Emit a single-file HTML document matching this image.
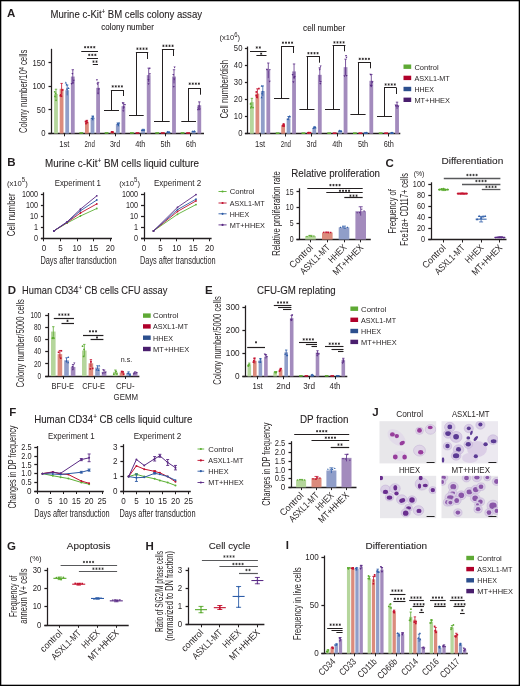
<!DOCTYPE html>
<html><head><meta charset="utf-8"><style>
html,body{margin:0;padding:0;background:#fff;}
svg{display:block;will-change:transform;}
text{font-family:"Liberation Sans", sans-serif;fill:#231f20;}
.t{stroke:#231f20;stroke-width:0.1px;}
</style></head><body>
<svg width="520" height="686" viewBox="0 0 520 686">
<rect x="0" y="0" width="520" height="686" fill="#fff"/>
<text x="7" y="16.5" font-size="11.5" font-weight="bold">A</text>
<text x="50.5" y="18.0" font-size="10.1" class="t" textLength="151.5" lengthAdjust="spacingAndGlyphs">Murine c-Kit<tspan font-size="6.5" dy="-3.8">+</tspan><tspan dy="3.8"> BM cells colony assay</tspan></text>
<text x="101.3" y="30" font-size="8.2" class="t" textLength="52.5" lengthAdjust="spacingAndGlyphs">colony number</text>
<text font-size="10.32" text-anchor="middle" textLength="83.5" lengthAdjust="spacingAndGlyphs" transform="translate(27.2,91.3) rotate(-90)">Colony number/10<tspan font-size="7" dy="-3.6">4</tspan><tspan dy="3.6"> cells</tspan></text>
<line x1="51.5" y1="48.8" x2="51.5" y2="133.5" stroke="#231f20" stroke-width="1.25"/>
<line x1="48.5" y1="62.5" x2="51.5" y2="62.5" stroke="#231f20" stroke-width="1.25"/>
<text x="45.4" y="65.56" font-size="8.6" text-anchor="end" textLength="12.81" lengthAdjust="spacingAndGlyphs">150</text>
<line x1="48.5" y1="86.5" x2="51.5" y2="86.5" stroke="#231f20" stroke-width="1.25"/>
<text x="45.4" y="89.1" font-size="8.6" text-anchor="end" textLength="12.81" lengthAdjust="spacingAndGlyphs">100</text>
<line x1="48.5" y1="109.5" x2="51.5" y2="109.5" stroke="#231f20" stroke-width="1.25"/>
<text x="45.4" y="112.63" font-size="8.6" text-anchor="end" textLength="8.54" lengthAdjust="spacingAndGlyphs">50</text>
<line x1="48.5" y1="133.5" x2="51.5" y2="133.5" stroke="#231f20" stroke-width="1.25"/>
<text x="45.4" y="136.17" font-size="8.6" text-anchor="end" textLength="4.27" lengthAdjust="spacingAndGlyphs">0</text>
<line x1="48.5" y1="133.5" x2="204" y2="133.5" stroke="#231f20" stroke-width="1.3"/>
<line x1="64.5" y1="133.5" x2="64.5" y2="136.3" stroke="#231f20" stroke-width="1"/>
<line x1="89.5" y1="133.5" x2="89.5" y2="136.3" stroke="#231f20" stroke-width="1"/>
<line x1="115.5" y1="133.5" x2="115.5" y2="136.3" stroke="#231f20" stroke-width="1"/>
<line x1="140.5" y1="133.5" x2="140.5" y2="136.3" stroke="#231f20" stroke-width="1"/>
<line x1="165.5" y1="133.5" x2="165.5" y2="136.3" stroke="#231f20" stroke-width="1"/>
<line x1="190.5" y1="133.5" x2="190.5" y2="136.3" stroke="#231f20" stroke-width="1"/>
<rect x="54.1" y="93.96" width="3.8" height="39.54" fill="#b5d69c"/>
<line x1="56" y1="89.22" x2="56" y2="98.71" stroke="#5aaa2e" stroke-width="0.8"/>
<line x1="54.8" y1="89.22" x2="57.2" y2="89.22" stroke="#5aaa2e" stroke-width="0.8"/>
<circle cx="54.94" cy="96.47" r="0.89" fill="#5aaa2e"/>
<circle cx="54.7" cy="91.81" r="0.89" fill="#5aaa2e"/>
<circle cx="55.59" cy="93.45" r="0.89" fill="#5aaa2e"/>
<circle cx="56.02" cy="100.25" r="0.89" fill="#5aaa2e"/>
<rect x="59.7" y="88.78" width="3.8" height="44.72" fill="#db8b7c"/>
<line x1="61.6" y1="83.42" x2="61.6" y2="94.15" stroke="#c4122f" stroke-width="0.8"/>
<line x1="60.4" y1="83.42" x2="62.8" y2="83.42" stroke="#c4122f" stroke-width="0.8"/>
<rect x="60.56" y="95.39" width="1.68" height="1.68" fill="#c4122f"/>
<rect x="59.52" y="94.87" width="1.68" height="1.68" fill="#c4122f"/>
<rect x="61.75" y="89.16" width="1.68" height="1.68" fill="#c4122f"/>
<rect x="59.92" y="94" width="1.68" height="1.68" fill="#c4122f"/>
<rect x="65.3" y="90.2" width="3.8" height="43.3" fill="#909ec9"/>
<line x1="67.2" y1="85" x2="67.2" y2="95.39" stroke="#2e5da8" stroke-width="0.8"/>
<line x1="66" y1="85" x2="68.4" y2="85" stroke="#2e5da8" stroke-width="0.8"/>
<path d="M68.56,87.05L69.61,88.94L67.51,88.94Z" fill="#2e5da8"/>
<path d="M66.89,87.84L67.94,89.73L65.84,89.73Z" fill="#2e5da8"/>
<path d="M65.82,81.62L66.87,83.51L64.77,83.51Z" fill="#2e5da8"/>
<path d="M66.56,83.45L67.61,85.34L65.51,85.34Z" fill="#2e5da8"/>
<rect x="70.9" y="76.55" width="3.8" height="56.95" fill="#a38bbd"/>
<line x1="72.8" y1="69.71" x2="72.8" y2="83.38" stroke="#5b2c86" stroke-width="0.8"/>
<line x1="71.6" y1="69.71" x2="74" y2="69.71" stroke="#5b2c86" stroke-width="0.8"/>
<path d="M71.64,84.99L72.69,83.1L70.59,83.1Z" fill="#5b2c86"/>
<path d="M73.76,81.63L74.81,79.74L72.71,79.74Z" fill="#5b2c86"/>
<path d="M73.05,84.25L74.1,82.36L72,82.36Z" fill="#5b2c86"/>
<path d="M72.41,74.85L73.46,72.96L71.36,72.96Z" fill="#5b2c86"/>
<rect x="79.4" y="132.2" width="3.8" height="1.6" fill="#5aaa2e"/>
<rect x="85" y="121.73" width="3.8" height="11.77" fill="#db8b7c"/>
<line x1="86.9" y1="120.32" x2="86.9" y2="123.14" stroke="#c4122f" stroke-width="0.8"/>
<line x1="85.7" y1="120.32" x2="88.1" y2="120.32" stroke="#c4122f" stroke-width="0.8"/>
<rect x="84.73" y="120.69" width="1.68" height="1.68" fill="#c4122f"/>
<rect x="85.17" y="122.76" width="1.68" height="1.68" fill="#c4122f"/>
<rect x="85.84" y="120.13" width="1.68" height="1.68" fill="#c4122f"/>
<rect x="86.32" y="121.68" width="1.68" height="1.68" fill="#c4122f"/>
<rect x="90.6" y="117.97" width="3.8" height="15.53" fill="#909ec9"/>
<line x1="92.5" y1="116.1" x2="92.5" y2="119.83" stroke="#2e5da8" stroke-width="0.8"/>
<line x1="91.3" y1="116.1" x2="93.7" y2="116.1" stroke="#2e5da8" stroke-width="0.8"/>
<path d="M91.89,117.07L92.94,118.96L90.84,118.96Z" fill="#2e5da8"/>
<path d="M93.1,115.17L94.15,117.06L92.05,117.06Z" fill="#2e5da8"/>
<path d="M92.73,118.24L93.78,120.13L91.68,120.13Z" fill="#2e5da8"/>
<path d="M93.64,116.67L94.69,118.56L92.59,118.56Z" fill="#2e5da8"/>
<rect x="96.2" y="87.84" width="3.8" height="45.66" fill="#a38bbd"/>
<line x1="98.1" y1="82.36" x2="98.1" y2="93.32" stroke="#5b2c86" stroke-width="0.8"/>
<line x1="96.9" y1="82.36" x2="99.3" y2="82.36" stroke="#5b2c86" stroke-width="0.8"/>
<path d="M97.46,85.23L98.51,83.34L96.41,83.34Z" fill="#5b2c86"/>
<path d="M96.94,81.1L97.99,79.21L95.89,79.21Z" fill="#5b2c86"/>
<path d="M98.88,90.34L99.93,88.45L97.83,88.45Z" fill="#5b2c86"/>
<path d="M98.07,94.72L99.12,92.83L97.02,92.83Z" fill="#5b2c86"/>
<rect x="104.7" y="132.2" width="3.8" height="1.6" fill="#5aaa2e"/>
<rect x="110.3" y="132.09" width="3.8" height="1.41" fill="#db8b7c"/>
<line x1="112.2" y1="131.92" x2="112.2" y2="132.26" stroke="#c4122f" stroke-width="0.8"/>
<line x1="111" y1="131.92" x2="113.4" y2="131.92" stroke="#c4122f" stroke-width="0.8"/>
<rect x="111.87" y="131.48" width="1.68" height="1.68" fill="#c4122f"/>
<rect x="111.58" y="131.11" width="1.68" height="1.68" fill="#c4122f"/>
<rect x="110.79" y="131.06" width="1.68" height="1.68" fill="#c4122f"/>
<rect x="111.65" y="131.15" width="1.68" height="1.68" fill="#c4122f"/>
<rect x="115.9" y="124.09" width="3.8" height="9.41" fill="#909ec9"/>
<line x1="117.8" y1="122.96" x2="117.8" y2="125.22" stroke="#2e5da8" stroke-width="0.8"/>
<line x1="116.6" y1="122.96" x2="119" y2="122.96" stroke="#2e5da8" stroke-width="0.8"/>
<path d="M117.67,122.66L118.72,124.55L116.62,124.55Z" fill="#2e5da8"/>
<path d="M119.15,121.78L120.2,123.67L118.1,123.67Z" fill="#2e5da8"/>
<path d="M118.3,123.02L119.35,124.91L117.25,124.91Z" fill="#2e5da8"/>
<path d="M118.41,124.42L119.46,126.31L117.36,126.31Z" fill="#2e5da8"/>
<rect x="121.5" y="106.2" width="3.8" height="27.3" fill="#a38bbd"/>
<line x1="123.4" y1="102.92" x2="123.4" y2="109.48" stroke="#5b2c86" stroke-width="0.8"/>
<line x1="122.2" y1="102.92" x2="124.6" y2="102.92" stroke="#5b2c86" stroke-width="0.8"/>
<path d="M124.9,105.91L125.95,104.02L123.85,104.02Z" fill="#5b2c86"/>
<path d="M122.75,104.19L123.8,102.3L121.7,102.3Z" fill="#5b2c86"/>
<path d="M123.91,108.48L124.96,106.59L122.86,106.59Z" fill="#5b2c86"/>
<path d="M123.28,112.05L124.33,110.16L122.23,110.16Z" fill="#5b2c86"/>
<rect x="130" y="132.2" width="3.8" height="1.6" fill="#5aaa2e"/>
<rect x="135.6" y="132.2" width="3.8" height="1.6" fill="#c4122f"/>
<rect x="141.2" y="129.73" width="3.8" height="3.77" fill="#909ec9"/>
<line x1="143.1" y1="129.28" x2="143.1" y2="130.19" stroke="#2e5da8" stroke-width="0.8"/>
<line x1="141.9" y1="129.28" x2="144.3" y2="129.28" stroke="#2e5da8" stroke-width="0.8"/>
<path d="M141.94,129.03L142.99,130.92L140.89,130.92Z" fill="#2e5da8"/>
<path d="M143.92,129.18L144.97,131.07L142.87,131.07Z" fill="#2e5da8"/>
<path d="M142.33,129.08L143.38,130.97L141.28,130.97Z" fill="#2e5da8"/>
<path d="M144.23,128.73L145.28,130.62L143.18,130.62Z" fill="#2e5da8"/>
<rect x="146.8" y="75.13" width="3.8" height="58.37" fill="#a38bbd"/>
<line x1="148.7" y1="68.13" x2="148.7" y2="82.14" stroke="#5b2c86" stroke-width="0.8"/>
<line x1="147.5" y1="68.13" x2="149.9" y2="68.13" stroke="#5b2c86" stroke-width="0.8"/>
<path d="M148.55,85.1L149.6,83.21L147.5,83.21Z" fill="#5b2c86"/>
<path d="M149.87,75.25L150.92,73.36L148.82,73.36Z" fill="#5b2c86"/>
<path d="M149.81,69.58L150.86,67.69L148.76,67.69Z" fill="#5b2c86"/>
<path d="M148.44,80.94L149.49,79.05L147.39,79.05Z" fill="#5b2c86"/>
<rect x="155.3" y="132.2" width="3.8" height="1.6" fill="#5aaa2e"/>
<rect x="160.9" y="132.2" width="3.8" height="1.6" fill="#c4122f"/>
<rect x="166.5" y="132.09" width="3.8" height="1.41" fill="#909ec9"/>
<line x1="168.4" y1="131.92" x2="168.4" y2="132.26" stroke="#2e5da8" stroke-width="0.8"/>
<line x1="167.2" y1="131.92" x2="169.6" y2="131.92" stroke="#2e5da8" stroke-width="0.8"/>
<path d="M169.57,131L170.62,132.89L168.52,132.89Z" fill="#2e5da8"/>
<path d="M167.34,130.7L168.39,132.59L166.29,132.59Z" fill="#2e5da8"/>
<path d="M167.59,131.1L168.64,132.99L166.54,132.99Z" fill="#2e5da8"/>
<path d="M168.35,131.07L169.4,132.96L167.3,132.96Z" fill="#2e5da8"/>
<rect x="172.1" y="76.55" width="3.8" height="56.95" fill="#a38bbd"/>
<line x1="174" y1="69.71" x2="174" y2="83.38" stroke="#5b2c86" stroke-width="0.8"/>
<line x1="172.8" y1="69.71" x2="175.2" y2="69.71" stroke="#5b2c86" stroke-width="0.8"/>
<path d="M173.28,75.87L174.33,73.98L172.23,73.98Z" fill="#5b2c86"/>
<path d="M173.75,87.87L174.8,85.98L172.7,85.98Z" fill="#5b2c86"/>
<path d="M174.2,80.38L175.25,78.49L173.15,78.49Z" fill="#5b2c86"/>
<path d="M174.58,68.41L175.63,66.52L173.53,66.52Z" fill="#5b2c86"/>
<rect x="180.6" y="132.2" width="3.8" height="1.6" fill="#5aaa2e"/>
<rect x="186.2" y="132.2" width="3.8" height="1.6" fill="#c4122f"/>
<rect x="191.8" y="131.62" width="3.8" height="1.88" fill="#909ec9"/>
<line x1="193.7" y1="131.39" x2="193.7" y2="131.84" stroke="#2e5da8" stroke-width="0.8"/>
<line x1="192.5" y1="131.39" x2="194.9" y2="131.39" stroke="#2e5da8" stroke-width="0.8"/>
<path d="M194.06,130.45L195.11,132.34L193.01,132.34Z" fill="#2e5da8"/>
<path d="M192.34,130.34L193.39,132.23L191.29,132.23Z" fill="#2e5da8"/>
<path d="M194.55,130.19L195.6,132.08L193.5,132.08Z" fill="#2e5da8"/>
<path d="M194.61,130.21L195.66,132.1L193.56,132.1Z" fill="#2e5da8"/>
<rect x="197.4" y="105.26" width="3.8" height="28.24" fill="#a38bbd"/>
<line x1="199.3" y1="101.87" x2="199.3" y2="108.65" stroke="#5b2c86" stroke-width="0.8"/>
<line x1="198.1" y1="101.87" x2="200.5" y2="101.87" stroke="#5b2c86" stroke-width="0.8"/>
<path d="M198.99,107.51L200.04,105.62L197.94,105.62Z" fill="#5b2c86"/>
<path d="M199.71,110.44L200.76,108.55L198.66,108.55Z" fill="#5b2c86"/>
<path d="M197.98,110.86L199.03,108.97L196.93,108.97Z" fill="#5b2c86"/>
<path d="M198.27,109.37L199.32,107.48L197.22,107.48Z" fill="#5b2c86"/>
<text x="64.4" y="147.2" font-size="8.6" text-anchor="middle" textLength="10.2" lengthAdjust="spacingAndGlyphs">1st</text>
<text x="89.7" y="147.2" font-size="8.6" text-anchor="middle" textLength="10.2" lengthAdjust="spacingAndGlyphs">2nd</text>
<text x="115" y="147.2" font-size="8.6" text-anchor="middle" textLength="10.2" lengthAdjust="spacingAndGlyphs">3rd</text>
<text x="140.3" y="147.2" font-size="8.6" text-anchor="middle" textLength="10.2" lengthAdjust="spacingAndGlyphs">4th</text>
<text x="165.6" y="147.2" font-size="8.6" text-anchor="middle" textLength="10.2" lengthAdjust="spacingAndGlyphs">5th</text>
<text x="190.9" y="147.2" font-size="8.6" text-anchor="middle" textLength="10.2" lengthAdjust="spacingAndGlyphs">6th</text>
<path d="M85.12,46.05L85.12,48.35M84.13,46.62L86.12,47.78M84.13,47.78L86.12,46.62M88.17,46.05L88.17,48.35M87.18,46.62L89.17,47.78M87.18,47.78L89.17,46.62M91.22,46.05L91.22,48.35M90.23,46.62L92.22,47.78M90.23,47.78L92.22,46.62M94.28,46.05L94.28,48.35M93.28,46.62L95.27,47.78M93.28,47.78L95.27,46.62" stroke="#231f20" stroke-width="0.75" fill="none"/>
<line x1="81.25" y1="51.5" x2="98" y2="51.5" stroke="#231f20" stroke-width="1"/>
<path d="M89.25,53.75L89.25,56.05M88.25,54.32L90.25,55.48M88.25,55.48L90.25,54.32M92.3,53.75L92.3,56.05M91.3,54.32L93.3,55.48M91.3,55.48L93.3,54.32M95.35,53.75L95.35,56.05M94.35,54.32L96.35,55.48M94.35,55.48L96.35,54.32" stroke="#231f20" stroke-width="0.75" fill="none"/>
<line x1="87" y1="58.5" x2="98" y2="58.5" stroke="#231f20" stroke-width="1"/>
<path d="M93.47,60.45L93.47,62.75M92.48,61.02L94.47,62.18M92.48,62.18L94.47,61.02M96.52,60.45L96.52,62.75M95.53,61.02L97.52,62.18M95.53,62.18L97.52,61.02" stroke="#231f20" stroke-width="0.75" fill="none"/>
<line x1="92.8" y1="64.5" x2="98" y2="64.5" stroke="#231f20" stroke-width="1"/>
<line x1="104" y1="110.5" x2="119" y2="110.5" stroke="#231f20" stroke-width="1"/>
<line x1="111.5" y1="110.4" x2="111.5" y2="90" stroke="#231f20" stroke-width="1"/>
<line x1="110.9" y1="90.5" x2="123.5" y2="90.5" stroke="#231f20" stroke-width="1"/>
<line x1="123.5" y1="90" x2="123.5" y2="96" stroke="#231f20" stroke-width="1"/>
<path d="M112.72,85.25L112.72,87.55M111.73,85.83L113.72,86.98M111.73,86.98L113.72,85.83M115.77,85.25L115.77,87.55M114.78,85.83L116.77,86.98M114.78,86.98L116.77,85.83M118.82,85.25L118.82,87.55M117.83,85.83L119.82,86.98M117.83,86.98L119.82,85.83M121.88,85.25L121.88,87.55M120.88,85.83L122.87,86.98M120.88,86.98L122.87,85.83" stroke="#231f20" stroke-width="0.75" fill="none"/>
<line x1="129" y1="115.5" x2="143.7" y2="115.5" stroke="#231f20" stroke-width="1"/>
<line x1="136.5" y1="115.5" x2="136.5" y2="52.4" stroke="#231f20" stroke-width="1"/>
<line x1="135.9" y1="52.5" x2="148.2" y2="52.5" stroke="#231f20" stroke-width="1"/>
<line x1="147.5" y1="52.4" x2="147.5" y2="59" stroke="#231f20" stroke-width="1"/>
<path d="M137.43,47.55L137.43,49.85M136.43,48.12L138.42,49.28M136.43,49.28L138.42,48.12M140.48,47.55L140.48,49.85M139.48,48.12L141.47,49.28M139.48,49.28L141.47,48.12M143.53,47.55L143.53,49.85M142.53,48.12L144.52,49.28M142.53,49.28L144.52,48.12M146.58,47.55L146.58,49.85M145.58,48.12L147.57,49.28M145.58,49.28L147.57,48.12" stroke="#231f20" stroke-width="0.75" fill="none"/>
<line x1="154" y1="121.5" x2="169.7" y2="121.5" stroke="#231f20" stroke-width="1"/>
<line x1="162.5" y1="121.2" x2="162.5" y2="49.5" stroke="#231f20" stroke-width="1"/>
<line x1="161.9" y1="49.5" x2="174.3" y2="49.5" stroke="#231f20" stroke-width="1"/>
<line x1="173.5" y1="49.5" x2="173.5" y2="56" stroke="#231f20" stroke-width="1"/>
<path d="M163.43,44.65L163.43,46.95M162.43,45.22L164.42,46.38M162.43,46.38L164.42,45.22M166.48,44.65L166.48,46.95M165.48,45.22L167.47,46.38M165.48,46.38L167.47,45.22M169.53,44.65L169.53,46.95M168.53,45.22L170.52,46.38M168.53,46.38L170.52,45.22M172.58,44.65L172.58,46.95M171.58,45.22L173.57,46.38M171.58,46.38L173.57,45.22" stroke="#231f20" stroke-width="0.75" fill="none"/>
<line x1="181.3" y1="121.5" x2="196" y2="121.5" stroke="#231f20" stroke-width="1"/>
<line x1="188.5" y1="121.2" x2="188.5" y2="88" stroke="#231f20" stroke-width="1"/>
<line x1="188.1" y1="88.5" x2="200.5" y2="88.5" stroke="#231f20" stroke-width="1"/>
<line x1="200.5" y1="88" x2="200.5" y2="94.7" stroke="#231f20" stroke-width="1"/>
<path d="M189.73,82.55L189.73,84.85M188.73,83.12L190.72,84.28M188.73,84.28L190.72,83.12M192.78,82.55L192.78,84.85M191.78,83.12L193.77,84.28M191.78,84.28L193.77,83.12M195.83,82.55L195.83,84.85M194.83,83.12L196.82,84.28M194.83,84.28L196.82,83.12M198.88,82.55L198.88,84.85M197.88,83.12L199.87,84.28M197.88,84.28L199.87,83.12" stroke="#231f20" stroke-width="0.75" fill="none"/>
<text x="219.5" y="39.7" font-size="8" textLength="20.5" lengthAdjust="spacingAndGlyphs">(x10<tspan font-size="6.3" dy="-3.2">6</tspan><tspan dy="3.2">)</tspan></text>
<text x="303.1" y="31.3" font-size="8.2" class="t" textLength="42.1" lengthAdjust="spacingAndGlyphs">cell number</text>
<text font-size="10.32" text-anchor="middle" textLength="58.6" lengthAdjust="spacingAndGlyphs" transform="translate(228.2,89.3) rotate(-90)">Cell number/dish</text>
<line x1="247.5" y1="46.5" x2="247.5" y2="133.7" stroke="#231f20" stroke-width="1.25"/>
<line x1="244.9" y1="48.5" x2="247.9" y2="48.5" stroke="#231f20" stroke-width="1.25"/>
<text x="242.4" y="51.07" font-size="8.6" text-anchor="end" textLength="8.54" lengthAdjust="spacingAndGlyphs">50</text>
<line x1="244.9" y1="65.5" x2="247.9" y2="65.5" stroke="#231f20" stroke-width="1.25"/>
<text x="242.4" y="68.13" font-size="8.6" text-anchor="end" textLength="8.54" lengthAdjust="spacingAndGlyphs">40</text>
<line x1="244.9" y1="82.5" x2="247.9" y2="82.5" stroke="#231f20" stroke-width="1.25"/>
<text x="242.4" y="85.19" font-size="8.6" text-anchor="end" textLength="8.54" lengthAdjust="spacingAndGlyphs">30</text>
<line x1="244.9" y1="99.5" x2="247.9" y2="99.5" stroke="#231f20" stroke-width="1.25"/>
<text x="242.4" y="102.25" font-size="8.6" text-anchor="end" textLength="8.54" lengthAdjust="spacingAndGlyphs">20</text>
<line x1="244.9" y1="116.5" x2="247.9" y2="116.5" stroke="#231f20" stroke-width="1.25"/>
<text x="242.4" y="119.31" font-size="8.6" text-anchor="end" textLength="8.54" lengthAdjust="spacingAndGlyphs">10</text>
<line x1="244.9" y1="133.5" x2="247.9" y2="133.5" stroke="#231f20" stroke-width="1.25"/>
<text x="242.4" y="136.37" font-size="8.6" text-anchor="end" textLength="4.27" lengthAdjust="spacingAndGlyphs">0</text>
<line x1="244.9" y1="133.5" x2="400.3" y2="133.5" stroke="#231f20" stroke-width="1.3"/>
<line x1="260.5" y1="133.7" x2="260.5" y2="136.5" stroke="#231f20" stroke-width="1"/>
<line x1="285.5" y1="133.7" x2="285.5" y2="136.5" stroke="#231f20" stroke-width="1"/>
<line x1="311.5" y1="133.7" x2="311.5" y2="136.5" stroke="#231f20" stroke-width="1"/>
<line x1="337.5" y1="133.7" x2="337.5" y2="136.5" stroke="#231f20" stroke-width="1"/>
<line x1="363.5" y1="133.7" x2="363.5" y2="136.5" stroke="#231f20" stroke-width="1"/>
<line x1="388.5" y1="133.7" x2="388.5" y2="136.5" stroke="#231f20" stroke-width="1"/>
<rect x="250" y="102.14" width="3.8" height="31.56" fill="#b5d69c"/>
<line x1="251.9" y1="98.35" x2="251.9" y2="105.93" stroke="#5aaa2e" stroke-width="0.8"/>
<line x1="250.7" y1="98.35" x2="253.1" y2="98.35" stroke="#5aaa2e" stroke-width="0.8"/>
<circle cx="250.54" cy="103.96" r="0.89" fill="#5aaa2e"/>
<circle cx="250.84" cy="107.82" r="0.89" fill="#5aaa2e"/>
<circle cx="251.49" cy="106.67" r="0.89" fill="#5aaa2e"/>
<circle cx="253.04" cy="107.53" r="0.89" fill="#5aaa2e"/>
<rect x="255.5" y="93.61" width="3.8" height="40.09" fill="#db8b7c"/>
<line x1="257.4" y1="88.8" x2="257.4" y2="98.42" stroke="#c4122f" stroke-width="0.8"/>
<line x1="256.2" y1="88.8" x2="258.6" y2="88.8" stroke="#c4122f" stroke-width="0.8"/>
<rect x="255.49" y="91.12" width="1.68" height="1.68" fill="#c4122f"/>
<rect x="256.1" y="96.34" width="1.68" height="1.68" fill="#c4122f"/>
<rect x="255.41" y="94.73" width="1.68" height="1.68" fill="#c4122f"/>
<rect x="258.06" y="87.73" width="1.68" height="1.68" fill="#c4122f"/>
<rect x="260.9" y="91.05" width="3.8" height="42.65" fill="#909ec9"/>
<line x1="262.8" y1="85.93" x2="262.8" y2="96.17" stroke="#2e5da8" stroke-width="0.8"/>
<line x1="261.6" y1="85.93" x2="264" y2="85.93" stroke="#2e5da8" stroke-width="0.8"/>
<path d="M262.75,90.42L263.8,92.31L261.7,92.31Z" fill="#2e5da8"/>
<path d="M261.59,96.25L262.64,98.14L260.54,98.14Z" fill="#2e5da8"/>
<path d="M262.08,92.31L263.13,94.2L261.03,94.2Z" fill="#2e5da8"/>
<path d="M261.77,84.85L262.82,86.74L260.72,86.74Z" fill="#2e5da8"/>
<rect x="266.4" y="70.58" width="3.8" height="63.12" fill="#a38bbd"/>
<line x1="268.3" y1="63" x2="268.3" y2="78.15" stroke="#5b2c86" stroke-width="0.8"/>
<line x1="267.1" y1="63" x2="269.5" y2="63" stroke="#5b2c86" stroke-width="0.8"/>
<path d="M269.67,82.57L270.72,80.68L268.62,80.68Z" fill="#5b2c86"/>
<path d="M267.23,71.09L268.28,69.2L266.18,69.2Z" fill="#5b2c86"/>
<path d="M266.86,70.75L267.91,68.86L265.81,68.86Z" fill="#5b2c86"/>
<path d="M269.75,71.09L270.8,69.2L268.7,69.2Z" fill="#5b2c86"/>
<rect x="275.75" y="132.4" width="3.8" height="1.6" fill="#5aaa2e"/>
<rect x="281.25" y="125.17" width="3.8" height="8.53" fill="#db8b7c"/>
<line x1="283.15" y1="124.15" x2="283.15" y2="126.19" stroke="#c4122f" stroke-width="0.8"/>
<line x1="281.95" y1="124.15" x2="284.35" y2="124.15" stroke="#c4122f" stroke-width="0.8"/>
<rect x="282.91" y="123.21" width="1.68" height="1.68" fill="#c4122f"/>
<rect x="281.9" y="125.06" width="1.68" height="1.68" fill="#c4122f"/>
<rect x="283.14" y="125.35" width="1.68" height="1.68" fill="#c4122f"/>
<rect x="283.16" y="124.23" width="1.68" height="1.68" fill="#c4122f"/>
<rect x="286.65" y="118.35" width="3.8" height="15.35" fill="#909ec9"/>
<line x1="288.55" y1="116.5" x2="288.55" y2="120.19" stroke="#2e5da8" stroke-width="0.8"/>
<line x1="287.35" y1="116.5" x2="289.75" y2="116.5" stroke="#2e5da8" stroke-width="0.8"/>
<path d="M287.71,118.13L288.76,120.02L286.66,120.02Z" fill="#2e5da8"/>
<path d="M290.02,115.47L291.07,117.36L288.97,117.36Z" fill="#2e5da8"/>
<path d="M289.48,115.24L290.53,117.13L288.43,117.13Z" fill="#2e5da8"/>
<path d="M289.28,115.43L290.33,117.32L288.23,117.32Z" fill="#2e5da8"/>
<rect x="292.15" y="71.43" width="3.8" height="62.27" fill="#a38bbd"/>
<line x1="294.05" y1="63.96" x2="294.05" y2="78.9" stroke="#5b2c86" stroke-width="0.8"/>
<line x1="292.85" y1="63.96" x2="295.25" y2="63.96" stroke="#5b2c86" stroke-width="0.8"/>
<path d="M294.1,78.71L295.15,76.82L293.05,76.82Z" fill="#5b2c86"/>
<path d="M292.62,75.82L293.67,73.93L291.57,73.93Z" fill="#5b2c86"/>
<path d="M293.38,83.17L294.43,81.28L292.33,81.28Z" fill="#5b2c86"/>
<path d="M294.64,77.98L295.69,76.09L293.59,76.09Z" fill="#5b2c86"/>
<rect x="301.5" y="132.4" width="3.8" height="1.6" fill="#5aaa2e"/>
<rect x="307" y="132.85" width="3.8" height="0.85" fill="#db8b7c"/>
<line x1="308.9" y1="132.74" x2="308.9" y2="132.95" stroke="#c4122f" stroke-width="0.8"/>
<line x1="307.7" y1="132.74" x2="310.1" y2="132.74" stroke="#c4122f" stroke-width="0.8"/>
<rect x="307.9" y="131.87" width="1.68" height="1.68" fill="#c4122f"/>
<rect x="309.54" y="131.87" width="1.68" height="1.68" fill="#c4122f"/>
<rect x="307.65" y="131.87" width="1.68" height="1.68" fill="#c4122f"/>
<rect x="307.23" y="132.09" width="1.68" height="1.68" fill="#c4122f"/>
<rect x="312.4" y="127.73" width="3.8" height="5.97" fill="#909ec9"/>
<line x1="314.3" y1="127.01" x2="314.3" y2="128.45" stroke="#2e5da8" stroke-width="0.8"/>
<line x1="313.1" y1="127.01" x2="315.5" y2="127.01" stroke="#2e5da8" stroke-width="0.8"/>
<path d="M313.4,127.23L314.45,129.12L312.35,129.12Z" fill="#2e5da8"/>
<path d="M315.52,126.31L316.57,128.2L314.47,128.2Z" fill="#2e5da8"/>
<path d="M314.24,125.84L315.29,127.73L313.19,127.73Z" fill="#2e5da8"/>
<path d="M315.21,126.25L316.26,128.14L314.16,128.14Z" fill="#2e5da8"/>
<rect x="317.9" y="74.84" width="3.8" height="58.86" fill="#a38bbd"/>
<line x1="319.8" y1="67.78" x2="319.8" y2="81.91" stroke="#5b2c86" stroke-width="0.8"/>
<line x1="318.6" y1="67.78" x2="321" y2="67.78" stroke="#5b2c86" stroke-width="0.8"/>
<path d="M320.29,84.8L321.34,82.91L319.24,82.91Z" fill="#5b2c86"/>
<path d="M320.66,67.32L321.71,65.43L319.61,65.43Z" fill="#5b2c86"/>
<path d="M319.73,70.7L320.78,68.81L318.68,68.81Z" fill="#5b2c86"/>
<path d="M320.68,82.81L321.73,80.92L319.63,80.92Z" fill="#5b2c86"/>
<rect x="327.25" y="132.4" width="3.8" height="1.6" fill="#5aaa2e"/>
<rect x="332.75" y="132.4" width="3.8" height="1.6" fill="#c4122f"/>
<rect x="338.15" y="131.14" width="3.8" height="2.56" fill="#909ec9"/>
<line x1="340.05" y1="130.83" x2="340.05" y2="131.45" stroke="#2e5da8" stroke-width="0.8"/>
<line x1="338.85" y1="130.83" x2="341.25" y2="130.83" stroke="#2e5da8" stroke-width="0.8"/>
<path d="M340.96,130.14L342.01,132.03L339.91,132.03Z" fill="#2e5da8"/>
<path d="M339.73,129.55L340.78,131.44L338.68,131.44Z" fill="#2e5da8"/>
<path d="M341.41,130.08L342.46,131.97L340.36,131.97Z" fill="#2e5da8"/>
<path d="M339.05,129.78L340.1,131.67L338,131.67Z" fill="#2e5da8"/>
<rect x="343.65" y="67.17" width="3.8" height="66.53" fill="#a38bbd"/>
<line x1="345.55" y1="59.18" x2="345.55" y2="75.15" stroke="#5b2c86" stroke-width="0.8"/>
<line x1="344.35" y1="59.18" x2="346.75" y2="59.18" stroke="#5b2c86" stroke-width="0.8"/>
<path d="M344.49,77.25L345.54,75.36L343.44,75.36Z" fill="#5b2c86"/>
<path d="M346.48,58.62L347.53,56.73L345.43,56.73Z" fill="#5b2c86"/>
<path d="M346.54,76.8L347.59,74.91L345.49,74.91Z" fill="#5b2c86"/>
<path d="M346.03,56.82L347.08,54.93L344.98,54.93Z" fill="#5b2c86"/>
<rect x="353" y="132.4" width="3.8" height="1.6" fill="#5aaa2e"/>
<rect x="358.5" y="132.4" width="3.8" height="1.6" fill="#c4122f"/>
<rect x="363.9" y="132.85" width="3.8" height="0.85" fill="#909ec9"/>
<line x1="365.8" y1="132.74" x2="365.8" y2="132.95" stroke="#2e5da8" stroke-width="0.8"/>
<line x1="364.6" y1="132.74" x2="367" y2="132.74" stroke="#2e5da8" stroke-width="0.8"/>
<path d="M365.95,131.74L367,133.63L364.9,133.63Z" fill="#2e5da8"/>
<path d="M364.32,131.81L365.37,133.7L363.27,133.7Z" fill="#2e5da8"/>
<path d="M366.26,131.55L367.31,133.44L365.21,133.44Z" fill="#2e5da8"/>
<path d="M367.12,131.68L368.17,133.57L366.07,133.57Z" fill="#2e5da8"/>
<rect x="369.4" y="80.81" width="3.8" height="52.89" fill="#a38bbd"/>
<line x1="371.3" y1="74.47" x2="371.3" y2="87.16" stroke="#5b2c86" stroke-width="0.8"/>
<line x1="370.1" y1="74.47" x2="372.5" y2="74.47" stroke="#5b2c86" stroke-width="0.8"/>
<path d="M372.43,83.23L373.48,81.34L371.38,81.34Z" fill="#5b2c86"/>
<path d="M370.42,75.76L371.47,73.87L369.37,73.87Z" fill="#5b2c86"/>
<path d="M370.67,86.69L371.72,84.8L369.62,84.8Z" fill="#5b2c86"/>
<path d="M371.56,86.91L372.61,85.02L370.51,85.02Z" fill="#5b2c86"/>
<rect x="378.75" y="132.4" width="3.8" height="1.6" fill="#5aaa2e"/>
<rect x="384.25" y="132.4" width="3.8" height="1.6" fill="#c4122f"/>
<rect x="389.65" y="132.85" width="3.8" height="0.85" fill="#909ec9"/>
<line x1="391.55" y1="132.74" x2="391.55" y2="132.95" stroke="#2e5da8" stroke-width="0.8"/>
<line x1="390.35" y1="132.74" x2="392.75" y2="132.74" stroke="#2e5da8" stroke-width="0.8"/>
<path d="M391.3,131.77L392.35,133.66L390.25,133.66Z" fill="#2e5da8"/>
<path d="M392.8,131.81L393.85,133.7L391.75,133.7Z" fill="#2e5da8"/>
<path d="M391.42,131.74L392.47,133.63L390.37,133.63Z" fill="#2e5da8"/>
<path d="M392.78,131.67L393.83,133.56L391.73,133.56Z" fill="#2e5da8"/>
<rect x="395.15" y="105.55" width="3.8" height="28.15" fill="#a38bbd"/>
<line x1="397.05" y1="102.17" x2="397.05" y2="108.93" stroke="#5b2c86" stroke-width="0.8"/>
<line x1="395.85" y1="102.17" x2="398.25" y2="102.17" stroke="#5b2c86" stroke-width="0.8"/>
<path d="M398.32,107.51L399.37,105.62L397.27,105.62Z" fill="#5b2c86"/>
<path d="M397.15,106.69L398.2,104.8L396.1,104.8Z" fill="#5b2c86"/>
<path d="M395.59,106.47L396.64,104.58L394.54,104.58Z" fill="#5b2c86"/>
<path d="M396.09,107.31L397.14,105.42L395.04,105.42Z" fill="#5b2c86"/>
<text x="260.1" y="147.2" font-size="8.6" text-anchor="middle" textLength="10.2" lengthAdjust="spacingAndGlyphs">1st</text>
<text x="285.85" y="147.2" font-size="8.6" text-anchor="middle" textLength="10.2" lengthAdjust="spacingAndGlyphs">2nd</text>
<text x="311.6" y="147.2" font-size="8.6" text-anchor="middle" textLength="10.2" lengthAdjust="spacingAndGlyphs">3rd</text>
<text x="337.35" y="147.2" font-size="8.6" text-anchor="middle" textLength="10.2" lengthAdjust="spacingAndGlyphs">4th</text>
<text x="363.1" y="147.2" font-size="8.6" text-anchor="middle" textLength="10.2" lengthAdjust="spacingAndGlyphs">5th</text>
<text x="388.85" y="147.2" font-size="8.6" text-anchor="middle" textLength="10.2" lengthAdjust="spacingAndGlyphs">6th</text>
<path d="M256.78,46.35L256.78,48.65M255.78,46.92L257.77,48.08M255.78,48.08L257.77,46.92M259.83,46.35L259.83,48.65M258.83,46.92L260.82,48.08M258.83,48.08L260.82,46.92" stroke="#231f20" stroke-width="0.75" fill="none"/>
<line x1="250" y1="51.5" x2="266.5" y2="51.5" stroke="#231f20" stroke-width="1"/>
<path d="M261.2,52.55L261.2,54.85M260.2,53.12L262.2,54.28M260.2,54.28L262.2,53.12" stroke="#231f20" stroke-width="0.75" fill="none"/>
<line x1="256.4" y1="55.5" x2="266.5" y2="55.5" stroke="#231f20" stroke-width="1"/>
<line x1="274" y1="98.5" x2="289.3" y2="98.5" stroke="#231f20" stroke-width="1"/>
<line x1="281.5" y1="98.7" x2="281.5" y2="46.5" stroke="#231f20" stroke-width="1"/>
<line x1="281" y1="46.5" x2="294.2" y2="46.5" stroke="#231f20" stroke-width="1"/>
<line x1="293.5" y1="46.5" x2="293.5" y2="53" stroke="#231f20" stroke-width="1"/>
<path d="M282.93,41.55L282.93,43.85M281.93,42.12L283.92,43.28M281.93,43.28L283.92,42.12M285.98,41.55L285.98,43.85M284.98,42.12L286.97,43.28M284.98,43.28L286.97,42.12M289.03,41.55L289.03,43.85M288.03,42.12L290.02,43.28M288.03,43.28L290.02,42.12M292.07,41.55L292.07,43.85M291.08,42.12L293.07,43.28M291.08,43.28L293.07,42.12" stroke="#231f20" stroke-width="0.75" fill="none"/>
<line x1="299.4" y1="109.5" x2="314.5" y2="109.5" stroke="#231f20" stroke-width="1"/>
<line x1="307.5" y1="109" x2="307.5" y2="56.4" stroke="#231f20" stroke-width="1"/>
<line x1="306.5" y1="56.5" x2="319.8" y2="56.5" stroke="#231f20" stroke-width="1"/>
<line x1="319.5" y1="56.4" x2="319.5" y2="62.7" stroke="#231f20" stroke-width="1"/>
<path d="M308.43,52.05L308.43,54.35M307.43,52.62L309.42,53.78M307.43,53.78L309.42,52.62M311.48,52.05L311.48,54.35M310.48,52.62L312.47,53.78M310.48,53.78L312.47,52.62M314.53,52.05L314.53,54.35M313.53,52.62L315.52,53.78M313.53,53.78L315.52,52.62M317.57,52.05L317.57,54.35M316.58,52.62L318.57,53.78M316.58,53.78L318.57,52.62" stroke="#231f20" stroke-width="0.75" fill="none"/>
<line x1="325" y1="109.5" x2="340" y2="109.5" stroke="#231f20" stroke-width="1"/>
<line x1="333.5" y1="109" x2="333.5" y2="45.6" stroke="#231f20" stroke-width="1"/>
<line x1="332.6" y1="45.5" x2="345.4" y2="45.5" stroke="#231f20" stroke-width="1"/>
<line x1="344.5" y1="45.6" x2="344.5" y2="51.3" stroke="#231f20" stroke-width="1"/>
<path d="M334.43,41.25L334.43,43.55M333.43,41.82L335.42,42.98M333.43,42.98L335.42,41.82M337.48,41.25L337.48,43.55M336.48,41.82L338.47,42.98M336.48,42.98L338.47,41.82M340.53,41.25L340.53,43.55M339.53,41.82L341.52,42.98M339.53,42.98L341.52,41.82M343.57,41.25L343.57,43.55M342.58,41.82L344.57,42.98M342.58,42.98L344.57,41.82" stroke="#231f20" stroke-width="0.75" fill="none"/>
<line x1="350.4" y1="114.5" x2="365.6" y2="114.5" stroke="#231f20" stroke-width="1"/>
<line x1="358.5" y1="114.4" x2="358.5" y2="62" stroke="#231f20" stroke-width="1"/>
<line x1="357.9" y1="62.5" x2="370.8" y2="62.5" stroke="#231f20" stroke-width="1"/>
<line x1="370.5" y1="62" x2="370.5" y2="68.3" stroke="#231f20" stroke-width="1"/>
<path d="M359.73,57.75L359.73,60.05M358.73,58.32L360.72,59.48M358.73,59.48L360.72,58.32M362.78,57.75L362.78,60.05M361.78,58.32L363.77,59.48M361.78,59.48L363.77,58.32M365.83,57.75L365.83,60.05M364.83,58.32L366.82,59.48M364.83,59.48L366.82,58.32M368.88,57.75L368.88,60.05M367.88,58.32L369.87,59.48M367.88,59.48L369.87,58.32" stroke="#231f20" stroke-width="0.75" fill="none"/>
<line x1="377" y1="116.5" x2="392" y2="116.5" stroke="#231f20" stroke-width="1"/>
<line x1="384.5" y1="116.7" x2="384.5" y2="87.9" stroke="#231f20" stroke-width="1"/>
<line x1="384" y1="87.5" x2="396.5" y2="87.5" stroke="#231f20" stroke-width="1"/>
<line x1="396.5" y1="87.9" x2="396.5" y2="94" stroke="#231f20" stroke-width="1"/>
<path d="M385.62,83.35L385.62,85.65M384.63,83.92L386.62,85.08M384.63,85.08L386.62,83.92M388.68,83.35L388.68,85.65M387.68,83.92L389.67,85.08M387.68,85.08L389.67,83.92M391.73,83.35L391.73,85.65M390.73,83.92L392.72,85.08M390.73,85.08L392.72,83.92M394.77,83.35L394.77,85.65M393.78,83.92L395.77,85.08M393.78,85.08L395.77,83.92" stroke="#231f20" stroke-width="0.75" fill="none"/>
<rect x="403.5" y="64.5" width="7.7" height="4.4" fill="#5ea934"/>
<text x="414.4" y="69.58" font-size="8" textLength="24.2" lengthAdjust="spacingAndGlyphs">Control</text>
<rect x="403.5" y="75.7" width="7.7" height="4.4" fill="#b0002a"/>
<text x="414.4" y="80.78" font-size="8" textLength="35.4" lengthAdjust="spacingAndGlyphs">ASXL1-MT</text>
<rect x="403.5" y="86.8" width="7.7" height="4.4" fill="#2c4f8e"/>
<text x="414.4" y="91.88" font-size="8" textLength="19.6" lengthAdjust="spacingAndGlyphs">HHEX</text>
<rect x="403.5" y="97.6" width="7.7" height="4.4" fill="#4a1e6e"/>
<text x="414.4" y="102.68" font-size="8" textLength="35.6" lengthAdjust="spacingAndGlyphs">MT+HHEX</text>
<text x="7.2" y="166.3" font-size="11.5" font-weight="bold">B</text>
<text x="45" y="167.1" font-size="10.1" class="t" textLength="154" lengthAdjust="spacingAndGlyphs">Murine c-Kit<tspan font-size="6.5" dy="-3.8">+</tspan><tspan dy="3.8"> BM cells liquid culture</tspan></text>
<text x="6.9" y="185.6" font-size="8" textLength="20.8" lengthAdjust="spacingAndGlyphs">(x10<tspan font-size="6.3" dy="-3.2">5</tspan><tspan dy="3.2">)</tspan></text>
<text x="54.7" y="186.4" font-size="8.2" textLength="46.3" lengthAdjust="spacingAndGlyphs">Experiment 1</text>
<line x1="43.5" y1="192.3" x2="43.5" y2="238.5" stroke="#231f20" stroke-width="1.25"/>
<line x1="40.9" y1="194.5" x2="43.9" y2="194.5" stroke="#231f20" stroke-width="1.25"/>
<text x="38" y="197.27" font-size="8.6" text-anchor="end" textLength="16" lengthAdjust="spacingAndGlyphs">1000</text>
<line x1="40.9" y1="205.5" x2="43.9" y2="205.5" stroke="#231f20" stroke-width="1.25"/>
<text x="38" y="208.17" font-size="8.6" text-anchor="end" textLength="12" lengthAdjust="spacingAndGlyphs">100</text>
<line x1="40.9" y1="216.5" x2="43.9" y2="216.5" stroke="#231f20" stroke-width="1.25"/>
<text x="38" y="219.27" font-size="8.6" text-anchor="end" textLength="8" lengthAdjust="spacingAndGlyphs">10</text>
<line x1="40.9" y1="227.5" x2="43.9" y2="227.5" stroke="#231f20" stroke-width="1.25"/>
<text x="38" y="230.37" font-size="8.6" text-anchor="end" textLength="4" lengthAdjust="spacingAndGlyphs">1</text>
<line x1="40.9" y1="238.5" x2="43.9" y2="238.5" stroke="#231f20" stroke-width="1.25"/>
<text x="38" y="241.17" font-size="8.6" text-anchor="end" textLength="4" lengthAdjust="spacingAndGlyphs">0</text>
<line x1="40.9" y1="238.5" x2="112" y2="238.5" stroke="#231f20" stroke-width="1.3"/>
<line x1="43.5" y1="238.5" x2="43.5" y2="241.3" stroke="#231f20" stroke-width="1"/>
<text x="43.9" y="250.9" font-size="8.8" text-anchor="middle" textLength="4.5" lengthAdjust="spacingAndGlyphs">0</text>
<line x1="60.5" y1="238.5" x2="60.5" y2="241.3" stroke="#231f20" stroke-width="1"/>
<text x="60.5" y="250.9" font-size="8.8" text-anchor="middle" textLength="4.5" lengthAdjust="spacingAndGlyphs">5</text>
<line x1="77.5" y1="238.5" x2="77.5" y2="241.3" stroke="#231f20" stroke-width="1"/>
<text x="77.1" y="250.9" font-size="8.8" text-anchor="middle" textLength="9" lengthAdjust="spacingAndGlyphs">10</text>
<line x1="93.5" y1="238.5" x2="93.5" y2="241.3" stroke="#231f20" stroke-width="1"/>
<text x="93.7" y="250.9" font-size="8.8" text-anchor="middle" textLength="9" lengthAdjust="spacingAndGlyphs">15</text>
<line x1="110.5" y1="238.5" x2="110.5" y2="241.3" stroke="#231f20" stroke-width="1"/>
<text x="110.3" y="250.9" font-size="8.8" text-anchor="middle" textLength="9" lengthAdjust="spacingAndGlyphs">20</text>
<text x="40.4" y="264.1" font-size="10.3" textLength="76.2" lengthAdjust="spacingAndGlyphs">Days after transduction</text>
<text x="119.2" y="185.6" font-size="8" textLength="20.8" lengthAdjust="spacingAndGlyphs">(x10<tspan font-size="6.3" dy="-3.2">5</tspan><tspan dy="3.2">)</tspan></text>
<text x="153.9" y="186.4" font-size="8.2" textLength="47.3" lengthAdjust="spacingAndGlyphs">Experiment 2</text>
<line x1="144.5" y1="192.3" x2="144.5" y2="238.5" stroke="#231f20" stroke-width="1.25"/>
<line x1="141" y1="194.5" x2="144" y2="194.5" stroke="#231f20" stroke-width="1.25"/>
<text x="138.1" y="197.27" font-size="8.6" text-anchor="end" textLength="16" lengthAdjust="spacingAndGlyphs">1000</text>
<line x1="141" y1="205.5" x2="144" y2="205.5" stroke="#231f20" stroke-width="1.25"/>
<text x="138.1" y="208.17" font-size="8.6" text-anchor="end" textLength="12" lengthAdjust="spacingAndGlyphs">100</text>
<line x1="141" y1="216.5" x2="144" y2="216.5" stroke="#231f20" stroke-width="1.25"/>
<text x="138.1" y="219.27" font-size="8.6" text-anchor="end" textLength="8" lengthAdjust="spacingAndGlyphs">10</text>
<line x1="141" y1="227.5" x2="144" y2="227.5" stroke="#231f20" stroke-width="1.25"/>
<text x="138.1" y="230.37" font-size="8.6" text-anchor="end" textLength="4" lengthAdjust="spacingAndGlyphs">1</text>
<line x1="141" y1="238.5" x2="144" y2="238.5" stroke="#231f20" stroke-width="1.25"/>
<text x="138.1" y="241.17" font-size="8.6" text-anchor="end" textLength="4" lengthAdjust="spacingAndGlyphs">0</text>
<line x1="141" y1="238.5" x2="211.6" y2="238.5" stroke="#231f20" stroke-width="1.3"/>
<line x1="144.5" y1="238.5" x2="144.5" y2="241.3" stroke="#231f20" stroke-width="1"/>
<text x="144" y="250.9" font-size="8.8" text-anchor="middle" textLength="4.5" lengthAdjust="spacingAndGlyphs">0</text>
<line x1="160.5" y1="238.5" x2="160.5" y2="241.3" stroke="#231f20" stroke-width="1"/>
<text x="160.4" y="250.9" font-size="8.8" text-anchor="middle" textLength="4.5" lengthAdjust="spacingAndGlyphs">5</text>
<line x1="176.5" y1="238.5" x2="176.5" y2="241.3" stroke="#231f20" stroke-width="1"/>
<text x="176.8" y="250.9" font-size="8.8" text-anchor="middle" textLength="9" lengthAdjust="spacingAndGlyphs">10</text>
<line x1="193.5" y1="238.5" x2="193.5" y2="241.3" stroke="#231f20" stroke-width="1"/>
<text x="193.2" y="250.9" font-size="8.8" text-anchor="middle" textLength="9" lengthAdjust="spacingAndGlyphs">15</text>
<line x1="209.5" y1="238.5" x2="209.5" y2="241.3" stroke="#231f20" stroke-width="1"/>
<text x="209.6" y="250.9" font-size="8.8" text-anchor="middle" textLength="9" lengthAdjust="spacingAndGlyphs">20</text>
<text x="140" y="264.1" font-size="10.3" textLength="75.6" lengthAdjust="spacingAndGlyphs">Days after transduction</text>
<text font-size="10.32" text-anchor="middle" textLength="43" lengthAdjust="spacingAndGlyphs" transform="translate(15.3,214.8) rotate(-90)">Cell number</text>
<polyline points="53.9,230.9 67.1,223 80.4,216 96.8,208.5" fill="none" stroke="#5cb034" stroke-width="0.9" stroke-linejoin="round"/>
<circle cx="53.9" cy="230.9" r="0.9" fill="#5cb034"/>
<circle cx="67.1" cy="223" r="0.9" fill="#5cb034"/>
<circle cx="80.4" cy="216" r="0.9" fill="#5cb034"/>
<circle cx="96.8" cy="208.5" r="0.9" fill="#5cb034"/>
<polyline points="153.5,230.9 177.5,214.3 196,204.6" fill="none" stroke="#5cb034" stroke-width="0.9" stroke-linejoin="round"/>
<circle cx="153.5" cy="230.9" r="0.9" fill="#5cb034"/>
<circle cx="177.5" cy="214.3" r="0.9" fill="#5cb034"/>
<circle cx="196" cy="204.6" r="0.9" fill="#5cb034"/>
<polyline points="53.9,230.9 67.1,222.5 80.4,213 96.8,203.9" fill="none" stroke="#c0102e" stroke-width="0.9" stroke-linejoin="round"/>
<circle cx="53.9" cy="230.9" r="0.9" fill="#c0102e"/>
<circle cx="67.1" cy="222.5" r="0.9" fill="#c0102e"/>
<circle cx="80.4" cy="213" r="0.9" fill="#c0102e"/>
<circle cx="96.8" cy="203.9" r="0.9" fill="#c0102e"/>
<polyline points="153.5,230.9 177.5,211.5 196,200.9" fill="none" stroke="#c0102e" stroke-width="0.9" stroke-linejoin="round"/>
<circle cx="153.5" cy="230.9" r="0.9" fill="#c0102e"/>
<circle cx="177.5" cy="211.5" r="0.9" fill="#c0102e"/>
<circle cx="196" cy="200.9" r="0.9" fill="#c0102e"/>
<polyline points="53.9,230.9 67.1,222.2 80.4,210.8 96.8,200" fill="none" stroke="#2e5ba5" stroke-width="0.9" stroke-linejoin="round"/>
<circle cx="53.9" cy="230.9" r="0.9" fill="#2e5ba5"/>
<circle cx="67.1" cy="222.2" r="0.9" fill="#2e5ba5"/>
<circle cx="80.4" cy="210.8" r="0.9" fill="#2e5ba5"/>
<circle cx="96.8" cy="200" r="0.9" fill="#2e5ba5"/>
<polyline points="153.5,230.9 177.5,209.6 196,199.2" fill="none" stroke="#2e5ba5" stroke-width="0.9" stroke-linejoin="round"/>
<circle cx="153.5" cy="230.9" r="0.9" fill="#2e5ba5"/>
<circle cx="177.5" cy="209.6" r="0.9" fill="#2e5ba5"/>
<circle cx="196" cy="199.2" r="0.9" fill="#2e5ba5"/>
<polyline points="53.9,230.9 67.1,221.8 80.4,209.2 96.8,195.8" fill="none" stroke="#5a2a84" stroke-width="0.9" stroke-linejoin="round"/>
<circle cx="53.9" cy="230.9" r="0.9" fill="#5a2a84"/>
<circle cx="67.1" cy="221.8" r="0.9" fill="#5a2a84"/>
<circle cx="80.4" cy="209.2" r="0.9" fill="#5a2a84"/>
<circle cx="96.8" cy="195.8" r="0.9" fill="#5a2a84"/>
<polyline points="153.5,230.9 177.5,207.3 196,194.6" fill="none" stroke="#5a2a84" stroke-width="0.9" stroke-linejoin="round"/>
<circle cx="153.5" cy="230.9" r="0.9" fill="#5a2a84"/>
<circle cx="177.5" cy="207.3" r="0.9" fill="#5a2a84"/>
<circle cx="196" cy="194.6" r="0.9" fill="#5a2a84"/>
<line x1="218.5" y1="191.5" x2="226.6" y2="191.5" stroke="#5cb034" stroke-width="0.9"/>
<circle cx="222.55" cy="191.5" r="1.1" fill="#5cb034"/>
<text x="229.7" y="194.38" font-size="8" textLength="24.9" lengthAdjust="spacingAndGlyphs">Control</text>
<line x1="218.5" y1="203" x2="226.6" y2="203" stroke="#c0102e" stroke-width="0.9"/>
<circle cx="222.55" cy="203" r="1.1" fill="#c0102e"/>
<text x="229.7" y="205.88" font-size="8" textLength="34.9" lengthAdjust="spacingAndGlyphs">ASXL1-MT</text>
<line x1="218.5" y1="213.8" x2="226.6" y2="213.8" stroke="#2e5ba5" stroke-width="0.9"/>
<circle cx="222.55" cy="213.8" r="1.1" fill="#2e5ba5"/>
<text x="229.7" y="216.68" font-size="8" textLength="19.5" lengthAdjust="spacingAndGlyphs">HHEX</text>
<line x1="218.5" y1="224.9" x2="226.6" y2="224.9" stroke="#5a2a84" stroke-width="0.9"/>
<circle cx="222.55" cy="224.9" r="1.1" fill="#5a2a84"/>
<text x="229.7" y="227.78" font-size="8" textLength="35.3" lengthAdjust="spacingAndGlyphs">MT+HHEX</text>
<text x="291.3" y="176.9" font-size="10.1" class="t" textLength="88.7" lengthAdjust="spacingAndGlyphs">Relative proliferation</text>
<text font-size="10.32" text-anchor="middle" textLength="84.5" lengthAdjust="spacingAndGlyphs" transform="translate(280.3,213.6) rotate(-90)">Relative proliferation rate</text>
<line x1="299.5" y1="188.3" x2="299.5" y2="239.5" stroke="#231f20" stroke-width="1.25"/>
<line x1="296.5" y1="191.5" x2="299.5" y2="191.5" stroke="#231f20" stroke-width="1.25"/>
<text x="293.6" y="194.53" font-size="8.8" text-anchor="end" textLength="7.8" lengthAdjust="spacingAndGlyphs">15</text>
<line x1="296.5" y1="207.5" x2="299.5" y2="207.5" stroke="#231f20" stroke-width="1.25"/>
<text x="293.6" y="210.43" font-size="8.8" text-anchor="end" textLength="7.8" lengthAdjust="spacingAndGlyphs">10</text>
<line x1="296.5" y1="223.5" x2="299.5" y2="223.5" stroke="#231f20" stroke-width="1.25"/>
<text x="293.6" y="226.33" font-size="8.8" text-anchor="end" textLength="3.9" lengthAdjust="spacingAndGlyphs">5</text>
<line x1="296.5" y1="239.5" x2="299.5" y2="239.5" stroke="#231f20" stroke-width="1.25"/>
<text x="293.6" y="242.23" font-size="8.8" text-anchor="end" textLength="3.9" lengthAdjust="spacingAndGlyphs">0</text>
<line x1="296.5" y1="239.5" x2="370.8" y2="239.5" stroke="#231f20" stroke-width="1.3"/>
<line x1="310.5" y1="239.5" x2="310.5" y2="242.3" stroke="#231f20" stroke-width="1"/>
<line x1="327.5" y1="239.5" x2="327.5" y2="242.3" stroke="#231f20" stroke-width="1"/>
<line x1="344.5" y1="239.5" x2="344.5" y2="242.3" stroke="#231f20" stroke-width="1"/>
<line x1="360.5" y1="239.5" x2="360.5" y2="242.3" stroke="#231f20" stroke-width="1"/>
<rect x="305.2" y="236" width="10.6" height="3.5" fill="#b5d69c"/>
<line x1="310.5" y1="235.37" x2="310.5" y2="236.64" stroke="#5aaa2e" stroke-width="0.8"/>
<line x1="308.5" y1="235.37" x2="312.5" y2="235.37" stroke="#5aaa2e" stroke-width="0.8"/>
<circle cx="307" cy="236.48" r="0.77" fill="#5aaa2e"/>
<circle cx="309.3" cy="235.72" r="0.77" fill="#5aaa2e"/>
<circle cx="311.6" cy="236.31" r="0.77" fill="#5aaa2e"/>
<circle cx="313.9" cy="236.03" r="0.77" fill="#5aaa2e"/>
<rect x="322" y="232.5" width="10.6" height="7" fill="#db8b7c"/>
<line x1="327.3" y1="232.03" x2="327.3" y2="232.98" stroke="#c4122f" stroke-width="0.8"/>
<line x1="325.3" y1="232.03" x2="329.3" y2="232.03" stroke="#c4122f" stroke-width="0.8"/>
<rect x="323.08" y="231.62" width="1.44" height="1.44" fill="#c4122f"/>
<rect x="325.38" y="231.74" width="1.44" height="1.44" fill="#c4122f"/>
<rect x="327.68" y="231.91" width="1.44" height="1.44" fill="#c4122f"/>
<rect x="329.98" y="231.77" width="1.44" height="1.44" fill="#c4122f"/>
<rect x="338.7" y="227.42" width="10.6" height="12.08" fill="#909ec9"/>
<line x1="344" y1="226.14" x2="344" y2="228.69" stroke="#2e5da8" stroke-width="0.8"/>
<line x1="342" y1="226.14" x2="346" y2="226.14" stroke="#2e5da8" stroke-width="0.8"/>
<path d="M340.5,226.32L341.4,227.94L339.6,227.94Z" fill="#2e5da8"/>
<path d="M342.8,225.88L343.7,227.5L341.9,227.5Z" fill="#2e5da8"/>
<path d="M345.1,227.18L346,228.8L344.2,228.8Z" fill="#2e5da8"/>
<path d="M347.4,226.31L348.3,227.93L346.5,227.93Z" fill="#2e5da8"/>
<rect x="355.4" y="211.2" width="10.6" height="28.3" fill="#a38bbd"/>
<line x1="360.7" y1="206.75" x2="360.7" y2="215.65" stroke="#5b2c86" stroke-width="0.8"/>
<line x1="358.7" y1="206.75" x2="362.7" y2="206.75" stroke="#5b2c86" stroke-width="0.8"/>
<path d="M357.2,213.87L358.1,212.25L356.3,212.25Z" fill="#5b2c86"/>
<path d="M359.5,213.68L360.4,212.06L358.6,212.06Z" fill="#5b2c86"/>
<path d="M361.8,210.37L362.7,208.75L360.9,208.75Z" fill="#5b2c86"/>
<path d="M364.1,212.14L365,210.52L363.2,210.52Z" fill="#5b2c86"/>
<path d="M330.43,183.95L330.43,186.25M329.43,184.53L331.42,185.67M329.43,185.67L331.42,184.53M333.48,183.95L333.48,186.25M332.48,184.53L334.47,185.67M332.48,185.67L334.47,184.53M336.53,183.95L336.53,186.25M335.53,184.53L337.52,185.67M335.53,185.67L337.52,184.53M339.57,183.95L339.57,186.25M338.58,184.53L340.57,185.67M338.58,185.67L340.57,184.53" stroke="#231f20" stroke-width="0.75" fill="none"/>
<line x1="307.3" y1="188.5" x2="362.7" y2="188.5" stroke="#231f20" stroke-width="1.2"/>
<path d="M339.93,189.65L339.93,191.95M338.93,190.23L340.92,191.38M338.93,191.38L340.92,190.23M342.98,189.65L342.98,191.95M341.98,190.23L343.97,191.38M341.98,191.38L343.97,190.23M346.03,189.65L346.03,191.95M345.03,190.23L347.02,191.38M345.03,191.38L347.02,190.23M349.07,189.65L349.07,191.95M348.08,190.23L350.07,191.38M348.08,191.38L350.07,190.23" stroke="#231f20" stroke-width="0.75" fill="none"/>
<line x1="326.3" y1="192.5" x2="362.7" y2="192.5" stroke="#231f20" stroke-width="1.2"/>
<path d="M350.45,194.55L350.45,196.85M349.45,195.12L351.45,196.27M349.45,196.27L351.45,195.12M353.5,194.55L353.5,196.85M352.5,195.12L354.5,196.27M352.5,196.27L354.5,195.12M356.55,194.55L356.55,196.85M355.55,195.12L357.55,196.27M355.55,196.27L357.55,195.12" stroke="#231f20" stroke-width="0.75" fill="none"/>
<line x1="344.3" y1="197.5" x2="362.7" y2="197.5" stroke="#231f20" stroke-width="1.2"/>
<text font-size="9.46" text-anchor="end" textLength="29.16" lengthAdjust="spacingAndGlyphs" transform="translate(313.7,248.2) rotate(-45)">Control</text>
<text font-size="9.46" text-anchor="end" textLength="37.8" lengthAdjust="spacingAndGlyphs" transform="translate(330.5,248.2) rotate(-45)">ASXL1-MT</text>
<text font-size="9.46" text-anchor="end" textLength="21.6" lengthAdjust="spacingAndGlyphs" transform="translate(347.2,248.2) rotate(-45)">HHEX</text>
<text font-size="9.46" text-anchor="end" textLength="38.88" lengthAdjust="spacingAndGlyphs" transform="translate(363.9,248.2) rotate(-45)">MT+HHEX</text>
<text x="385.4" y="166.7" font-size="11.5" font-weight="bold">C</text>
<text x="441.4" y="164.2" font-size="9.9" class="t" textLength="61.9" lengthAdjust="spacingAndGlyphs">Differentiation</text>
<text x="413.7" y="176.4" font-size="7.6" textLength="10.7" lengthAdjust="spacingAndGlyphs">(%)</text>
<text font-size="10.32" text-anchor="middle" textLength="44.5" lengthAdjust="spacingAndGlyphs" transform="translate(396.2,211.3) rotate(-90)">Frequency of</text>
<text font-size="10.32" text-anchor="middle" textLength="72.7" lengthAdjust="spacingAndGlyphs" transform="translate(407.8,209.3) rotate(-90)">Fce1ra+ CD117+ cells</text>
<line x1="431.5" y1="182.3" x2="431.5" y2="239.7" stroke="#231f20" stroke-width="1.25"/>
<line x1="428.3" y1="184.5" x2="431.3" y2="184.5" stroke="#231f20" stroke-width="1.25"/>
<text x="425" y="186.93" font-size="8.8" text-anchor="end" textLength="12.15" lengthAdjust="spacingAndGlyphs">100</text>
<line x1="428.3" y1="195.5" x2="431.3" y2="195.5" stroke="#231f20" stroke-width="1.25"/>
<text x="425" y="198.03" font-size="8.8" text-anchor="end" textLength="8.1" lengthAdjust="spacingAndGlyphs">80</text>
<line x1="428.3" y1="206.5" x2="431.3" y2="206.5" stroke="#231f20" stroke-width="1.25"/>
<text x="425" y="209.13" font-size="8.8" text-anchor="end" textLength="8.1" lengthAdjust="spacingAndGlyphs">60</text>
<line x1="428.3" y1="217.5" x2="431.3" y2="217.5" stroke="#231f20" stroke-width="1.25"/>
<text x="425" y="220.23" font-size="8.8" text-anchor="end" textLength="8.1" lengthAdjust="spacingAndGlyphs">40</text>
<line x1="428.3" y1="228.5" x2="431.3" y2="228.5" stroke="#231f20" stroke-width="1.25"/>
<text x="425" y="231.33" font-size="8.8" text-anchor="end" textLength="8.1" lengthAdjust="spacingAndGlyphs">20</text>
<line x1="428.3" y1="239.5" x2="431.3" y2="239.5" stroke="#231f20" stroke-width="1.25"/>
<text x="425" y="242.43" font-size="8.8" text-anchor="end" textLength="4.05" lengthAdjust="spacingAndGlyphs">0</text>
<line x1="428.3" y1="239.5" x2="506.5" y2="239.5" stroke="#231f20" stroke-width="1.3"/>
<line x1="443.5" y1="239.7" x2="443.5" y2="242.5" stroke="#231f20" stroke-width="1"/>
<line x1="462.5" y1="239.7" x2="462.5" y2="242.5" stroke="#231f20" stroke-width="1"/>
<line x1="481.5" y1="239.7" x2="481.5" y2="242.5" stroke="#231f20" stroke-width="1"/>
<line x1="499.5" y1="239.7" x2="499.5" y2="242.5" stroke="#231f20" stroke-width="1"/>
<line x1="438" y1="189.75" x2="449" y2="189.75" stroke="#5aaa2e" stroke-width="1"/>
<line x1="443.5" y1="188.92" x2="443.5" y2="190.58" stroke="#5aaa2e" stroke-width="0.8"/>
<line x1="441.5" y1="188.92" x2="445.5" y2="188.92" stroke="#5aaa2e" stroke-width="0.8"/>
<line x1="441.5" y1="190.58" x2="445.5" y2="190.58" stroke="#5aaa2e" stroke-width="0.8"/>
<circle cx="439.5" cy="189.62" r="1.1" fill="#5aaa2e"/>
<circle cx="441.5" cy="189.21" r="1.1" fill="#5aaa2e"/>
<circle cx="443.5" cy="188.89" r="1.1" fill="#5aaa2e"/>
<circle cx="445.5" cy="189.87" r="1.1" fill="#5aaa2e"/>
<circle cx="447.5" cy="189.52" r="1.1" fill="#5aaa2e"/>
<line x1="456.8" y1="193.63" x2="467.8" y2="193.63" stroke="#c4122f" stroke-width="1"/>
<line x1="462.3" y1="193.25" x2="462.3" y2="194.02" stroke="#c4122f" stroke-width="0.8"/>
<line x1="460.3" y1="193.25" x2="464.3" y2="193.25" stroke="#c4122f" stroke-width="0.8"/>
<line x1="460.3" y1="194.02" x2="464.3" y2="194.02" stroke="#c4122f" stroke-width="0.8"/>
<rect x="457.26" y="192.59" width="2.08" height="2.08" fill="#c4122f"/>
<rect x="459.26" y="192.58" width="2.08" height="2.08" fill="#c4122f"/>
<rect x="461.26" y="192.41" width="2.08" height="2.08" fill="#c4122f"/>
<rect x="463.26" y="192.64" width="2.08" height="2.08" fill="#c4122f"/>
<rect x="465.26" y="192.56" width="2.08" height="2.08" fill="#c4122f"/>
<line x1="475.6" y1="219.16" x2="486.6" y2="219.16" stroke="#2e5da8" stroke-width="1"/>
<line x1="481.1" y1="216.39" x2="481.1" y2="221.94" stroke="#2e5da8" stroke-width="0.8"/>
<line x1="479.1" y1="216.39" x2="483.1" y2="216.39" stroke="#2e5da8" stroke-width="0.8"/>
<line x1="479.1" y1="221.94" x2="483.1" y2="221.94" stroke="#2e5da8" stroke-width="0.8"/>
<path d="M477.1,217.89L478.4,220.23L475.8,220.23Z" fill="#2e5da8"/>
<path d="M479.1,214.67L480.4,217.01L477.8,217.01Z" fill="#2e5da8"/>
<path d="M481.1,216.35L482.4,218.69L479.8,218.69Z" fill="#2e5da8"/>
<path d="M483.1,215.12L484.4,217.46L481.8,217.46Z" fill="#2e5da8"/>
<path d="M485.1,214.67L486.4,217.01L483.8,217.01Z" fill="#2e5da8"/>
<line x1="494.4" y1="237.48" x2="505.4" y2="237.48" stroke="#5b2c86" stroke-width="1"/>
<line x1="499.9" y1="237.15" x2="499.9" y2="237.81" stroke="#5b2c86" stroke-width="0.8"/>
<line x1="497.9" y1="237.15" x2="501.9" y2="237.15" stroke="#5b2c86" stroke-width="0.8"/>
<line x1="497.9" y1="237.81" x2="501.9" y2="237.81" stroke="#5b2c86" stroke-width="0.8"/>
<path d="M495.9,239.11L497.2,236.77L494.6,236.77Z" fill="#5b2c86"/>
<path d="M497.9,238.86L499.2,236.52L496.6,236.52Z" fill="#5b2c86"/>
<path d="M499.9,238.54L501.2,236.2L498.6,236.2Z" fill="#5b2c86"/>
<path d="M501.9,238.63L503.2,236.29L500.6,236.29Z" fill="#5b2c86"/>
<path d="M503.9,239.21L505.2,236.87L502.6,236.87Z" fill="#5b2c86"/>
<path d="M467.43,173.85L467.43,176.15M466.43,174.43L468.42,175.57M466.43,175.57L468.42,174.43M470.48,173.85L470.48,176.15M469.48,174.43L471.47,175.57M469.48,175.57L471.47,174.43M473.53,173.85L473.53,176.15M472.53,174.43L474.52,175.57M472.53,175.57L474.52,174.43M476.57,173.85L476.57,176.15M475.58,174.43L477.57,175.57M475.58,175.57L477.57,174.43" stroke="#333" stroke-width="0.75" fill="none"/>
<line x1="443.8" y1="178.5" x2="500.4" y2="178.5" stroke="#58595b" stroke-width="1.3"/>
<path d="M476.43,179.85L476.43,182.15M475.43,180.43L477.42,181.57M475.43,181.57L477.42,180.43M479.48,179.85L479.48,182.15M478.48,180.43L480.47,181.57M478.48,181.57L480.47,180.43M482.53,179.85L482.53,182.15M481.53,180.43L483.52,181.57M481.53,181.57L483.52,180.43M485.57,179.85L485.57,182.15M484.58,180.43L486.57,181.57M484.58,181.57L486.57,180.43" stroke="#333" stroke-width="0.75" fill="none"/>
<line x1="462" y1="184.5" x2="500.4" y2="184.5" stroke="#58595b" stroke-width="1.3"/>
<path d="M486.43,185.65L486.43,187.95M485.43,186.23L487.42,187.38M485.43,187.38L487.42,186.23M489.48,185.65L489.48,187.95M488.48,186.23L490.47,187.38M488.48,187.38L490.47,186.23M492.53,185.65L492.53,187.95M491.53,186.23L493.52,187.38M491.53,187.38L493.52,186.23M495.57,185.65L495.57,187.95M494.58,186.23L496.57,187.38M494.58,187.38L496.57,186.23" stroke="#333" stroke-width="0.75" fill="none"/>
<line x1="481.8" y1="189.5" x2="500.4" y2="189.5" stroke="#58595b" stroke-width="1.3"/>
<text font-size="9.46" text-anchor="end" textLength="29.16" lengthAdjust="spacingAndGlyphs" transform="translate(446.5,248.4) rotate(-45)">Control</text>
<text font-size="9.46" text-anchor="end" textLength="37.8" lengthAdjust="spacingAndGlyphs" transform="translate(465.3,248.4) rotate(-45)">ASXL1-MT</text>
<text font-size="9.46" text-anchor="end" textLength="21.6" lengthAdjust="spacingAndGlyphs" transform="translate(484.1,248.4) rotate(-45)">HHEX</text>
<text font-size="9.46" text-anchor="end" textLength="38.88" lengthAdjust="spacingAndGlyphs" transform="translate(502.9,248.4) rotate(-45)">MT+HHEX</text>
<text x="7.7" y="293.8" font-size="11.5" font-weight="bold">D</text>
<text x="22.1" y="293.8" font-size="10.1" class="t" textLength="145.2" lengthAdjust="spacingAndGlyphs">Human CD34<tspan font-size="6.5" dy="-3.8">+</tspan><tspan dy="3.8"> CB cells CFU assay</tspan></text>
<text font-size="10.32" text-anchor="middle" textLength="88.5" lengthAdjust="spacingAndGlyphs" transform="translate(23.6,343.3) rotate(-90)">Colony number/5000 cells</text>
<line x1="48.5" y1="313" x2="48.5" y2="376.1" stroke="#231f20" stroke-width="1.25"/>
<line x1="45.2" y1="315.5" x2="48.2" y2="315.5" stroke="#231f20" stroke-width="1.25"/>
<text x="41.2" y="317.83" font-size="8.8" text-anchor="end" textLength="10.8" lengthAdjust="spacingAndGlyphs">100</text>
<line x1="45.2" y1="327.5" x2="48.2" y2="327.5" stroke="#231f20" stroke-width="1.25"/>
<text x="41.2" y="330.03" font-size="8.8" text-anchor="end" textLength="7.2" lengthAdjust="spacingAndGlyphs">80</text>
<line x1="45.2" y1="339.5" x2="48.2" y2="339.5" stroke="#231f20" stroke-width="1.25"/>
<text x="41.2" y="342.23" font-size="8.8" text-anchor="end" textLength="7.2" lengthAdjust="spacingAndGlyphs">60</text>
<line x1="45.2" y1="351.5" x2="48.2" y2="351.5" stroke="#231f20" stroke-width="1.25"/>
<text x="41.2" y="354.43" font-size="8.8" text-anchor="end" textLength="7.2" lengthAdjust="spacingAndGlyphs">40</text>
<line x1="45.2" y1="363.5" x2="48.2" y2="363.5" stroke="#231f20" stroke-width="1.25"/>
<text x="41.2" y="366.63" font-size="8.8" text-anchor="end" textLength="7.2" lengthAdjust="spacingAndGlyphs">20</text>
<line x1="45.2" y1="376.5" x2="48.2" y2="376.5" stroke="#231f20" stroke-width="1.25"/>
<text x="41.2" y="378.83" font-size="8.8" text-anchor="end" textLength="3.6" lengthAdjust="spacingAndGlyphs">0</text>
<line x1="45.2" y1="376.5" x2="139.4" y2="376.5" stroke="#231f20" stroke-width="1.3"/>
<line x1="63.5" y1="376.1" x2="63.5" y2="378.9" stroke="#231f20" stroke-width="1"/>
<line x1="94.5" y1="376.1" x2="94.5" y2="378.9" stroke="#231f20" stroke-width="1"/>
<line x1="125.5" y1="376.1" x2="125.5" y2="378.9" stroke="#231f20" stroke-width="1"/>
<rect x="51" y="331.57" width="4.6" height="44.53" fill="#b5d69c"/>
<line x1="53.3" y1="326.69" x2="53.3" y2="336.45" stroke="#5aaa2e" stroke-width="0.8"/>
<line x1="52.1" y1="326.69" x2="54.5" y2="326.69" stroke="#5aaa2e" stroke-width="0.8"/>
<circle cx="53.09" cy="337.48" r="0.89" fill="#5aaa2e"/>
<circle cx="52.35" cy="338.25" r="0.89" fill="#5aaa2e"/>
<circle cx="53.92" cy="338.24" r="0.89" fill="#5aaa2e"/>
<rect x="57.6" y="354.14" width="4.6" height="21.96" fill="#db8b7c"/>
<line x1="59.9" y1="350.48" x2="59.9" y2="357.8" stroke="#c4122f" stroke-width="0.8"/>
<line x1="58.7" y1="350.48" x2="61.1" y2="350.48" stroke="#c4122f" stroke-width="0.8"/>
<rect x="60.52" y="349.97" width="1.68" height="1.68" fill="#c4122f"/>
<rect x="59.86" y="357.35" width="1.68" height="1.68" fill="#c4122f"/>
<rect x="57.75" y="351.42" width="1.68" height="1.68" fill="#c4122f"/>
<rect x="64.2" y="360.24" width="4.6" height="15.86" fill="#909ec9"/>
<line x1="66.5" y1="357.8" x2="66.5" y2="362.68" stroke="#2e5da8" stroke-width="0.8"/>
<line x1="65.3" y1="357.8" x2="67.7" y2="357.8" stroke="#2e5da8" stroke-width="0.8"/>
<path d="M68.22,356.1L69.27,357.99L67.17,357.99Z" fill="#2e5da8"/>
<path d="M68.17,361.27L69.22,363.16L67.12,363.16Z" fill="#2e5da8"/>
<path d="M66.45,359.88L67.5,361.77L65.4,361.77Z" fill="#2e5da8"/>
<rect x="70.8" y="366.95" width="4.6" height="9.15" fill="#a38bbd"/>
<line x1="73.1" y1="364.51" x2="73.1" y2="369.39" stroke="#5b2c86" stroke-width="0.8"/>
<line x1="71.9" y1="364.51" x2="74.3" y2="364.51" stroke="#5b2c86" stroke-width="0.8"/>
<path d="M74.32,364.28L75.37,362.39L73.27,362.39Z" fill="#5b2c86"/>
<path d="M72.85,370.75L73.9,368.86L71.8,368.86Z" fill="#5b2c86"/>
<path d="M72.51,367.98L73.56,366.09L71.46,366.09Z" fill="#5b2c86"/>
<rect x="82" y="350.48" width="4.6" height="25.62" fill="#b5d69c"/>
<line x1="84.3" y1="344.38" x2="84.3" y2="356.58" stroke="#5aaa2e" stroke-width="0.8"/>
<line x1="83.1" y1="344.38" x2="85.5" y2="344.38" stroke="#5aaa2e" stroke-width="0.8"/>
<circle cx="83.63" cy="356.42" r="0.89" fill="#5aaa2e"/>
<circle cx="82.53" cy="346.14" r="0.89" fill="#5aaa2e"/>
<circle cx="84.08" cy="349.42" r="0.89" fill="#5aaa2e"/>
<rect x="88.6" y="363.29" width="4.6" height="12.81" fill="#db8b7c"/>
<line x1="90.9" y1="359.63" x2="90.9" y2="366.95" stroke="#c4122f" stroke-width="0.8"/>
<line x1="89.7" y1="359.63" x2="92.1" y2="359.63" stroke="#c4122f" stroke-width="0.8"/>
<rect x="89.44" y="368.09" width="1.68" height="1.68" fill="#c4122f"/>
<rect x="90.11" y="361" width="1.68" height="1.68" fill="#c4122f"/>
<rect x="91.85" y="367.55" width="1.68" height="1.68" fill="#c4122f"/>
<rect x="95.2" y="367.56" width="4.6" height="8.54" fill="#909ec9"/>
<line x1="97.5" y1="365.73" x2="97.5" y2="369.39" stroke="#2e5da8" stroke-width="0.8"/>
<line x1="96.3" y1="365.73" x2="98.7" y2="365.73" stroke="#2e5da8" stroke-width="0.8"/>
<path d="M99.24,364.72L100.29,366.61L98.19,366.61Z" fill="#2e5da8"/>
<path d="M96.64,368.72L97.69,370.61L95.59,370.61Z" fill="#2e5da8"/>
<path d="M98.53,369.1L99.58,370.99L97.48,370.99Z" fill="#2e5da8"/>
<rect x="101.8" y="371.83" width="4.6" height="4.27" fill="#a38bbd"/>
<line x1="104.1" y1="370" x2="104.1" y2="373.66" stroke="#5b2c86" stroke-width="0.8"/>
<line x1="102.9" y1="370" x2="105.3" y2="370" stroke="#5b2c86" stroke-width="0.8"/>
<path d="M102.74,374.33L103.79,372.44L101.69,372.44Z" fill="#5b2c86"/>
<path d="M105.61,373.44L106.66,371.55L104.56,371.55Z" fill="#5b2c86"/>
<path d="M103.21,371.12L104.26,369.23L102.16,369.23Z" fill="#5b2c86"/>
<rect x="113.1" y="371.83" width="4.6" height="4.27" fill="#b5d69c"/>
<line x1="115.4" y1="370" x2="115.4" y2="373.66" stroke="#5aaa2e" stroke-width="0.8"/>
<line x1="114.2" y1="370" x2="116.6" y2="370" stroke="#5aaa2e" stroke-width="0.8"/>
<circle cx="116.94" cy="373.88" r="0.89" fill="#5aaa2e"/>
<circle cx="116.14" cy="371.42" r="0.89" fill="#5aaa2e"/>
<circle cx="113.77" cy="374.23" r="0.89" fill="#5aaa2e"/>
<rect x="119.7" y="372.44" width="4.6" height="3.66" fill="#db8b7c"/>
<line x1="122" y1="371.22" x2="122" y2="373.66" stroke="#c4122f" stroke-width="0.8"/>
<line x1="120.8" y1="371.22" x2="123.2" y2="371.22" stroke="#c4122f" stroke-width="0.8"/>
<rect x="120.89" y="370.87" width="1.68" height="1.68" fill="#c4122f"/>
<rect x="122.77" y="373.27" width="1.68" height="1.68" fill="#c4122f"/>
<rect x="122.27" y="371.08" width="1.68" height="1.68" fill="#c4122f"/>
<rect x="126.3" y="373.05" width="4.6" height="3.05" fill="#909ec9"/>
<line x1="128.6" y1="371.83" x2="128.6" y2="374.27" stroke="#2e5da8" stroke-width="0.8"/>
<line x1="127.4" y1="371.83" x2="129.8" y2="371.83" stroke="#2e5da8" stroke-width="0.8"/>
<path d="M129.91,373.52L130.96,375.41L128.86,375.41Z" fill="#2e5da8"/>
<path d="M129.94,373.59L130.99,375.48L128.89,375.48Z" fill="#2e5da8"/>
<path d="M128.01,372.08L129.06,373.97L126.96,373.97Z" fill="#2e5da8"/>
<rect x="132.9" y="373.05" width="4.6" height="3.05" fill="#a38bbd"/>
<line x1="135.2" y1="371.83" x2="135.2" y2="374.27" stroke="#5b2c86" stroke-width="0.8"/>
<line x1="134" y1="371.83" x2="136.4" y2="371.83" stroke="#5b2c86" stroke-width="0.8"/>
<path d="M136.77,374L137.82,372.11L135.72,372.11Z" fill="#5b2c86"/>
<path d="M133.84,375.11L134.89,373.22L132.79,373.22Z" fill="#5b2c86"/>
<path d="M134.24,374.1L135.29,372.21L133.19,372.21Z" fill="#5b2c86"/>
<path d="M59.33,313.45L59.33,315.75M58.33,314.03L60.32,315.18M58.33,315.18L60.32,314.03M62.38,313.45L62.38,315.75M61.38,314.03L63.37,315.18M61.38,315.18L63.37,314.03M65.42,313.45L65.42,315.75M64.43,314.03L66.42,315.18M64.43,315.18L66.42,314.03M68.47,313.45L68.47,315.75M67.48,314.03L69.47,315.18M67.48,315.18L69.47,314.03" stroke="#231f20" stroke-width="0.75" fill="none"/>
<line x1="53.8" y1="318.5" x2="74" y2="318.5" stroke="#231f20" stroke-width="1.2"/>
<path d="M67.5,319.65L67.5,321.95M66.5,320.23L68.5,321.38M66.5,321.38L68.5,320.23" stroke="#231f20" stroke-width="0.75" fill="none"/>
<line x1="61.5" y1="323.5" x2="74" y2="323.5" stroke="#231f20" stroke-width="1.2"/>
<path d="M89.95,330.15L89.95,332.45M88.95,330.73L90.95,331.88M88.95,331.88L90.95,330.73M93,330.15L93,332.45M92,330.73L94,331.88M92,331.88L94,330.73M96.05,330.15L96.05,332.45M95.05,330.73L97.05,331.88M95.05,331.88L97.05,330.73" stroke="#231f20" stroke-width="0.75" fill="none"/>
<line x1="83" y1="335.5" x2="103.4" y2="335.5" stroke="#231f20" stroke-width="1.2"/>
<path d="M97,336.35L97,338.65M96,336.93L98,338.07M96,338.07L98,336.93" stroke="#231f20" stroke-width="0.75" fill="none"/>
<line x1="90.6" y1="339.5" x2="103.4" y2="339.5" stroke="#231f20" stroke-width="1.2"/>
<text x="126.5" y="361.6" font-size="7.6" text-anchor="middle" textLength="11.5" lengthAdjust="spacingAndGlyphs">n.s.</text>
<text x="62.8" y="388.9" font-size="8.2" text-anchor="middle" textLength="22.5" lengthAdjust="spacingAndGlyphs">BFU-E</text>
<text x="93.6" y="388.9" font-size="8.2" text-anchor="middle" textLength="22.8" lengthAdjust="spacingAndGlyphs">CFU-E</text>
<text x="125.3" y="388.9" font-size="8.2" text-anchor="middle" textLength="18.7" lengthAdjust="spacingAndGlyphs">CFU-</text>
<text x="125.8" y="399.8" font-size="8.2" text-anchor="middle" textLength="24.5" lengthAdjust="spacingAndGlyphs">GEMM</text>
<rect x="143" y="313.4" width="7.7" height="4.4" fill="#5ea934"/>
<text x="153.1" y="318.48" font-size="8" textLength="25.3" lengthAdjust="spacingAndGlyphs">Control</text>
<rect x="143" y="324.2" width="7.7" height="4.4" fill="#b0002a"/>
<text x="153.1" y="329.28" font-size="8" textLength="34.9" lengthAdjust="spacingAndGlyphs">ASXL1-MT</text>
<rect x="143" y="335.5" width="7.7" height="4.4" fill="#2c4f8e"/>
<text x="153.1" y="340.58" font-size="8" textLength="19.9" lengthAdjust="spacingAndGlyphs">HHEX</text>
<rect x="143" y="346.8" width="7.7" height="4.4" fill="#4a1e6e"/>
<text x="153.1" y="351.88" font-size="8" textLength="36.1" lengthAdjust="spacingAndGlyphs">MT+HHEX</text>
<text x="205" y="293.8" font-size="11.5" font-weight="bold">E</text>
<text x="257" y="293.7" font-size="10.6" class="t" textLength="78.7" lengthAdjust="spacingAndGlyphs">CFU-GM replating</text>
<text font-size="10.32" text-anchor="middle" textLength="88.5" lengthAdjust="spacingAndGlyphs" transform="translate(220.6,340.5) rotate(-90)">Colony number/5000 cells</text>
<line x1="245.5" y1="305.4" x2="245.5" y2="376.4" stroke="#231f20" stroke-width="1.25"/>
<line x1="242.4" y1="307.5" x2="245.4" y2="307.5" stroke="#231f20" stroke-width="1.25"/>
<text x="239.6" y="310.28" font-size="8.6" text-anchor="end" textLength="13.8" lengthAdjust="spacingAndGlyphs">300</text>
<line x1="242.4" y1="330.5" x2="245.4" y2="330.5" stroke="#231f20" stroke-width="1.25"/>
<text x="239.6" y="333.21" font-size="8.6" text-anchor="end" textLength="13.8" lengthAdjust="spacingAndGlyphs">200</text>
<line x1="242.4" y1="353.5" x2="245.4" y2="353.5" stroke="#231f20" stroke-width="1.25"/>
<text x="239.6" y="356.14" font-size="8.6" text-anchor="end" textLength="13.8" lengthAdjust="spacingAndGlyphs">100</text>
<line x1="242.4" y1="376.5" x2="245.4" y2="376.5" stroke="#231f20" stroke-width="1.25"/>
<text x="239.6" y="379.07" font-size="8.6" text-anchor="end" textLength="4.6" lengthAdjust="spacingAndGlyphs">0</text>
<line x1="242.4" y1="376.5" x2="347.3" y2="376.5" stroke="#231f20" stroke-width="1.3"/>
<line x1="257.5" y1="376.4" x2="257.5" y2="379.2" stroke="#231f20" stroke-width="1"/>
<line x1="283.5" y1="376.4" x2="283.5" y2="379.2" stroke="#231f20" stroke-width="1"/>
<line x1="309.5" y1="376.4" x2="309.5" y2="379.2" stroke="#231f20" stroke-width="1"/>
<line x1="335.5" y1="376.4" x2="335.5" y2="379.2" stroke="#231f20" stroke-width="1"/>
<rect x="247.5" y="364.25" width="3.6" height="12.15" fill="#b5d69c"/>
<line x1="249.3" y1="363.1" x2="249.3" y2="365.39" stroke="#5aaa2e" stroke-width="0.8"/>
<line x1="248.1" y1="363.1" x2="250.5" y2="363.1" stroke="#5aaa2e" stroke-width="0.8"/>
<circle cx="248.32" cy="365.68" r="0.89" fill="#5aaa2e"/>
<circle cx="248.44" cy="365.9" r="0.89" fill="#5aaa2e"/>
<circle cx="248.74" cy="364.94" r="0.89" fill="#5aaa2e"/>
<rect x="253" y="360.81" width="3.6" height="15.59" fill="#db8b7c"/>
<line x1="254.8" y1="358.06" x2="254.8" y2="363.56" stroke="#c4122f" stroke-width="0.8"/>
<line x1="253.6" y1="358.06" x2="256" y2="358.06" stroke="#c4122f" stroke-width="0.8"/>
<rect x="253.36" y="357.68" width="1.68" height="1.68" fill="#c4122f"/>
<rect x="253.03" y="359.97" width="1.68" height="1.68" fill="#c4122f"/>
<rect x="252.57" y="361.31" width="1.68" height="1.68" fill="#c4122f"/>
<rect x="258.6" y="360.35" width="3.6" height="16.05" fill="#909ec9"/>
<line x1="260.4" y1="358.51" x2="260.4" y2="362.18" stroke="#2e5da8" stroke-width="0.8"/>
<line x1="259.2" y1="358.51" x2="261.6" y2="358.51" stroke="#2e5da8" stroke-width="0.8"/>
<path d="M259,360.66L260.05,362.55L257.95,362.55Z" fill="#2e5da8"/>
<path d="M260.55,357.83L261.6,359.72L259.5,359.72Z" fill="#2e5da8"/>
<path d="M260.33,361.02L261.38,362.91L259.28,362.91Z" fill="#2e5da8"/>
<rect x="264.1" y="356.68" width="3.6" height="19.72" fill="#a38bbd"/>
<line x1="265.9" y1="354.85" x2="265.9" y2="358.51" stroke="#5b2c86" stroke-width="0.8"/>
<line x1="264.7" y1="354.85" x2="267.1" y2="354.85" stroke="#5b2c86" stroke-width="0.8"/>
<path d="M264.77,355.28L265.82,353.39L263.72,353.39Z" fill="#5b2c86"/>
<path d="M265.7,355.96L266.75,354.07L264.65,354.07Z" fill="#5b2c86"/>
<path d="M266.86,357.86L267.91,355.97L265.81,355.97Z" fill="#5b2c86"/>
<rect x="273.3" y="372.27" width="3.6" height="4.13" fill="#b5d69c"/>
<line x1="275.1" y1="371.58" x2="275.1" y2="372.96" stroke="#5aaa2e" stroke-width="0.8"/>
<line x1="273.9" y1="371.58" x2="276.3" y2="371.58" stroke="#5aaa2e" stroke-width="0.8"/>
<circle cx="275.12" cy="372.51" r="0.89" fill="#5aaa2e"/>
<circle cx="276.49" cy="371.86" r="0.89" fill="#5aaa2e"/>
<circle cx="276.06" cy="372.62" r="0.89" fill="#5aaa2e"/>
<rect x="278.8" y="369.52" width="3.6" height="6.88" fill="#db8b7c"/>
<line x1="280.6" y1="368.37" x2="280.6" y2="370.67" stroke="#c4122f" stroke-width="0.8"/>
<line x1="279.4" y1="368.37" x2="281.8" y2="368.37" stroke="#c4122f" stroke-width="0.8"/>
<rect x="280.15" y="367.92" width="1.68" height="1.68" fill="#c4122f"/>
<rect x="279.32" y="369.03" width="1.68" height="1.68" fill="#c4122f"/>
<rect x="278.69" y="370.32" width="1.68" height="1.68" fill="#c4122f"/>
<rect x="284.4" y="352.32" width="3.6" height="24.08" fill="#909ec9"/>
<line x1="286.2" y1="350.03" x2="286.2" y2="354.62" stroke="#2e5da8" stroke-width="0.8"/>
<line x1="285" y1="350.03" x2="287.4" y2="350.03" stroke="#2e5da8" stroke-width="0.8"/>
<path d="M286.89,354.32L287.94,356.21L285.84,356.21Z" fill="#2e5da8"/>
<path d="M285.23,352.96L286.28,354.85L284.18,354.85Z" fill="#2e5da8"/>
<path d="M287.18,354.22L288.23,356.11L286.13,356.11Z" fill="#2e5da8"/>
<rect x="289.9" y="318.16" width="3.6" height="58.24" fill="#a38bbd"/>
<line x1="291.7" y1="315.41" x2="291.7" y2="320.91" stroke="#5b2c86" stroke-width="0.8"/>
<line x1="290.5" y1="315.41" x2="292.9" y2="315.41" stroke="#5b2c86" stroke-width="0.8"/>
<path d="M292.19,316.05L293.24,314.16L291.14,314.16Z" fill="#5b2c86"/>
<path d="M290.96,321.23L292.01,319.34L289.91,319.34Z" fill="#5b2c86"/>
<path d="M291.58,321.13L292.63,319.24L290.53,319.24Z" fill="#5b2c86"/>
<rect x="299.1" y="375.1" width="3.6" height="1.6" fill="#5aaa2e"/>
<rect x="304.6" y="375.1" width="3.6" height="1.6" fill="#c4122f"/>
<rect x="310.2" y="375.25" width="3.6" height="1.15" fill="#909ec9"/>
<line x1="312" y1="374.79" x2="312" y2="375.71" stroke="#2e5da8" stroke-width="0.8"/>
<line x1="310.8" y1="374.79" x2="313.2" y2="374.79" stroke="#2e5da8" stroke-width="0.8"/>
<path d="M311.84,374.6L312.89,376.49L310.79,376.49Z" fill="#2e5da8"/>
<path d="M313.33,374.45L314.38,376.34L312.28,376.34Z" fill="#2e5da8"/>
<path d="M312.14,373.4L313.19,375.29L311.09,375.29Z" fill="#2e5da8"/>
<rect x="315.7" y="352.55" width="3.6" height="23.85" fill="#a38bbd"/>
<line x1="317.5" y1="350.72" x2="317.5" y2="354.39" stroke="#5b2c86" stroke-width="0.8"/>
<line x1="316.3" y1="350.72" x2="318.7" y2="350.72" stroke="#5b2c86" stroke-width="0.8"/>
<path d="M318.84,355.21L319.89,353.32L317.79,353.32Z" fill="#5b2c86"/>
<path d="M317.09,354.83L318.14,352.94L316.04,352.94Z" fill="#5b2c86"/>
<path d="M317.16,356.64L318.21,354.75L316.11,354.75Z" fill="#5b2c86"/>
<rect x="324.9" y="375.1" width="3.6" height="1.6" fill="#5aaa2e"/>
<rect x="330.4" y="375.1" width="3.6" height="1.6" fill="#c4122f"/>
<rect x="336" y="375.1" width="3.6" height="1.6" fill="#2e5da8"/>
<rect x="341.5" y="360.12" width="3.6" height="16.28" fill="#a38bbd"/>
<line x1="343.3" y1="358.29" x2="343.3" y2="361.95" stroke="#5b2c86" stroke-width="0.8"/>
<line x1="342.1" y1="358.29" x2="344.5" y2="358.29" stroke="#5b2c86" stroke-width="0.8"/>
<path d="M343.31,361.42L344.36,359.53L342.26,359.53Z" fill="#5b2c86"/>
<path d="M343.31,363.03L344.36,361.14L342.26,361.14Z" fill="#5b2c86"/>
<path d="M342.62,364.18L343.67,362.29L341.57,362.29Z" fill="#5b2c86"/>
<path d="M256,341.15L256,343.45M255,341.73L257,342.88M255,342.88L257,341.73" stroke="#231f20" stroke-width="0.75" fill="none"/>
<line x1="247.2" y1="347.5" x2="265" y2="347.5" stroke="#231f20" stroke-width="1.2"/>
<path d="M278.03,301.35L278.03,303.65M277.03,301.93L279.02,303.07M277.03,303.07L279.02,301.93M281.08,301.35L281.08,303.65M280.08,301.93L282.07,303.07M280.08,303.07L282.07,301.93M284.13,301.35L284.13,303.65M283.13,301.93L285.12,303.07M283.13,303.07L285.12,301.93M287.18,301.35L287.18,303.65M286.18,301.93L288.17,303.07M286.18,303.07L288.17,301.93" stroke="#231f20" stroke-width="0.75" fill="none"/>
<line x1="273.8" y1="305.5" x2="291.4" y2="305.5" stroke="#231f20" stroke-width="1.1"/>
<line x1="278" y1="307.5" x2="291.4" y2="307.5" stroke="#231f20" stroke-width="1.1"/>
<line x1="283" y1="309.5" x2="291.4" y2="309.5" stroke="#231f20" stroke-width="1.1"/>
<path d="M303.73,338.25L303.73,340.55M302.73,338.82L304.72,339.97M302.73,339.97L304.72,338.82M306.78,338.25L306.78,340.55M305.78,338.82L307.77,339.97M305.78,339.97L307.77,338.82M309.83,338.25L309.83,340.55M308.83,338.82L310.82,339.97M308.83,339.97L310.82,338.82M312.88,338.25L312.88,340.55M311.88,338.82L313.87,339.97M311.88,339.97L313.87,338.82" stroke="#231f20" stroke-width="0.75" fill="none"/>
<line x1="299" y1="342.5" x2="317" y2="342.5" stroke="#231f20" stroke-width="1.1"/>
<line x1="305.9" y1="344.5" x2="317" y2="344.5" stroke="#231f20" stroke-width="1.1"/>
<line x1="311.5" y1="346.5" x2="317" y2="346.5" stroke="#231f20" stroke-width="1.1"/>
<path d="M329.73,342.55L329.73,344.85M328.73,343.12L330.72,344.27M328.73,344.27L330.72,343.12M332.78,342.55L332.78,344.85M331.78,343.12L333.77,344.27M331.78,344.27L333.77,343.12M335.83,342.55L335.83,344.85M334.83,343.12L336.82,344.27M334.83,344.27L336.82,343.12M338.88,342.55L338.88,344.85M337.88,343.12L339.87,344.27M337.88,344.27L339.87,343.12" stroke="#231f20" stroke-width="0.75" fill="none"/>
<line x1="325" y1="346.5" x2="343.5" y2="346.5" stroke="#231f20" stroke-width="1.1"/>
<line x1="331.5" y1="349.5" x2="343.5" y2="349.5" stroke="#231f20" stroke-width="1.1"/>
<line x1="338" y1="351.5" x2="343.5" y2="351.5" stroke="#231f20" stroke-width="1.1"/>
<text x="257.6" y="389.2" font-size="8.6" text-anchor="middle" textLength="10.4" lengthAdjust="spacingAndGlyphs">1st</text>
<text x="283.4" y="389.2" font-size="8.6" text-anchor="middle" textLength="14.1" lengthAdjust="spacingAndGlyphs">2nd</text>
<text x="309.2" y="389.2" font-size="8.6" text-anchor="middle" textLength="11.9" lengthAdjust="spacingAndGlyphs">3rd</text>
<text x="335" y="389.2" font-size="8.6" text-anchor="middle" textLength="10.9" lengthAdjust="spacingAndGlyphs">4th</text>
<rect x="350.4" y="306.5" width="7.7" height="4.4" fill="#5ea934"/>
<text x="361.1" y="311.58" font-size="8" textLength="25.1" lengthAdjust="spacingAndGlyphs">Control</text>
<rect x="350.4" y="317.6" width="7.7" height="4.4" fill="#b0002a"/>
<text x="361.1" y="322.68" font-size="8" textLength="34.9" lengthAdjust="spacingAndGlyphs">ASXL1-MT</text>
<rect x="350.4" y="328.8" width="7.7" height="4.4" fill="#2c4f8e"/>
<text x="361.1" y="333.88" font-size="8" textLength="19.9" lengthAdjust="spacingAndGlyphs">HHEX</text>
<rect x="350.4" y="339.7" width="7.7" height="4.4" fill="#4a1e6e"/>
<text x="361.1" y="344.78" font-size="8" textLength="35.5" lengthAdjust="spacingAndGlyphs">MT+HHEX</text>
<text x="9.2" y="416.2" font-size="11.5" font-weight="bold">F</text>
<text x="34.2" y="422.5" font-size="10.1" class="t" textLength="158.3" lengthAdjust="spacingAndGlyphs">Human CD34<tspan font-size="6.5" dy="-3.8">+</tspan><tspan dy="3.8"> CB cells liquid culture</tspan></text>
<text x="48" y="438.6" font-size="8.2" textLength="46.6" lengthAdjust="spacingAndGlyphs">Experiment 1</text>
<text x="133.7" y="438.6" font-size="8.2" textLength="47.6" lengthAdjust="spacingAndGlyphs">Experiment 2</text>
<text font-size="10.32" text-anchor="middle" textLength="83" lengthAdjust="spacingAndGlyphs" transform="translate(15.6,467) rotate(-90)">Changes in DP frequency</text>
<line x1="37.5" y1="446" x2="37.5" y2="491.2" stroke="#231f20" stroke-width="1.25"/>
<line x1="34.3" y1="447.5" x2="37.3" y2="447.5" stroke="#231f20" stroke-width="1.25"/>
<text x="31.6" y="450.03" font-size="8.8" text-anchor="end" textLength="10.3" lengthAdjust="spacingAndGlyphs">2.5</text>
<line x1="34.3" y1="456.5" x2="37.3" y2="456.5" stroke="#231f20" stroke-width="1.25"/>
<text x="31.6" y="458.81" font-size="8.8" text-anchor="end" textLength="10.3" lengthAdjust="spacingAndGlyphs">2.0</text>
<line x1="34.3" y1="464.5" x2="37.3" y2="464.5" stroke="#231f20" stroke-width="1.25"/>
<text x="31.6" y="467.59" font-size="8.8" text-anchor="end" textLength="10.3" lengthAdjust="spacingAndGlyphs">1.5</text>
<line x1="34.3" y1="473.5" x2="37.3" y2="473.5" stroke="#231f20" stroke-width="1.25"/>
<text x="31.6" y="476.37" font-size="8.8" text-anchor="end" textLength="10.3" lengthAdjust="spacingAndGlyphs">1.0</text>
<line x1="34.3" y1="482.5" x2="37.3" y2="482.5" stroke="#231f20" stroke-width="1.25"/>
<text x="31.6" y="485.15" font-size="8.8" text-anchor="end" textLength="10.3" lengthAdjust="spacingAndGlyphs">0.5</text>
<line x1="34.3" y1="491.5" x2="37.3" y2="491.5" stroke="#231f20" stroke-width="1.25"/>
<text x="31.6" y="493.93" font-size="8.8" text-anchor="end" textLength="4.5" lengthAdjust="spacingAndGlyphs">0</text>
<line x1="34.3" y1="491.5" x2="103.8" y2="491.5" stroke="#231f20" stroke-width="1.3"/>
<line x1="37.5" y1="491.2" x2="37.5" y2="494" stroke="#231f20" stroke-width="1"/>
<text x="37.3" y="504.1" font-size="8.8" text-anchor="middle" textLength="4.5" lengthAdjust="spacingAndGlyphs">0</text>
<line x1="50.5" y1="491.2" x2="50.5" y2="494" stroke="#231f20" stroke-width="1"/>
<text x="50.25" y="504.1" font-size="8.8" text-anchor="middle" textLength="4.5" lengthAdjust="spacingAndGlyphs">5</text>
<line x1="63.5" y1="491.2" x2="63.5" y2="494" stroke="#231f20" stroke-width="1"/>
<text x="63.2" y="504.1" font-size="8.8" text-anchor="middle" textLength="9" lengthAdjust="spacingAndGlyphs">10</text>
<line x1="76.5" y1="491.2" x2="76.5" y2="494" stroke="#231f20" stroke-width="1"/>
<text x="76.15" y="504.1" font-size="8.8" text-anchor="middle" textLength="9" lengthAdjust="spacingAndGlyphs">15</text>
<line x1="89.5" y1="491.2" x2="89.5" y2="494" stroke="#231f20" stroke-width="1"/>
<text x="89.1" y="504.1" font-size="8.8" text-anchor="middle" textLength="9" lengthAdjust="spacingAndGlyphs">20</text>
<line x1="102.5" y1="491.2" x2="102.5" y2="494" stroke="#231f20" stroke-width="1"/>
<text x="102.05" y="504.1" font-size="8.8" text-anchor="middle" textLength="9" lengthAdjust="spacingAndGlyphs">25</text>
<text x="34.2" y="517.4" font-size="10.3" textLength="75.4" lengthAdjust="spacingAndGlyphs">Days after transduction</text>
<polyline points="42.48,473.64 52.84,475.75 60.61,477.15 68.38,478.56 81.33,482.42 89.1,484.18" fill="none" stroke="#5cb034" stroke-width="1" stroke-linejoin="round"/>
<circle cx="42.48" cy="473.64" r="1" fill="#5cb034"/>
<circle cx="52.84" cy="475.75" r="1" fill="#5cb034"/>
<circle cx="60.61" cy="477.15" r="1" fill="#5cb034"/>
<circle cx="68.38" cy="478.56" r="1" fill="#5cb034"/>
<circle cx="81.33" cy="482.42" r="1" fill="#5cb034"/>
<circle cx="89.1" cy="484.18" r="1" fill="#5cb034"/>
<polyline points="42.48,473.64 52.84,471.88 60.61,473.99 68.38,474.52 81.33,481.02 89.1,483.3" fill="none" stroke="#c0102e" stroke-width="1" stroke-linejoin="round"/>
<circle cx="42.48" cy="473.64" r="1" fill="#c0102e"/>
<circle cx="52.84" cy="471.88" r="1" fill="#c0102e"/>
<circle cx="60.61" cy="473.99" r="1" fill="#c0102e"/>
<circle cx="68.38" cy="474.52" r="1" fill="#c0102e"/>
<circle cx="81.33" cy="481.02" r="1" fill="#c0102e"/>
<circle cx="89.1" cy="483.3" r="1" fill="#c0102e"/>
<polyline points="42.48,473.64 52.84,473.99 60.61,474.52 81.33,472.24 89.1,470.13" fill="none" stroke="#2e5ba5" stroke-width="1" stroke-linejoin="round"/>
<circle cx="42.48" cy="473.64" r="1" fill="#2e5ba5"/>
<circle cx="52.84" cy="473.99" r="1" fill="#2e5ba5"/>
<circle cx="60.61" cy="474.52" r="1" fill="#2e5ba5"/>
<circle cx="81.33" cy="472.24" r="1" fill="#2e5ba5"/>
<line x1="81.33" y1="471.36" x2="81.33" y2="473.11" stroke="#2e5ba5" stroke-width="0.9"/>
<line x1="79.83" y1="471.36" x2="82.83" y2="471.36" stroke="#2e5ba5" stroke-width="0.9"/>
<line x1="79.83" y1="473.11" x2="82.83" y2="473.11" stroke="#2e5ba5" stroke-width="0.9"/>
<circle cx="89.1" cy="470.13" r="1" fill="#2e5ba5"/>
<line x1="89.1" y1="469.07" x2="89.1" y2="471.18" stroke="#2e5ba5" stroke-width="0.9"/>
<line x1="87.6" y1="469.07" x2="90.6" y2="469.07" stroke="#2e5ba5" stroke-width="0.9"/>
<line x1="87.6" y1="471.18" x2="90.6" y2="471.18" stroke="#2e5ba5" stroke-width="0.9"/>
<polyline points="42.48,473.64 52.84,472.24 60.61,473.29 81.33,459.59 89.1,457.84" fill="none" stroke="#5a2a84" stroke-width="1" stroke-linejoin="round"/>
<circle cx="42.48" cy="473.64" r="1" fill="#5a2a84"/>
<circle cx="52.84" cy="472.24" r="1" fill="#5a2a84"/>
<circle cx="60.61" cy="473.29" r="1" fill="#5a2a84"/>
<circle cx="81.33" cy="459.59" r="1" fill="#5a2a84"/>
<line x1="81.33" y1="458.54" x2="81.33" y2="460.65" stroke="#5a2a84" stroke-width="0.9"/>
<line x1="79.83" y1="458.54" x2="82.83" y2="458.54" stroke="#5a2a84" stroke-width="0.9"/>
<line x1="79.83" y1="460.65" x2="82.83" y2="460.65" stroke="#5a2a84" stroke-width="0.9"/>
<circle cx="89.1" cy="457.84" r="1" fill="#5a2a84"/>
<line x1="89.1" y1="453.97" x2="89.1" y2="461.7" stroke="#5a2a84" stroke-width="0.9"/>
<line x1="87.6" y1="453.97" x2="90.6" y2="453.97" stroke="#5a2a84" stroke-width="0.9"/>
<line x1="87.6" y1="461.7" x2="90.6" y2="461.7" stroke="#5a2a84" stroke-width="0.9"/>
<line x1="123.5" y1="444.2" x2="123.5" y2="491.4" stroke="#231f20" stroke-width="1.25"/>
<line x1="120.4" y1="446.5" x2="123.4" y2="446.5" stroke="#231f20" stroke-width="1.25"/>
<text x="117.4" y="449.64" font-size="8.8" text-anchor="end" textLength="4.5" lengthAdjust="spacingAndGlyphs">3</text>
<line x1="120.4" y1="461.5" x2="123.4" y2="461.5" stroke="#231f20" stroke-width="1.25"/>
<text x="117.4" y="464.47" font-size="8.8" text-anchor="end" textLength="4.5" lengthAdjust="spacingAndGlyphs">2</text>
<line x1="120.4" y1="476.5" x2="123.4" y2="476.5" stroke="#231f20" stroke-width="1.25"/>
<text x="117.4" y="479.3" font-size="8.8" text-anchor="end" textLength="4.5" lengthAdjust="spacingAndGlyphs">1</text>
<line x1="120.4" y1="491.5" x2="123.4" y2="491.5" stroke="#231f20" stroke-width="1.25"/>
<text x="117.4" y="494.13" font-size="8.8" text-anchor="end" textLength="4.5" lengthAdjust="spacingAndGlyphs">0</text>
<line x1="120.4" y1="491.5" x2="190.8" y2="491.5" stroke="#231f20" stroke-width="1.3"/>
<line x1="123.5" y1="491.4" x2="123.5" y2="494.2" stroke="#231f20" stroke-width="1"/>
<text x="123.4" y="504.1" font-size="8.8" text-anchor="middle" textLength="4.5" lengthAdjust="spacingAndGlyphs">0</text>
<line x1="136.5" y1="491.4" x2="136.5" y2="494.2" stroke="#231f20" stroke-width="1"/>
<text x="136.42" y="504.1" font-size="8.8" text-anchor="middle" textLength="4.5" lengthAdjust="spacingAndGlyphs">5</text>
<line x1="149.5" y1="491.4" x2="149.5" y2="494.2" stroke="#231f20" stroke-width="1"/>
<text x="149.44" y="504.1" font-size="8.8" text-anchor="middle" textLength="9" lengthAdjust="spacingAndGlyphs">10</text>
<line x1="162.5" y1="491.4" x2="162.5" y2="494.2" stroke="#231f20" stroke-width="1"/>
<text x="162.46" y="504.1" font-size="8.8" text-anchor="middle" textLength="9" lengthAdjust="spacingAndGlyphs">15</text>
<line x1="175.5" y1="491.4" x2="175.5" y2="494.2" stroke="#231f20" stroke-width="1"/>
<text x="175.48" y="504.1" font-size="8.8" text-anchor="middle" textLength="9" lengthAdjust="spacingAndGlyphs">20</text>
<line x1="188.5" y1="491.4" x2="188.5" y2="494.2" stroke="#231f20" stroke-width="1"/>
<text x="188.5" y="504.1" font-size="8.8" text-anchor="middle" textLength="9" lengthAdjust="spacingAndGlyphs">25</text>
<text x="119.4" y="517.4" font-size="10.3" textLength="76.2" lengthAdjust="spacingAndGlyphs">Days after transduction</text>
<polyline points="128.61,476.57 136.42,474.35 144.23,476.57 154.65,478.79 159.86,480.43 167.67,482.5 175.48,485.47" fill="none" stroke="#5cb034" stroke-width="1" stroke-linejoin="round"/>
<circle cx="128.61" cy="476.57" r="1" fill="#5cb034"/>
<circle cx="136.42" cy="474.35" r="1" fill="#5cb034"/>
<line x1="136.42" y1="473.6" x2="136.42" y2="475.09" stroke="#5cb034" stroke-width="0.9"/>
<line x1="134.92" y1="473.6" x2="137.92" y2="473.6" stroke="#5cb034" stroke-width="0.9"/>
<line x1="134.92" y1="475.09" x2="137.92" y2="475.09" stroke="#5cb034" stroke-width="0.9"/>
<circle cx="144.23" cy="476.57" r="1" fill="#5cb034"/>
<circle cx="154.65" cy="478.79" r="1" fill="#5cb034"/>
<circle cx="159.86" cy="480.43" r="1" fill="#5cb034"/>
<circle cx="167.67" cy="482.5" r="1" fill="#5cb034"/>
<circle cx="175.48" cy="485.47" r="1" fill="#5cb034"/>
<polyline points="128.61,476.57 136.42,465.89 144.23,469.15 154.65,471.38 159.86,472.86 167.67,476.57 175.48,481.76" fill="none" stroke="#c0102e" stroke-width="1" stroke-linejoin="round"/>
<circle cx="128.61" cy="476.57" r="1" fill="#c0102e"/>
<circle cx="136.42" cy="465.89" r="1" fill="#c0102e"/>
<circle cx="144.23" cy="469.15" r="1" fill="#c0102e"/>
<circle cx="154.65" cy="471.38" r="1" fill="#c0102e"/>
<line x1="154.65" y1="470.64" x2="154.65" y2="472.12" stroke="#c0102e" stroke-width="0.9"/>
<line x1="153.15" y1="470.64" x2="156.15" y2="470.64" stroke="#c0102e" stroke-width="0.9"/>
<line x1="153.15" y1="472.12" x2="156.15" y2="472.12" stroke="#c0102e" stroke-width="0.9"/>
<circle cx="159.86" cy="472.86" r="1" fill="#c0102e"/>
<circle cx="167.67" cy="476.57" r="1" fill="#c0102e"/>
<circle cx="175.48" cy="481.76" r="1" fill="#c0102e"/>
<polyline points="128.61,476.57 136.42,477.76 144.23,477.31 154.65,473.31 159.86,474.35 167.67,476.57 175.48,480.28" fill="none" stroke="#2e5ba5" stroke-width="1" stroke-linejoin="round"/>
<circle cx="128.61" cy="476.57" r="1" fill="#2e5ba5"/>
<circle cx="136.42" cy="477.76" r="1" fill="#2e5ba5"/>
<line x1="136.42" y1="474.05" x2="136.42" y2="481.46" stroke="#2e5ba5" stroke-width="0.9"/>
<line x1="134.92" y1="474.05" x2="137.92" y2="474.05" stroke="#2e5ba5" stroke-width="0.9"/>
<line x1="134.92" y1="481.46" x2="137.92" y2="481.46" stroke="#2e5ba5" stroke-width="0.9"/>
<circle cx="144.23" cy="477.31" r="1" fill="#2e5ba5"/>
<circle cx="154.65" cy="473.31" r="1" fill="#2e5ba5"/>
<line x1="154.65" y1="472.57" x2="154.65" y2="474.05" stroke="#2e5ba5" stroke-width="0.9"/>
<line x1="153.15" y1="472.57" x2="156.15" y2="472.57" stroke="#2e5ba5" stroke-width="0.9"/>
<line x1="153.15" y1="474.05" x2="156.15" y2="474.05" stroke="#2e5ba5" stroke-width="0.9"/>
<circle cx="159.86" cy="474.35" r="1" fill="#2e5ba5"/>
<circle cx="167.67" cy="476.57" r="1" fill="#2e5ba5"/>
<circle cx="175.48" cy="480.28" r="1" fill="#2e5ba5"/>
<polyline points="128.61,476.57 136.42,459.52 144.23,465.45 154.65,458.77 159.86,455.81 167.67,462.48 175.48,467.67" fill="none" stroke="#5a2a84" stroke-width="1" stroke-linejoin="round"/>
<circle cx="128.61" cy="476.57" r="1" fill="#5a2a84"/>
<circle cx="136.42" cy="459.52" r="1" fill="#5a2a84"/>
<circle cx="144.23" cy="465.45" r="1" fill="#5a2a84"/>
<circle cx="154.65" cy="458.77" r="1" fill="#5a2a84"/>
<line x1="154.65" y1="456.55" x2="154.65" y2="461" stroke="#5a2a84" stroke-width="0.9"/>
<line x1="153.15" y1="456.55" x2="156.15" y2="456.55" stroke="#5a2a84" stroke-width="0.9"/>
<line x1="153.15" y1="461" x2="156.15" y2="461" stroke="#5a2a84" stroke-width="0.9"/>
<circle cx="159.86" cy="455.81" r="1" fill="#5a2a84"/>
<line x1="159.86" y1="454.32" x2="159.86" y2="457.29" stroke="#5a2a84" stroke-width="0.9"/>
<line x1="158.36" y1="454.32" x2="161.36" y2="454.32" stroke="#5a2a84" stroke-width="0.9"/>
<line x1="158.36" y1="457.29" x2="161.36" y2="457.29" stroke="#5a2a84" stroke-width="0.9"/>
<circle cx="167.67" cy="462.48" r="1" fill="#5a2a84"/>
<line x1="167.67" y1="459.52" x2="167.67" y2="465.45" stroke="#5a2a84" stroke-width="0.9"/>
<line x1="166.17" y1="459.52" x2="169.17" y2="459.52" stroke="#5a2a84" stroke-width="0.9"/>
<line x1="166.17" y1="465.45" x2="169.17" y2="465.45" stroke="#5a2a84" stroke-width="0.9"/>
<circle cx="175.48" cy="467.67" r="1" fill="#5a2a84"/>
<line x1="175.48" y1="465.45" x2="175.48" y2="469.9" stroke="#5a2a84" stroke-width="0.9"/>
<line x1="173.98" y1="465.45" x2="176.98" y2="465.45" stroke="#5a2a84" stroke-width="0.9"/>
<line x1="173.98" y1="469.9" x2="176.98" y2="469.9" stroke="#5a2a84" stroke-width="0.9"/>
<line x1="197.5" y1="449" x2="204.2" y2="449" stroke="#5cb034" stroke-width="0.9"/>
<circle cx="200.85" cy="449" r="1.1" fill="#5cb034"/>
<text x="208.3" y="451.88" font-size="8" textLength="25" lengthAdjust="spacingAndGlyphs">Control</text>
<line x1="197.5" y1="460.4" x2="204.2" y2="460.4" stroke="#c0102e" stroke-width="0.9"/>
<circle cx="200.85" cy="460.4" r="1.1" fill="#c0102e"/>
<text x="208.3" y="463.28" font-size="8" textLength="35" lengthAdjust="spacingAndGlyphs">ASXL1-MT</text>
<line x1="197.5" y1="471.2" x2="204.2" y2="471.2" stroke="#2e5ba5" stroke-width="0.9"/>
<circle cx="200.85" cy="471.2" r="1.1" fill="#2e5ba5"/>
<text x="208.3" y="474.08" font-size="8" textLength="20.2" lengthAdjust="spacingAndGlyphs">HHEX</text>
<line x1="197.5" y1="482.5" x2="204.2" y2="482.5" stroke="#5a2a84" stroke-width="0.9"/>
<circle cx="200.85" cy="482.5" r="1.1" fill="#5a2a84"/>
<text x="208.3" y="485.38" font-size="8" textLength="35.5" lengthAdjust="spacingAndGlyphs">MT+HHEX</text>
<text x="300" y="422.8" font-size="10.6" class="t" textLength="48.5" lengthAdjust="spacingAndGlyphs">DP fraction</text>
<text font-size="10.32" text-anchor="middle" textLength="83" lengthAdjust="spacingAndGlyphs" transform="translate(270.3,464.2) rotate(-90)">Changes in DP frequency</text>
<line x1="291.5" y1="441.2" x2="291.5" y2="487.3" stroke="#231f20" stroke-width="1.25"/>
<line x1="288.5" y1="443.5" x2="291.5" y2="443.5" stroke="#231f20" stroke-width="1.25"/>
<text x="285.2" y="446.23" font-size="8.8" text-anchor="end" textLength="10.5" lengthAdjust="spacingAndGlyphs">2.5</text>
<line x1="288.5" y1="452.5" x2="291.5" y2="452.5" stroke="#231f20" stroke-width="1.25"/>
<text x="285.2" y="454.99" font-size="8.8" text-anchor="end" textLength="10.5" lengthAdjust="spacingAndGlyphs">2.0</text>
<line x1="288.5" y1="461.5" x2="291.5" y2="461.5" stroke="#231f20" stroke-width="1.25"/>
<text x="285.2" y="463.75" font-size="8.8" text-anchor="end" textLength="10.5" lengthAdjust="spacingAndGlyphs">1.5</text>
<line x1="288.5" y1="469.5" x2="291.5" y2="469.5" stroke="#231f20" stroke-width="1.25"/>
<text x="285.2" y="472.51" font-size="8.8" text-anchor="end" textLength="10.5" lengthAdjust="spacingAndGlyphs">1.0</text>
<line x1="288.5" y1="478.5" x2="291.5" y2="478.5" stroke="#231f20" stroke-width="1.25"/>
<text x="285.2" y="481.27" font-size="8.8" text-anchor="end" textLength="10.5" lengthAdjust="spacingAndGlyphs">0.5</text>
<line x1="288.5" y1="487.5" x2="291.5" y2="487.5" stroke="#231f20" stroke-width="1.25"/>
<text x="285.2" y="490.03" font-size="8.8" text-anchor="end" textLength="4.5" lengthAdjust="spacingAndGlyphs">0</text>
<line x1="288.5" y1="487.5" x2="356.5" y2="487.5" stroke="#231f20" stroke-width="1.3"/>
<line x1="301.5" y1="487.3" x2="301.5" y2="490.1" stroke="#231f20" stroke-width="1"/>
<line x1="316.5" y1="487.3" x2="316.5" y2="490.1" stroke="#231f20" stroke-width="1"/>
<line x1="331.5" y1="487.3" x2="331.5" y2="490.1" stroke="#231f20" stroke-width="1"/>
<line x1="346.5" y1="487.3" x2="346.5" y2="490.1" stroke="#231f20" stroke-width="1"/>
<rect x="296.1" y="479.77" width="10" height="7.53" fill="#b5d69c"/>
<line x1="301.1" y1="479.42" x2="301.1" y2="480.12" stroke="#5aaa2e" stroke-width="0.8"/>
<line x1="299.1" y1="479.42" x2="303.1" y2="479.42" stroke="#5aaa2e" stroke-width="0.8"/>
<circle cx="297.6" cy="480.05" r="0.77" fill="#5aaa2e"/>
<circle cx="299.9" cy="479.84" r="0.77" fill="#5aaa2e"/>
<circle cx="302.2" cy="480.09" r="0.77" fill="#5aaa2e"/>
<circle cx="304.5" cy="480.1" r="0.77" fill="#5aaa2e"/>
<rect x="311.5" y="478.19" width="10" height="9.11" fill="#db8b7c"/>
<line x1="316.5" y1="476.44" x2="316.5" y2="479.94" stroke="#c4122f" stroke-width="0.8"/>
<line x1="314.5" y1="476.44" x2="318.5" y2="476.44" stroke="#c4122f" stroke-width="0.8"/>
<rect x="312.28" y="478.16" width="1.44" height="1.44" fill="#c4122f"/>
<rect x="314.58" y="478.41" width="1.44" height="1.44" fill="#c4122f"/>
<rect x="316.88" y="477.17" width="1.44" height="1.44" fill="#c4122f"/>
<rect x="319.18" y="477.37" width="1.44" height="1.44" fill="#c4122f"/>
<rect x="326.4" y="470.48" width="10" height="16.82" fill="#909ec9"/>
<line x1="331.4" y1="467.85" x2="331.4" y2="473.11" stroke="#2e5da8" stroke-width="0.8"/>
<line x1="329.4" y1="467.85" x2="333.4" y2="467.85" stroke="#2e5da8" stroke-width="0.8"/>
<path d="M327.9,468.17L328.8,469.79L327,469.79Z" fill="#2e5da8"/>
<path d="M330.2,468.66L331.1,470.28L329.3,470.28Z" fill="#2e5da8"/>
<path d="M332.5,468.36L333.4,469.98L331.6,469.98Z" fill="#2e5da8"/>
<path d="M334.8,467.5L335.7,469.12L333.9,469.12Z" fill="#2e5da8"/>
<rect x="341.5" y="457.87" width="10" height="29.43" fill="#a38bbd"/>
<line x1="346.5" y1="454.36" x2="346.5" y2="461.37" stroke="#5b2c86" stroke-width="0.8"/>
<line x1="344.5" y1="454.36" x2="348.5" y2="454.36" stroke="#5b2c86" stroke-width="0.8"/>
<path d="M343,459.63L343.9,458.01L342.1,458.01Z" fill="#5b2c86"/>
<path d="M345.3,460.07L346.2,458.45L344.4,458.45Z" fill="#5b2c86"/>
<path d="M347.6,455.46L348.5,453.84L346.7,453.84Z" fill="#5b2c86"/>
<path d="M349.9,461.31L350.8,459.69L349,459.69Z" fill="#5b2c86"/>
<path d="M317.12,430.05L317.12,432.35M316.13,430.62L318.12,431.77M316.13,431.77L318.12,430.62M320.18,430.05L320.18,432.35M319.18,430.62L321.17,431.77M319.18,431.77L321.17,430.62M323.23,430.05L323.23,432.35M322.23,430.62L324.22,431.77M322.23,431.77L324.22,430.62M326.27,430.05L326.27,432.35M325.28,430.62L327.27,431.77M325.28,431.77L327.27,430.62" stroke="#231f20" stroke-width="0.75" fill="none"/>
<line x1="294.2" y1="434.5" x2="349.2" y2="434.5" stroke="#231f20" stroke-width="1.2"/>
<path d="M325.82,436.55L325.82,438.85M324.83,437.12L326.82,438.27M324.83,438.27L326.82,437.12M328.88,436.55L328.88,438.85M327.88,437.12L329.87,438.27M327.88,438.27L329.87,437.12M331.93,436.55L331.93,438.85M330.93,437.12L332.92,438.27M330.93,438.27L332.92,437.12M334.97,436.55L334.97,438.85M333.98,437.12L335.97,438.27M333.98,438.27L335.97,437.12" stroke="#231f20" stroke-width="0.75" fill="none"/>
<line x1="311.5" y1="440.5" x2="349.2" y2="440.5" stroke="#231f20" stroke-width="1.2"/>
<path d="M338.48,443.45L338.48,445.75M337.48,444.03L339.47,445.18M337.48,445.18L339.47,444.03M341.53,443.45L341.53,445.75M340.53,444.03L342.52,445.18M340.53,445.18L342.52,444.03" stroke="#231f20" stroke-width="0.75" fill="none"/>
<line x1="330.7" y1="447.5" x2="349.2" y2="447.5" stroke="#231f20" stroke-width="1.2"/>
<text font-size="9.46" text-anchor="end" textLength="29.16" lengthAdjust="spacingAndGlyphs" transform="translate(304.1,496) rotate(-45)">Control</text>
<text font-size="9.46" text-anchor="end" textLength="37.8" lengthAdjust="spacingAndGlyphs" transform="translate(319.5,496) rotate(-45)">ASXL1-MT</text>
<text font-size="9.46" text-anchor="end" textLength="21.6" lengthAdjust="spacingAndGlyphs" transform="translate(334.4,496) rotate(-45)">HHEX</text>
<text font-size="9.46" text-anchor="end" textLength="38.88" lengthAdjust="spacingAndGlyphs" transform="translate(349.5,496) rotate(-45)">MT+HHEX</text>
<text x="372.3" y="416.3" font-size="11.5" font-weight="bold">J</text>
<text x="396.2" y="416.6" font-size="8.4" textLength="26.8" lengthAdjust="spacingAndGlyphs">Control</text>
<text x="451.9" y="416.6" font-size="8.4" textLength="37.7" lengthAdjust="spacingAndGlyphs">ASXL1-MT</text>
<text x="398.9" y="472.6" font-size="8.4" textLength="21.1" lengthAdjust="spacingAndGlyphs">HHEX</text>
<text x="451.6" y="472.6" font-size="8.4" textLength="38.4" lengthAdjust="spacingAndGlyphs">MT+HHEX</text>
<defs><clipPath id="m1"><rect x="379.5" y="421.2" width="56.7" height="42.2"/></clipPath><filter id="m1f" x="-20%" y="-20%" width="140%" height="140%"><feGaussianBlur stdDeviation="0.4"/></filter></defs>
<rect x="379.5" y="421.2" width="56.7" height="42.2" fill="#e8e7ea"/>
<g clip-path="url(#m1)"><g filter="url(#m1f)">
<ellipse cx="396.5" cy="437.5" rx="10.5" ry="6.5" fill="#ded3e7" fill-opacity="0.6" transform="rotate(40 396.5 437.5)"/>
<ellipse cx="400" cy="456" rx="7" ry="5" fill="#ded3e7" fill-opacity="0.6"/>
<ellipse cx="392.4" cy="434.4" rx="2.42" ry="2.2" fill="#973c9c"/>
<ellipse cx="396.8" cy="436.1" rx="2.2" ry="2.09" fill="#973c9c"/>
<ellipse cx="402.2" cy="443" rx="2.86" ry="1.98" fill="#973c9c" transform="rotate(-30 402.2 443)"/>
<ellipse cx="419.5" cy="430.8" rx="3.91" ry="3.6" fill="#ded3e7" fill-opacity="0.9"/>
<ellipse cx="419.5" cy="430.8" rx="3.91" ry="3.6" fill="none" stroke="#b7a1cc" stroke-width="0.45" stroke-opacity="0.8"/>
<ellipse cx="419.5" cy="430.4" rx="2.42" ry="2.42" fill="#973c9c"/>
<ellipse cx="430.5" cy="429.4" rx="5.29" ry="4.87" fill="#ded3e7" fill-opacity="0.9"/>
<ellipse cx="430.5" cy="429.4" rx="5.29" ry="4.87" fill="none" stroke="#b7a1cc" stroke-width="0.45" stroke-opacity="0.8"/>
<ellipse cx="430.2" cy="427.6" rx="2.53" ry="1.76" fill="#973c9c"/>
<ellipse cx="395.3" cy="457" rx="2.42" ry="2.42" fill="#973c9c"/>
<ellipse cx="404.6" cy="457" rx="2.31" ry="2.53" fill="#973c9c"/>
<ellipse cx="419.5" cy="450.6" rx="5.98" ry="5.5" fill="#ded3e7" fill-opacity="0.9"/>
<ellipse cx="419.5" cy="450.6" rx="5.98" ry="5.5" fill="none" stroke="#b7a1cc" stroke-width="0.45" stroke-opacity="0.8"/>
<ellipse cx="420.7" cy="452.3" rx="2.64" ry="2.2" fill="#973c9c"/>
</g></g>
<line x1="426.6" y1="462.5" x2="434.6" y2="462.5" stroke="#222" stroke-width="1"/>
<defs><clipPath id="m2"><rect x="441.5" y="421.2" width="56.5" height="42.2"/></clipPath><filter id="m2f" x="-20%" y="-20%" width="140%" height="140%"><feGaussianBlur stdDeviation="0.4"/></filter></defs>
<rect x="441.5" y="421.2" width="56.5" height="42.2" fill="#ece9f0"/>
<g clip-path="url(#m2)"><g filter="url(#m2f)">
<ellipse cx="477" cy="449" rx="10" ry="8" fill="#d9cbe6" fill-opacity="0.9"/>
<ellipse cx="470" cy="458" rx="8" ry="5" fill="#ddd0e8" fill-opacity="0.9"/>
<ellipse cx="449.8" cy="427.2" rx="5.29" ry="4.87" fill="#d6c9e4" fill-opacity="0.9"/>
<ellipse cx="449.8" cy="427.2" rx="5.29" ry="4.87" fill="none" stroke="#b7a1cc" stroke-width="0.45" stroke-opacity="0.8"/>
<ellipse cx="449.8" cy="426.9" rx="2.42" ry="2.31" fill="#5b3a94"/>
<ellipse cx="448.1" cy="434" rx="4.6" ry="4.23" fill="#d6c9e4" fill-opacity="0.9"/>
<ellipse cx="448.1" cy="434" rx="4.6" ry="4.23" fill="none" stroke="#b7a1cc" stroke-width="0.45" stroke-opacity="0.8"/>
<ellipse cx="448.1" cy="433.6" rx="2.86" ry="2.31" fill="#5b3a94"/>
<ellipse cx="456.1" cy="436.9" rx="5.98" ry="5.5" fill="#d6c9e4" fill-opacity="0.9"/>
<ellipse cx="456.1" cy="436.9" rx="5.98" ry="5.5" fill="none" stroke="#b7a1cc" stroke-width="0.45" stroke-opacity="0.8"/>
<ellipse cx="456.1" cy="436.7" rx="2.86" ry="2.75" fill="#5b3a94"/>
<ellipse cx="468.8" cy="428.5" rx="4.6" ry="4.23" fill="#d6c9e4" fill-opacity="0.9"/>
<ellipse cx="468.8" cy="428.5" rx="4.6" ry="4.23" fill="none" stroke="#b7a1cc" stroke-width="0.45" stroke-opacity="0.8"/>
<ellipse cx="468.8" cy="428.3" rx="1.98" ry="1.87" fill="#5b3a94"/>
<ellipse cx="471.4" cy="432.9" rx="1.21" ry="2.31" fill="#5b3a94" transform="rotate(20 471.4 432.9)"/>
<ellipse cx="468.3" cy="437.9" rx="1.87" ry="1.54" fill="#5b3a94"/>
<ellipse cx="475.8" cy="438.5" rx="1.43" ry="2.97" fill="#5b3a94" transform="rotate(40 475.8 438.5)"/>
<ellipse cx="468.3" cy="444.4" rx="4.37" ry="4.02" fill="#d6c9e4" fill-opacity="0.9"/>
<ellipse cx="468.3" cy="444.4" rx="4.37" ry="4.02" fill="none" stroke="#b7a1cc" stroke-width="0.45" stroke-opacity="0.8"/>
<ellipse cx="468.3" cy="444.2" rx="2.64" ry="2.2" fill="#5b3a94"/>
<ellipse cx="480.4" cy="425" rx="4.6" ry="4.23" fill="#d6c9e4" fill-opacity="0.9"/>
<ellipse cx="480.4" cy="425" rx="4.6" ry="4.23" fill="none" stroke="#b7a1cc" stroke-width="0.45" stroke-opacity="0.8"/>
<ellipse cx="480.4" cy="424.6" rx="2.09" ry="1.98" fill="#5b3a94"/>
<ellipse cx="485.6" cy="444.2" rx="2.2" ry="1.98" fill="#5b3a94"/>
<ellipse cx="493" cy="439.6" rx="5.29" ry="4.87" fill="#d6c9e4" fill-opacity="0.9"/>
<ellipse cx="493" cy="439.6" rx="5.29" ry="4.87" fill="none" stroke="#b7a1cc" stroke-width="0.45" stroke-opacity="0.8"/>
<ellipse cx="493.6" cy="441.3" rx="2.86" ry="1.98" fill="#5b3a94"/>
<ellipse cx="447.5" cy="446.2" rx="4.14" ry="3.81" fill="#d6c9e4" fill-opacity="0.9"/>
<ellipse cx="447.5" cy="446.2" rx="4.14" ry="3.81" fill="none" stroke="#b7a1cc" stroke-width="0.45" stroke-opacity="0.8"/>
<ellipse cx="447.5" cy="446" rx="2.2" ry="2.2" fill="#5b3a94"/>
<ellipse cx="458.5" cy="449.6" rx="5.29" ry="4.87" fill="#d6c9e4" fill-opacity="0.9"/>
<ellipse cx="458.5" cy="449.6" rx="5.29" ry="4.87" fill="none" stroke="#b7a1cc" stroke-width="0.45" stroke-opacity="0.8"/>
<ellipse cx="458.5" cy="449.4" rx="2.53" ry="2.42" fill="#5b3a94"/>
<ellipse cx="456.1" cy="455.8" rx="4.83" ry="4.44" fill="#d6c9e4" fill-opacity="0.9"/>
<ellipse cx="456.1" cy="455.8" rx="4.83" ry="4.44" fill="none" stroke="#b7a1cc" stroke-width="0.45" stroke-opacity="0.8"/>
<ellipse cx="456.1" cy="455.8" rx="3.19" ry="2.53" fill="#5b3a94"/>
<ellipse cx="475.8" cy="456.3" rx="2.09" ry="1.98" fill="#5b3a94"/>
<ellipse cx="443" cy="460" rx="1.32" ry="2.75" fill="#5b3a94"/>
</g></g>
<line x1="488.4" y1="462.5" x2="496.4" y2="462.5" stroke="#222" stroke-width="1"/>
<defs><clipPath id="m3"><rect x="380" y="475.8" width="56.2" height="42.4"/></clipPath><filter id="m3f" x="-20%" y="-20%" width="140%" height="140%"><feGaussianBlur stdDeviation="0.4"/></filter></defs>
<rect x="380" y="475.8" width="56.2" height="42.4" fill="#e9e8ec"/>
<g clip-path="url(#m3)"><g filter="url(#m3f)">
<ellipse cx="380.9" cy="478" rx="2.2" ry="2.2" fill="#6a2f8f"/>
<ellipse cx="385.5" cy="489.5" rx="4.83" ry="4.44" fill="#d8cce6" fill-opacity="0.9"/>
<ellipse cx="385.5" cy="489.5" rx="4.83" ry="4.44" fill="none" stroke="#b7a1cc" stroke-width="0.45" stroke-opacity="0.8"/>
<ellipse cx="385.5" cy="491.9" rx="2.64" ry="2.2" fill="#6a2f8f"/>
<ellipse cx="389.5" cy="497.2" rx="4.14" ry="3.81" fill="#d8cce6" fill-opacity="0.9"/>
<ellipse cx="389.5" cy="497.2" rx="4.14" ry="3.81" fill="none" stroke="#b7a1cc" stroke-width="0.45" stroke-opacity="0.8"/>
<ellipse cx="389.5" cy="497.6" rx="2.75" ry="2.2" fill="#6a2f8f"/>
<ellipse cx="395" cy="488.5" rx="5.29" ry="4.87" fill="#d8cce6" fill-opacity="0.9"/>
<ellipse cx="395" cy="488.5" rx="5.29" ry="4.87" fill="none" stroke="#b7a1cc" stroke-width="0.45" stroke-opacity="0.8"/>
<ellipse cx="395.3" cy="487.8" rx="1.98" ry="2.75" fill="#6a2f8f"/>
<ellipse cx="396.5" cy="493.6" rx="2.2" ry="1.98" fill="#6a2f8f"/>
<ellipse cx="401.8" cy="499.6" rx="5.29" ry="4.87" fill="#d8cce6" fill-opacity="0.9"/>
<ellipse cx="401.8" cy="499.6" rx="5.29" ry="4.87" fill="none" stroke="#b7a1cc" stroke-width="0.45" stroke-opacity="0.8"/>
<ellipse cx="402.2" cy="500.5" rx="3.08" ry="2.2" fill="#6a2f8f" transform="rotate(-20 402.2 500.5)"/>
<ellipse cx="412" cy="500" rx="4.6" ry="4.23" fill="#d8cce6" fill-opacity="0.9"/>
<ellipse cx="412" cy="500" rx="4.6" ry="4.23" fill="none" stroke="#b7a1cc" stroke-width="0.45" stroke-opacity="0.8"/>
<ellipse cx="412" cy="500" rx="2.75" ry="2.64" fill="#6a2f8f"/>
<ellipse cx="408.6" cy="507.8" rx="3.91" ry="3.6" fill="#d8cce6" fill-opacity="0.9"/>
<ellipse cx="408.6" cy="507.8" rx="3.91" ry="3.6" fill="none" stroke="#b7a1cc" stroke-width="0.45" stroke-opacity="0.8"/>
<ellipse cx="408.6" cy="508" rx="2.53" ry="1.76" fill="#6a2f8f"/>
<ellipse cx="405.7" cy="512.8" rx="4.6" ry="4.23" fill="#d8cce6" fill-opacity="0.9"/>
<ellipse cx="405.7" cy="512.8" rx="4.6" ry="4.23" fill="none" stroke="#b7a1cc" stroke-width="0.45" stroke-opacity="0.8"/>
<ellipse cx="405.7" cy="513.2" rx="2.75" ry="2.64" fill="#6a2f8f"/>
<ellipse cx="418.5" cy="510.5" rx="5.29" ry="4.87" fill="#d8cce6" fill-opacity="0.9"/>
<ellipse cx="418.5" cy="510.5" rx="5.29" ry="4.87" fill="none" stroke="#b7a1cc" stroke-width="0.45" stroke-opacity="0.8"/>
<ellipse cx="419" cy="510.9" rx="2.53" ry="2.2" fill="#6a2f8f"/>
<ellipse cx="421.8" cy="484" rx="6.67" ry="6.14" fill="#d8cce6" fill-opacity="0.9"/>
<ellipse cx="421.8" cy="484" rx="6.67" ry="6.14" fill="none" stroke="#b7a1cc" stroke-width="0.45" stroke-opacity="0.8"/>
<ellipse cx="419.5" cy="486.1" rx="1.65" ry="2.53" fill="#6a2f8f"/>
<ellipse cx="425.3" cy="485.5" rx="2.53" ry="1.76" fill="#6a2f8f"/>
<ellipse cx="420.7" cy="478" rx="1.98" ry="2.2" fill="#6a2f8f"/>
<ellipse cx="432.8" cy="490.1" rx="3.91" ry="3.6" fill="#d8cce6" fill-opacity="0.9"/>
<ellipse cx="432.8" cy="490.1" rx="3.91" ry="3.6" fill="none" stroke="#b7a1cc" stroke-width="0.45" stroke-opacity="0.8"/>
<ellipse cx="432.8" cy="490.1" rx="2.2" ry="2.2" fill="#6a2f8f"/>
</g></g>
<line x1="426.6" y1="516.5" x2="434.6" y2="516.5" stroke="#222" stroke-width="1"/>
<defs><clipPath id="m4"><rect x="441.5" y="475.8" width="56.5" height="42.4"/></clipPath><filter id="m4f" x="-20%" y="-20%" width="140%" height="140%"><feGaussianBlur stdDeviation="0.4"/></filter></defs>
<rect x="441.5" y="475.8" width="56.5" height="42.4" fill="#e9e8eb"/>
<g clip-path="url(#m4)"><g filter="url(#m4f)">
<ellipse cx="443.5" cy="477.5" rx="4.34" ry="3.99" fill="#d9cde6" fill-opacity="0.9"/>
<ellipse cx="443.5" cy="477.5" rx="4.34" ry="3.99" fill="none" stroke="#b7a1cc" stroke-width="0.45" stroke-opacity="0.8"/>
<ellipse cx="443.5" cy="477.5" rx="2.42" ry="2.13" fill="#8a56a8"/>
<ellipse cx="442.3" cy="482" rx="3.68" ry="3.39" fill="#d9cde6" fill-opacity="0.9"/>
<ellipse cx="442.3" cy="482" rx="3.68" ry="3.39" fill="none" stroke="#b7a1cc" stroke-width="0.45" stroke-opacity="0.8"/>
<ellipse cx="442.3" cy="482" rx="1.74" ry="1.94" fill="#8a56a8"/>
<ellipse cx="466.5" cy="478" rx="4.34" ry="3.99" fill="#d9cde6" fill-opacity="0.9"/>
<ellipse cx="466.5" cy="478" rx="4.34" ry="3.99" fill="none" stroke="#b7a1cc" stroke-width="0.45" stroke-opacity="0.8"/>
<ellipse cx="466.5" cy="478" rx="2.42" ry="2.23" fill="#8a56a8"/>
<ellipse cx="476.9" cy="477.5" rx="4.74" ry="4.36" fill="#d9cde6" fill-opacity="0.9"/>
<ellipse cx="476.9" cy="477.5" rx="4.74" ry="4.36" fill="none" stroke="#b7a1cc" stroke-width="0.45" stroke-opacity="0.8"/>
<ellipse cx="476.9" cy="477.5" rx="2.71" ry="1.94" fill="#8a56a8"/>
<ellipse cx="487.3" cy="477.5" rx="3.68" ry="3.39" fill="#d9cde6" fill-opacity="0.9"/>
<ellipse cx="487.3" cy="477.5" rx="3.68" ry="3.39" fill="none" stroke="#b7a1cc" stroke-width="0.45" stroke-opacity="0.8"/>
<ellipse cx="487.3" cy="477.5" rx="1.94" ry="1.74" fill="#8a56a8"/>
<ellipse cx="496.5" cy="481.5" rx="4.34" ry="3.99" fill="#d9cde6" fill-opacity="0.9"/>
<ellipse cx="496.5" cy="481.5" rx="4.34" ry="3.99" fill="none" stroke="#b7a1cc" stroke-width="0.45" stroke-opacity="0.8"/>
<ellipse cx="496.5" cy="481.5" rx="2.42" ry="2.42" fill="#8a56a8"/>
<ellipse cx="453.3" cy="486.7" rx="5" ry="4.6" fill="#d9cde6" fill-opacity="0.9"/>
<ellipse cx="453.3" cy="486.7" rx="5" ry="4.6" fill="none" stroke="#b7a1cc" stroke-width="0.45" stroke-opacity="0.8"/>
<ellipse cx="453.3" cy="486.7" rx="2.9" ry="2.81" fill="#8a56a8"/>
<ellipse cx="452.7" cy="493" rx="4.34" ry="3.99" fill="#d9cde6" fill-opacity="0.9"/>
<ellipse cx="452.7" cy="493" rx="4.34" ry="3.99" fill="none" stroke="#b7a1cc" stroke-width="0.45" stroke-opacity="0.8"/>
<ellipse cx="452.7" cy="493" rx="2.42" ry="1.45" fill="#8a56a8"/>
<ellipse cx="461.3" cy="495.3" rx="4.87" ry="4.48" fill="#d9cde6" fill-opacity="0.9"/>
<ellipse cx="461.3" cy="495.3" rx="4.87" ry="4.48" fill="none" stroke="#b7a1cc" stroke-width="0.45" stroke-opacity="0.8"/>
<ellipse cx="461.3" cy="495.3" rx="2.81" ry="2.81" fill="#8a56a8"/>
<ellipse cx="450.4" cy="497.6" rx="5.53" ry="5.09" fill="#d9cde6" fill-opacity="0.9"/>
<ellipse cx="450.4" cy="497.6" rx="5.53" ry="5.09" fill="none" stroke="#b7a1cc" stroke-width="0.45" stroke-opacity="0.8"/>
<ellipse cx="450.4" cy="497.6" rx="3.29" ry="2.32" fill="#8a56a8"/>
<ellipse cx="447.5" cy="502.3" rx="4.21" ry="3.87" fill="#d9cde6" fill-opacity="0.9"/>
<ellipse cx="447.5" cy="502.3" rx="4.21" ry="3.87" fill="none" stroke="#b7a1cc" stroke-width="0.45" stroke-opacity="0.8"/>
<ellipse cx="447.5" cy="502.3" rx="2.32" ry="2.32" fill="#8a56a8"/>
<ellipse cx="450.4" cy="502.6" rx="3.68" ry="3.39" fill="#d9cde6" fill-opacity="0.9"/>
<ellipse cx="450.4" cy="502.6" rx="3.68" ry="3.39" fill="none" stroke="#b7a1cc" stroke-width="0.45" stroke-opacity="0.8"/>
<ellipse cx="450.4" cy="502.6" rx="1.94" ry="1.94" fill="#8a56a8"/>
<ellipse cx="456.7" cy="500.5" rx="4.47" ry="4.12" fill="#d9cde6" fill-opacity="0.9"/>
<ellipse cx="456.7" cy="500.5" rx="4.47" ry="4.12" fill="none" stroke="#b7a1cc" stroke-width="0.45" stroke-opacity="0.8"/>
<ellipse cx="456.7" cy="500.5" rx="2.42" ry="2.52" fill="#8a56a8"/>
<ellipse cx="469.4" cy="491.9" rx="4.87" ry="4.48" fill="#d9cde6" fill-opacity="0.9"/>
<ellipse cx="469.4" cy="491.9" rx="4.87" ry="4.48" fill="none" stroke="#b7a1cc" stroke-width="0.45" stroke-opacity="0.8"/>
<ellipse cx="469.4" cy="491.9" rx="2.81" ry="2.42" fill="#8a56a8"/>
<ellipse cx="475.8" cy="489.6" rx="4.87" ry="4.48" fill="#d9cde6" fill-opacity="0.9"/>
<ellipse cx="475.8" cy="489.6" rx="4.87" ry="4.48" fill="none" stroke="#b7a1cc" stroke-width="0.45" stroke-opacity="0.8"/>
<ellipse cx="475.8" cy="489.6" rx="2.81" ry="2.61" fill="#8a56a8"/>
<ellipse cx="481" cy="486.7" rx="4.21" ry="3.87" fill="#d9cde6" fill-opacity="0.9"/>
<ellipse cx="481" cy="486.7" rx="4.21" ry="3.87" fill="none" stroke="#b7a1cc" stroke-width="0.45" stroke-opacity="0.8"/>
<ellipse cx="481" cy="486.7" rx="2.32" ry="2.32" fill="#8a56a8"/>
<ellipse cx="475.2" cy="498.2" rx="4.87" ry="4.48" fill="#d9cde6" fill-opacity="0.9"/>
<ellipse cx="475.2" cy="498.2" rx="4.87" ry="4.48" fill="none" stroke="#b7a1cc" stroke-width="0.45" stroke-opacity="0.8"/>
<ellipse cx="475.2" cy="498.2" rx="2.81" ry="2.81" fill="#8a56a8"/>
<ellipse cx="480.4" cy="501.7" rx="4.21" ry="3.87" fill="#d9cde6" fill-opacity="0.9"/>
<ellipse cx="480.4" cy="501.7" rx="4.21" ry="3.87" fill="none" stroke="#b7a1cc" stroke-width="0.45" stroke-opacity="0.8"/>
<ellipse cx="480.4" cy="501.7" rx="2.32" ry="2.32" fill="#8a56a8"/>
<ellipse cx="477.5" cy="504.6" rx="3.02" ry="2.78" fill="#d9cde6" fill-opacity="0.9"/>
<ellipse cx="477.5" cy="504.6" rx="3.02" ry="2.78" fill="none" stroke="#b7a1cc" stroke-width="0.45" stroke-opacity="0.8"/>
<ellipse cx="477.5" cy="504.6" rx="1.45" ry="1.45" fill="#8a56a8"/>
<ellipse cx="478.1" cy="509.2" rx="4.21" ry="3.87" fill="#d9cde6" fill-opacity="0.9"/>
<ellipse cx="478.1" cy="509.2" rx="4.21" ry="3.87" fill="none" stroke="#b7a1cc" stroke-width="0.45" stroke-opacity="0.8"/>
<ellipse cx="478.1" cy="509.2" rx="2.32" ry="2.13" fill="#8a56a8"/>
<ellipse cx="457.9" cy="512.6" rx="4.21" ry="3.87" fill="#d9cde6" fill-opacity="0.9"/>
<ellipse cx="457.9" cy="512.6" rx="4.21" ry="3.87" fill="none" stroke="#b7a1cc" stroke-width="0.45" stroke-opacity="0.8"/>
<ellipse cx="457.9" cy="512.6" rx="2.32" ry="2.13" fill="#8a56a8"/>
<ellipse cx="493" cy="505.7" rx="6.06" ry="5.58" fill="#d9cde6" fill-opacity="0.9"/>
<ellipse cx="493" cy="505.7" rx="6.06" ry="5.58" fill="none" stroke="#b7a1cc" stroke-width="0.45" stroke-opacity="0.8"/>
<ellipse cx="493" cy="505.7" rx="3.68" ry="3.29" fill="#8a56a8"/>
<ellipse cx="489" cy="512.6" rx="4.21" ry="3.87" fill="#d9cde6" fill-opacity="0.9"/>
<ellipse cx="489" cy="512.6" rx="4.21" ry="3.87" fill="none" stroke="#b7a1cc" stroke-width="0.45" stroke-opacity="0.8"/>
<ellipse cx="489" cy="512.6" rx="2.32" ry="2.32" fill="#8a56a8"/>
<ellipse cx="496.5" cy="510.9" rx="3.94" ry="3.63" fill="#d9cde6" fill-opacity="0.9"/>
<ellipse cx="496.5" cy="510.9" rx="3.94" ry="3.63" fill="none" stroke="#b7a1cc" stroke-width="0.45" stroke-opacity="0.8"/>
<ellipse cx="496.5" cy="510.9" rx="1.94" ry="2.13" fill="#8a56a8"/>
</g></g>
<line x1="488.4" y1="516.5" x2="496.4" y2="516.5" stroke="#222" stroke-width="1"/>
<text x="7" y="550.2" font-size="11.5" font-weight="bold">G</text>
<text x="66.8" y="549.2" font-size="9.9" class="t" textLength="43.6" lengthAdjust="spacingAndGlyphs">Apoptosis</text>
<text x="29.6" y="561.4" font-size="7.6" textLength="12.1" lengthAdjust="spacingAndGlyphs">(%)</text>
<text font-size="10.32" text-anchor="middle" textLength="41.6" lengthAdjust="spacingAndGlyphs" transform="translate(17.2,596.2) rotate(-90)">Frequency of</text>
<text font-size="10.32" text-anchor="middle" textLength="55.2" lengthAdjust="spacingAndGlyphs" transform="translate(26.7,596.2) rotate(-90)">annexin V+ cells</text>
<line x1="47.5" y1="567.8" x2="47.5" y2="625" stroke="#231f20" stroke-width="1.25"/>
<line x1="44.4" y1="570.5" x2="47.4" y2="570.5" stroke="#231f20" stroke-width="1.25"/>
<text x="41.4" y="572.83" font-size="8.8" text-anchor="end" textLength="8.6" lengthAdjust="spacingAndGlyphs">30</text>
<line x1="44.4" y1="588.5" x2="47.4" y2="588.5" stroke="#231f20" stroke-width="1.25"/>
<text x="41.4" y="591.13" font-size="8.8" text-anchor="end" textLength="8.6" lengthAdjust="spacingAndGlyphs">20</text>
<line x1="44.4" y1="606.5" x2="47.4" y2="606.5" stroke="#231f20" stroke-width="1.25"/>
<text x="41.4" y="609.43" font-size="8.8" text-anchor="end" textLength="8.6" lengthAdjust="spacingAndGlyphs">10</text>
<line x1="44.4" y1="625.5" x2="47.4" y2="625.5" stroke="#231f20" stroke-width="1.25"/>
<text x="41.4" y="627.73" font-size="8.8" text-anchor="end" textLength="4.3" lengthAdjust="spacingAndGlyphs">0</text>
<line x1="44.4" y1="625.5" x2="128.7" y2="625.5" stroke="#231f20" stroke-width="1.3"/>
<line x1="59.5" y1="625" x2="59.5" y2="627.8" stroke="#231f20" stroke-width="1"/>
<line x1="78.5" y1="625" x2="78.5" y2="627.8" stroke="#231f20" stroke-width="1"/>
<line x1="97.5" y1="625" x2="97.5" y2="627.8" stroke="#231f20" stroke-width="1"/>
<line x1="116.5" y1="625" x2="116.5" y2="627.8" stroke="#231f20" stroke-width="1"/>
<line x1="53.4" y1="578.34" x2="66.4" y2="578.34" stroke="#5aaa2e" stroke-width="1.1"/>
<line x1="59.9" y1="577.05" x2="59.9" y2="579.62" stroke="#5aaa2e" stroke-width="0.9"/>
<line x1="57.7" y1="577.05" x2="62.1" y2="577.05" stroke="#5aaa2e" stroke-width="0.9"/>
<line x1="57.7" y1="579.62" x2="62.1" y2="579.62" stroke="#5aaa2e" stroke-width="0.9"/>
<circle cx="56.4" cy="577.7" r="0.85" fill="#5aaa2e"/>
<circle cx="58.73" cy="577.93" r="0.85" fill="#5aaa2e"/>
<circle cx="61.07" cy="579.62" r="0.85" fill="#5aaa2e"/>
<circle cx="63.4" cy="577.39" r="0.85" fill="#5aaa2e"/>
<line x1="72.2" y1="584.19" x2="85.2" y2="584.19" stroke="#c4122f" stroke-width="1.1"/>
<line x1="78.7" y1="583.28" x2="78.7" y2="585.11" stroke="#c4122f" stroke-width="0.9"/>
<line x1="76.5" y1="583.28" x2="80.9" y2="583.28" stroke="#c4122f" stroke-width="0.9"/>
<line x1="76.5" y1="585.11" x2="80.9" y2="585.11" stroke="#c4122f" stroke-width="0.9"/>
<rect x="74.4" y="582.6" width="1.6" height="1.6" fill="#c4122f"/>
<rect x="76.73" y="583.13" width="1.6" height="1.6" fill="#c4122f"/>
<rect x="79.07" y="582.92" width="1.6" height="1.6" fill="#c4122f"/>
<rect x="81.4" y="582.76" width="1.6" height="1.6" fill="#c4122f"/>
<line x1="91" y1="598.47" x2="104" y2="598.47" stroke="#2e5da8" stroke-width="1.1"/>
<line x1="97.5" y1="597.73" x2="97.5" y2="599.2" stroke="#2e5da8" stroke-width="0.9"/>
<line x1="95.3" y1="597.73" x2="99.7" y2="597.73" stroke="#2e5da8" stroke-width="0.9"/>
<line x1="95.3" y1="599.2" x2="99.7" y2="599.2" stroke="#2e5da8" stroke-width="0.9"/>
<path d="M94,597.95L95,599.75L93,599.75Z" fill="#2e5da8"/>
<path d="M96.33,597.33L97.33,599.13L95.33,599.13Z" fill="#2e5da8"/>
<path d="M98.67,597.36L99.67,599.16L97.67,599.16Z" fill="#2e5da8"/>
<path d="M101,596.83L102,598.63L100,598.63Z" fill="#2e5da8"/>
<line x1="109.8" y1="600.84" x2="122.8" y2="600.84" stroke="#5b2c86" stroke-width="1.1"/>
<line x1="116.3" y1="599.93" x2="116.3" y2="601.76" stroke="#5b2c86" stroke-width="0.9"/>
<line x1="114.1" y1="599.93" x2="118.5" y2="599.93" stroke="#5b2c86" stroke-width="0.9"/>
<line x1="114.1" y1="601.76" x2="118.5" y2="601.76" stroke="#5b2c86" stroke-width="0.9"/>
<path d="M112.8,601.33L113.8,599.53L111.8,599.53Z" fill="#5b2c86"/>
<path d="M115.13,601.29L116.13,599.49L114.13,599.49Z" fill="#5b2c86"/>
<path d="M117.47,601.77L118.47,599.97L116.47,599.97Z" fill="#5b2c86"/>
<path d="M119.8,601.15L120.8,599.35L118.8,599.35Z" fill="#5b2c86"/>
<path d="M83.92,560.85L83.92,563.15M82.93,561.42L84.92,562.58M82.93,562.58L84.92,561.42M86.97,560.85L86.97,563.15M85.98,561.42L87.97,562.58M85.98,562.58L87.97,561.42M90.02,560.85L90.02,563.15M89.03,561.42L91.02,562.58M89.03,562.58L91.02,561.42M93.07,560.85L93.07,563.15M92.08,561.42L94.07,562.58M92.08,562.58L94.07,561.42" stroke="#333" stroke-width="0.75" fill="none"/>
<line x1="60.6" y1="565.5" x2="117.1" y2="565.5" stroke="#58595b" stroke-width="1.2"/>
<path d="M93.42,567.55L93.42,569.85M92.43,568.12L94.42,569.28M92.43,569.28L94.42,568.12M96.47,567.55L96.47,569.85M95.48,568.12L97.47,569.28M95.48,569.28L97.47,568.12M99.52,567.55L99.52,569.85M98.53,568.12L100.52,569.28M98.53,569.28L100.52,568.12M102.57,567.55L102.57,569.85M101.58,568.12L103.57,569.28M101.58,569.28L103.57,568.12" stroke="#333" stroke-width="0.75" fill="none"/>
<line x1="78.9" y1="571.5" x2="117.1" y2="571.5" stroke="#58595b" stroke-width="1.2"/>
<text font-size="9.46" text-anchor="end" textLength="27" lengthAdjust="spacingAndGlyphs" transform="translate(62.9,633.7) rotate(-45)">control</text>
<text font-size="9.46" text-anchor="end" textLength="37.8" lengthAdjust="spacingAndGlyphs" transform="translate(81.7,633.7) rotate(-45)">ASXL1-MT</text>
<text font-size="9.46" text-anchor="end" textLength="21.6" lengthAdjust="spacingAndGlyphs" transform="translate(100.5,633.7) rotate(-45)">HHEX</text>
<text font-size="9.46" text-anchor="end" textLength="38.88" lengthAdjust="spacingAndGlyphs" transform="translate(119.3,633.7) rotate(-45)">MT+HHEX</text>
<text x="145.4" y="549.9" font-size="11.5" font-weight="bold">H</text>
<text x="208.7" y="549.2" font-size="9.9" class="t" textLength="41.7" lengthAdjust="spacingAndGlyphs">Cell cycle</text>
<text font-size="10.32" text-anchor="middle" textLength="81" lengthAdjust="spacingAndGlyphs" transform="translate(162.6,591.5) rotate(-90)">Ratio of S/G2/M phase cells</text>
<text font-size="10.32" text-anchor="middle" textLength="90" lengthAdjust="spacingAndGlyphs" transform="translate(173.4,596) rotate(-90)">(normarized to DN fraction)</text>
<line x1="188.5" y1="567.5" x2="188.5" y2="624.5" stroke="#231f20" stroke-width="1.25"/>
<line x1="185.6" y1="570.5" x2="188.6" y2="570.5" stroke="#231f20" stroke-width="1.25"/>
<text x="182.2" y="572.93" font-size="8.8" text-anchor="end" textLength="4.4" lengthAdjust="spacingAndGlyphs">3</text>
<line x1="185.6" y1="588.5" x2="188.6" y2="588.5" stroke="#231f20" stroke-width="1.25"/>
<text x="182.2" y="591.03" font-size="8.8" text-anchor="end" textLength="4.4" lengthAdjust="spacingAndGlyphs">2</text>
<line x1="185.6" y1="606.5" x2="188.6" y2="606.5" stroke="#231f20" stroke-width="1.25"/>
<text x="182.2" y="609.13" font-size="8.8" text-anchor="end" textLength="4.4" lengthAdjust="spacingAndGlyphs">1</text>
<line x1="185.6" y1="624.5" x2="188.6" y2="624.5" stroke="#231f20" stroke-width="1.25"/>
<text x="182.2" y="627.23" font-size="8.8" text-anchor="end" textLength="4.4" lengthAdjust="spacingAndGlyphs">0</text>
<line x1="185.6" y1="624.5" x2="264.4" y2="624.5" stroke="#231f20" stroke-width="1.3"/>
<line x1="201.5" y1="624.5" x2="201.5" y2="627.3" stroke="#231f20" stroke-width="1"/>
<line x1="219.5" y1="624.5" x2="219.5" y2="627.3" stroke="#231f20" stroke-width="1"/>
<line x1="238.5" y1="624.5" x2="238.5" y2="627.3" stroke="#231f20" stroke-width="1"/>
<line x1="257.5" y1="624.5" x2="257.5" y2="627.3" stroke="#231f20" stroke-width="1"/>
<line x1="195" y1="609.66" x2="207" y2="609.66" stroke="#5aaa2e" stroke-width="1.1"/>
<line x1="201" y1="612.74" x2="201" y2="606.4" stroke="#5aaa2e" stroke-width="0.9"/>
<line x1="198.5" y1="612.74" x2="203.5" y2="612.74" stroke="#5aaa2e" stroke-width="0.9"/>
<line x1="198.5" y1="606.4" x2="203.5" y2="606.4" stroke="#5aaa2e" stroke-width="0.9"/>
<circle cx="201" cy="612.37" r="0.85" fill="#5aaa2e"/>
<circle cx="201" cy="609.66" r="0.85" fill="#5aaa2e"/>
<circle cx="201" cy="606.76" r="0.85" fill="#5aaa2e"/>
<line x1="213.8" y1="607.67" x2="225.8" y2="607.67" stroke="#c4122f" stroke-width="1.1"/>
<line x1="219.8" y1="609.48" x2="219.8" y2="605.5" stroke="#c4122f" stroke-width="0.9"/>
<line x1="217.3" y1="609.48" x2="222.3" y2="609.48" stroke="#c4122f" stroke-width="0.9"/>
<line x1="217.3" y1="605.5" x2="222.3" y2="605.5" stroke="#c4122f" stroke-width="0.9"/>
<rect x="219" y="608.32" width="1.6" height="1.6" fill="#c4122f"/>
<rect x="219" y="606.87" width="1.6" height="1.6" fill="#c4122f"/>
<rect x="219" y="605.06" width="1.6" height="1.6" fill="#c4122f"/>
<line x1="232.6" y1="596.45" x2="244.6" y2="596.45" stroke="#2e5da8" stroke-width="1.1"/>
<line x1="238.6" y1="607.3" x2="238.6" y2="586.49" stroke="#2e5da8" stroke-width="0.9"/>
<line x1="236.1" y1="607.3" x2="241.1" y2="607.3" stroke="#2e5da8" stroke-width="0.9"/>
<line x1="236.1" y1="586.49" x2="241.1" y2="586.49" stroke="#2e5da8" stroke-width="0.9"/>
<path d="M238.6,605.84L239.6,607.64L237.6,607.64Z" fill="#2e5da8"/>
<path d="M238.6,595.35L239.6,597.15L237.6,597.15Z" fill="#2e5da8"/>
<path d="M238.6,585.75L239.6,587.55L237.6,587.55Z" fill="#2e5da8"/>
<line x1="251.4" y1="580.52" x2="263.4" y2="580.52" stroke="#5b2c86" stroke-width="1.1"/>
<line x1="257.4" y1="583.77" x2="257.4" y2="577.44" stroke="#5b2c86" stroke-width="0.9"/>
<line x1="254.9" y1="583.77" x2="259.9" y2="583.77" stroke="#5b2c86" stroke-width="0.9"/>
<line x1="254.9" y1="577.44" x2="259.9" y2="577.44" stroke="#5b2c86" stroke-width="0.9"/>
<path d="M257.4,584.51L258.4,582.71L256.4,582.71Z" fill="#5b2c86"/>
<path d="M257.4,581.62L258.4,579.82L256.4,579.82Z" fill="#5b2c86"/>
<path d="M257.4,578.9L258.4,577.1L256.4,577.1Z" fill="#5b2c86"/>
<path d="M224.43,555.35L224.43,557.65M223.43,555.92L225.42,557.08M223.43,557.08L225.42,555.92M227.48,555.35L227.48,557.65M226.48,555.92L228.47,557.08M226.48,557.08L228.47,555.92M230.53,555.35L230.53,557.65M229.53,555.92L231.52,557.08M229.53,557.08L231.52,555.92M233.58,555.35L233.58,557.65M232.58,555.92L234.57,557.08M232.58,557.08L234.57,555.92" stroke="#333" stroke-width="0.75" fill="none"/>
<line x1="201.9" y1="560.5" x2="257.9" y2="560.5" stroke="#58595b" stroke-width="1.2"/>
<path d="M233.43,562.85L233.43,565.15M232.43,563.42L234.42,564.58M232.43,564.58L234.42,563.42M236.48,562.85L236.48,565.15M235.48,563.42L237.47,564.58M235.48,564.58L237.47,563.42M239.53,562.85L239.53,565.15M238.53,563.42L240.52,564.58M238.53,564.58L240.52,563.42M242.58,562.85L242.58,565.15M241.58,563.42L243.57,564.58M241.58,564.58L243.57,563.42" stroke="#333" stroke-width="0.75" fill="none"/>
<line x1="219.4" y1="566.5" x2="257.9" y2="566.5" stroke="#58595b" stroke-width="1.2"/>
<path d="M246.47,568.85L246.47,571.15M245.48,569.42L247.47,570.58M245.48,570.58L247.47,569.42M249.53,568.85L249.53,571.15M248.53,569.42L250.52,570.58M248.53,570.58L250.52,569.42" stroke="#333" stroke-width="0.75" fill="none"/>
<line x1="239" y1="573.5" x2="257.9" y2="573.5" stroke="#58595b" stroke-width="1.2"/>
<text font-size="9.46" text-anchor="end" textLength="27" lengthAdjust="spacingAndGlyphs" transform="translate(204,633.2) rotate(-45)">control</text>
<text font-size="9.46" text-anchor="end" textLength="37.8" lengthAdjust="spacingAndGlyphs" transform="translate(222.8,633.2) rotate(-45)">ASXL1-MT</text>
<text font-size="9.46" text-anchor="end" textLength="21.6" lengthAdjust="spacingAndGlyphs" transform="translate(241.6,633.2) rotate(-45)">HHEX</text>
<text font-size="9.46" text-anchor="end" textLength="38.88" lengthAdjust="spacingAndGlyphs" transform="translate(260.4,633.2) rotate(-45)">MT+HHEX</text>
<text x="285.8" y="548.6" font-size="11.5" font-weight="bold">I</text>
<text x="365.6" y="548.7" font-size="9.9" class="t" textLength="61.4" lengthAdjust="spacingAndGlyphs">Differentiation</text>
<text font-size="10.32" text-anchor="middle" textLength="72.7" lengthAdjust="spacingAndGlyphs" transform="translate(300.5,603.6) rotate(-90)">Frequency in live cells</text>
<line x1="324.5" y1="555.5" x2="324.5" y2="653.5" stroke="#231f20" stroke-width="1.25"/>
<line x1="321.4" y1="557.5" x2="324.4" y2="557.5" stroke="#231f20" stroke-width="1.25"/>
<text x="318.8" y="559.77" font-size="8.6" text-anchor="end" textLength="13.5" lengthAdjust="spacingAndGlyphs">100</text>
<line x1="321.4" y1="605.5" x2="324.4" y2="605.5" stroke="#231f20" stroke-width="1.25"/>
<text x="318.8" y="607.97" font-size="8.6" text-anchor="end" textLength="9" lengthAdjust="spacingAndGlyphs">50</text>
<line x1="321.4" y1="653.5" x2="324.4" y2="653.5" stroke="#231f20" stroke-width="1.25"/>
<text x="318.8" y="656.17" font-size="8.6" text-anchor="end" textLength="4.5" lengthAdjust="spacingAndGlyphs">0</text>
<line x1="321.4" y1="653.5" x2="467.8" y2="653.5" stroke="#231f20" stroke-width="1.3"/>
<line x1="334.5" y1="653.5" x2="334.5" y2="656.3" stroke="#231f20" stroke-width="1"/>
<line x1="354.5" y1="653.5" x2="354.5" y2="656.3" stroke="#231f20" stroke-width="1"/>
<line x1="375.5" y1="653.5" x2="375.5" y2="656.3" stroke="#231f20" stroke-width="1"/>
<line x1="396.5" y1="653.5" x2="396.5" y2="656.3" stroke="#231f20" stroke-width="1"/>
<line x1="417.5" y1="653.5" x2="417.5" y2="656.3" stroke="#231f20" stroke-width="1"/>
<line x1="437.5" y1="653.5" x2="437.5" y2="656.3" stroke="#231f20" stroke-width="1"/>
<line x1="458.5" y1="653.5" x2="458.5" y2="656.3" stroke="#231f20" stroke-width="1"/>
<rect x="326.25" y="650.61" width="3.3" height="2.89" fill="#b5d69c"/>
<line x1="327.9" y1="649.64" x2="327.9" y2="651.57" stroke="#5aaa2e" stroke-width="0.8"/>
<line x1="326.7" y1="649.64" x2="329.1" y2="649.64" stroke="#5aaa2e" stroke-width="0.8"/>
<circle cx="328.41" cy="650.04" r="0.89" fill="#5aaa2e"/>
<circle cx="326.66" cy="651.44" r="0.89" fill="#5aaa2e"/>
<circle cx="327.53" cy="651.74" r="0.89" fill="#5aaa2e"/>
<rect x="330.45" y="647.72" width="3.3" height="5.78" fill="#db8b7c"/>
<line x1="332.1" y1="647.23" x2="332.1" y2="648.2" stroke="#c4122f" stroke-width="0.8"/>
<line x1="330.9" y1="647.23" x2="333.3" y2="647.23" stroke="#c4122f" stroke-width="0.8"/>
<rect x="332.15" y="647.49" width="1.68" height="1.68" fill="#c4122f"/>
<rect x="331.6" y="646.79" width="1.68" height="1.68" fill="#c4122f"/>
<rect x="331.74" y="646.68" width="1.68" height="1.68" fill="#c4122f"/>
<rect x="334.65" y="644.82" width="3.3" height="8.68" fill="#909ec9"/>
<line x1="336.3" y1="643.86" x2="336.3" y2="645.79" stroke="#2e5da8" stroke-width="0.8"/>
<line x1="335.1" y1="643.86" x2="337.5" y2="643.86" stroke="#2e5da8" stroke-width="0.8"/>
<path d="M334.99,643.7L336.04,645.59L333.94,645.59Z" fill="#2e5da8"/>
<path d="M336.96,642.75L338.01,644.64L335.91,644.64Z" fill="#2e5da8"/>
<path d="M336.39,643.66L337.44,645.55L335.34,645.55Z" fill="#2e5da8"/>
<rect x="338.85" y="639.04" width="3.3" height="14.46" fill="#a38bbd"/>
<line x1="340.5" y1="637.59" x2="340.5" y2="640.49" stroke="#5b2c86" stroke-width="0.8"/>
<line x1="339.3" y1="637.59" x2="341.7" y2="637.59" stroke="#5b2c86" stroke-width="0.8"/>
<path d="M339.35,639.46L340.4,637.57L338.3,637.57Z" fill="#5b2c86"/>
<path d="M339.85,639.1L340.9,637.21L338.8,637.21Z" fill="#5b2c86"/>
<path d="M339.88,642.16L340.93,640.27L338.83,640.27Z" fill="#5b2c86"/>
<rect x="346.95" y="568.67" width="3.3" height="84.83" fill="#b5d69c"/>
<line x1="348.6" y1="567.7" x2="348.6" y2="569.63" stroke="#5aaa2e" stroke-width="0.8"/>
<line x1="347.4" y1="567.7" x2="349.8" y2="567.7" stroke="#5aaa2e" stroke-width="0.8"/>
<circle cx="347.82" cy="567.96" r="0.89" fill="#5aaa2e"/>
<circle cx="349.86" cy="567.93" r="0.89" fill="#5aaa2e"/>
<circle cx="348.29" cy="568.69" r="0.89" fill="#5aaa2e"/>
<rect x="351.15" y="568.67" width="3.3" height="84.83" fill="#db8b7c"/>
<line x1="352.8" y1="567.7" x2="352.8" y2="569.63" stroke="#c4122f" stroke-width="0.8"/>
<line x1="351.6" y1="567.7" x2="354" y2="567.7" stroke="#c4122f" stroke-width="0.8"/>
<rect x="352.44" y="567.89" width="1.68" height="1.68" fill="#c4122f"/>
<rect x="352.27" y="567" width="1.68" height="1.68" fill="#c4122f"/>
<rect x="350.84" y="567.39" width="1.68" height="1.68" fill="#c4122f"/>
<rect x="355.35" y="568.67" width="3.3" height="84.83" fill="#909ec9"/>
<line x1="357" y1="567.7" x2="357" y2="569.63" stroke="#2e5da8" stroke-width="0.8"/>
<line x1="355.8" y1="567.7" x2="358.2" y2="567.7" stroke="#2e5da8" stroke-width="0.8"/>
<path d="M356.35,568.6L357.4,570.49L355.3,570.49Z" fill="#2e5da8"/>
<path d="M356.48,566.76L357.53,568.65L355.43,568.65Z" fill="#2e5da8"/>
<path d="M355.71,567.3L356.76,569.19L354.66,569.19Z" fill="#2e5da8"/>
<rect x="359.55" y="566.74" width="3.3" height="86.76" fill="#a38bbd"/>
<line x1="361.2" y1="565.29" x2="361.2" y2="568.19" stroke="#5b2c86" stroke-width="0.8"/>
<line x1="360" y1="565.29" x2="362.4" y2="565.29" stroke="#5b2c86" stroke-width="0.8"/>
<path d="M360.59,569.93L361.64,568.04L359.54,568.04Z" fill="#5b2c86"/>
<path d="M361.71,567.1L362.76,565.21L360.66,565.21Z" fill="#5b2c86"/>
<path d="M360.65,567.08L361.7,565.19L359.6,565.19Z" fill="#5b2c86"/>
<rect x="367.65" y="578.31" width="3.3" height="75.19" fill="#b5d69c"/>
<line x1="369.3" y1="576.38" x2="369.3" y2="580.24" stroke="#5aaa2e" stroke-width="0.8"/>
<line x1="368.1" y1="576.38" x2="370.5" y2="576.38" stroke="#5aaa2e" stroke-width="0.8"/>
<circle cx="369.21" cy="578.21" r="0.89" fill="#5aaa2e"/>
<circle cx="368.29" cy="578.52" r="0.89" fill="#5aaa2e"/>
<circle cx="368.51" cy="575.88" r="0.89" fill="#5aaa2e"/>
<rect x="371.85" y="579.27" width="3.3" height="74.23" fill="#db8b7c"/>
<line x1="373.5" y1="576.38" x2="373.5" y2="582.16" stroke="#c4122f" stroke-width="0.8"/>
<line x1="372.3" y1="576.38" x2="374.7" y2="576.38" stroke="#c4122f" stroke-width="0.8"/>
<rect x="373.81" y="574.01" width="1.68" height="1.68" fill="#c4122f"/>
<rect x="372.55" y="582.9" width="1.68" height="1.68" fill="#c4122f"/>
<rect x="373.9" y="575.47" width="1.68" height="1.68" fill="#c4122f"/>
<rect x="376.05" y="570.6" width="3.3" height="82.9" fill="#909ec9"/>
<line x1="377.7" y1="569.15" x2="377.7" y2="572.04" stroke="#2e5da8" stroke-width="0.8"/>
<line x1="376.5" y1="569.15" x2="378.9" y2="569.15" stroke="#2e5da8" stroke-width="0.8"/>
<path d="M377.09,569.67L378.14,571.56L376.04,571.56Z" fill="#2e5da8"/>
<path d="M378.88,570.78L379.93,572.67L377.83,572.67Z" fill="#2e5da8"/>
<path d="M377.92,570.78L378.97,572.67L376.87,572.67Z" fill="#2e5da8"/>
<rect x="380.25" y="569.63" width="3.3" height="83.87" fill="#a38bbd"/>
<line x1="381.9" y1="567.7" x2="381.9" y2="571.56" stroke="#5b2c86" stroke-width="0.8"/>
<line x1="380.7" y1="567.7" x2="383.1" y2="567.7" stroke="#5b2c86" stroke-width="0.8"/>
<path d="M381.96,573L383.01,571.11L380.91,571.11Z" fill="#5b2c86"/>
<path d="M380.93,567.99L381.98,566.1L379.88,566.1Z" fill="#5b2c86"/>
<path d="M381.92,568.81L382.97,566.92L380.87,566.92Z" fill="#5b2c86"/>
<rect x="388.35" y="606.26" width="3.3" height="47.24" fill="#b5d69c"/>
<line x1="390" y1="604.34" x2="390" y2="608.19" stroke="#5aaa2e" stroke-width="0.8"/>
<line x1="388.8" y1="604.34" x2="391.2" y2="604.34" stroke="#5aaa2e" stroke-width="0.8"/>
<circle cx="390.54" cy="603.88" r="0.89" fill="#5aaa2e"/>
<circle cx="391.05" cy="607.92" r="0.89" fill="#5aaa2e"/>
<circle cx="388.75" cy="606.35" r="0.89" fill="#5aaa2e"/>
<rect x="392.55" y="611.08" width="3.3" height="42.42" fill="#db8b7c"/>
<line x1="394.2" y1="610.12" x2="394.2" y2="612.05" stroke="#c4122f" stroke-width="0.8"/>
<line x1="393" y1="610.12" x2="395.4" y2="610.12" stroke="#c4122f" stroke-width="0.8"/>
<rect x="393.34" y="611.78" width="1.68" height="1.68" fill="#c4122f"/>
<rect x="392.84" y="610.4" width="1.68" height="1.68" fill="#c4122f"/>
<rect x="392.95" y="611.35" width="1.68" height="1.68" fill="#c4122f"/>
<rect x="396.75" y="634.22" width="3.3" height="19.28" fill="#909ec9"/>
<line x1="398.4" y1="633.26" x2="398.4" y2="635.18" stroke="#2e5da8" stroke-width="0.8"/>
<line x1="397.2" y1="633.26" x2="399.6" y2="633.26" stroke="#2e5da8" stroke-width="0.8"/>
<path d="M399.3,633.63L400.35,635.52L398.25,635.52Z" fill="#2e5da8"/>
<path d="M399.06,634.6L400.11,636.49L398.01,636.49Z" fill="#2e5da8"/>
<path d="M397.4,632.02L398.45,633.91L396.35,633.91Z" fill="#2e5da8"/>
<rect x="400.95" y="634.22" width="3.3" height="19.28" fill="#a38bbd"/>
<line x1="402.6" y1="633.26" x2="402.6" y2="635.18" stroke="#5b2c86" stroke-width="0.8"/>
<line x1="401.4" y1="633.26" x2="403.8" y2="633.26" stroke="#5b2c86" stroke-width="0.8"/>
<path d="M403.16,634.06L404.21,632.17L402.11,632.17Z" fill="#5b2c86"/>
<path d="M402.05,634.14L403.1,632.25L401,632.25Z" fill="#5b2c86"/>
<path d="M402.32,635.77L403.37,633.88L401.27,633.88Z" fill="#5b2c86"/>
<rect x="409.05" y="616.87" width="3.3" height="36.63" fill="#b5d69c"/>
<line x1="410.7" y1="612.05" x2="410.7" y2="621.69" stroke="#5aaa2e" stroke-width="0.8"/>
<line x1="409.5" y1="612.05" x2="411.9" y2="612.05" stroke="#5aaa2e" stroke-width="0.8"/>
<circle cx="410.94" cy="609.17" r="0.89" fill="#5aaa2e"/>
<circle cx="410.51" cy="619.02" r="0.89" fill="#5aaa2e"/>
<circle cx="409.51" cy="620.34" r="0.89" fill="#5aaa2e"/>
<rect x="413.25" y="619.76" width="3.3" height="33.74" fill="#db8b7c"/>
<line x1="414.9" y1="616.87" x2="414.9" y2="622.65" stroke="#c4122f" stroke-width="0.8"/>
<line x1="413.7" y1="616.87" x2="416.1" y2="616.87" stroke="#c4122f" stroke-width="0.8"/>
<rect x="414.94" y="622.61" width="1.68" height="1.68" fill="#c4122f"/>
<rect x="415.21" y="620.9" width="1.68" height="1.68" fill="#c4122f"/>
<rect x="413.44" y="621.24" width="1.68" height="1.68" fill="#c4122f"/>
<rect x="417.45" y="638.08" width="3.3" height="15.42" fill="#909ec9"/>
<line x1="419.1" y1="634.22" x2="419.1" y2="641.93" stroke="#2e5da8" stroke-width="0.8"/>
<line x1="417.9" y1="634.22" x2="420.3" y2="634.22" stroke="#2e5da8" stroke-width="0.8"/>
<path d="M418.28,636.79L419.33,638.68L417.23,638.68Z" fill="#2e5da8"/>
<path d="M420.3,638.48L421.35,640.37L419.25,640.37Z" fill="#2e5da8"/>
<path d="M419.92,632.18L420.97,634.07L418.87,634.07Z" fill="#2e5da8"/>
<rect x="421.65" y="648.68" width="3.3" height="4.82" fill="#a38bbd"/>
<line x1="423.3" y1="647.72" x2="423.3" y2="649.64" stroke="#5b2c86" stroke-width="0.8"/>
<line x1="422.1" y1="647.72" x2="424.5" y2="647.72" stroke="#5b2c86" stroke-width="0.8"/>
<path d="M424.39,649.43L425.44,647.54L423.34,647.54Z" fill="#5b2c86"/>
<path d="M423.43,648.48L424.48,646.59L422.38,646.59Z" fill="#5b2c86"/>
<path d="M422.11,649.16L423.16,647.27L421.06,647.27Z" fill="#5b2c86"/>
<rect x="429.75" y="621.69" width="3.3" height="31.81" fill="#b5d69c"/>
<line x1="431.4" y1="619.76" x2="431.4" y2="623.62" stroke="#5aaa2e" stroke-width="0.8"/>
<line x1="430.2" y1="619.76" x2="432.6" y2="619.76" stroke="#5aaa2e" stroke-width="0.8"/>
<circle cx="431.27" cy="620.25" r="0.89" fill="#5aaa2e"/>
<circle cx="431.78" cy="620.13" r="0.89" fill="#5aaa2e"/>
<circle cx="430.21" cy="623.01" r="0.89" fill="#5aaa2e"/>
<rect x="433.95" y="630.36" width="3.3" height="23.14" fill="#db8b7c"/>
<line x1="435.6" y1="627.47" x2="435.6" y2="633.26" stroke="#c4122f" stroke-width="0.8"/>
<line x1="434.4" y1="627.47" x2="436.8" y2="627.47" stroke="#c4122f" stroke-width="0.8"/>
<rect x="433.78" y="625.57" width="1.68" height="1.68" fill="#c4122f"/>
<rect x="434.35" y="629.78" width="1.68" height="1.68" fill="#c4122f"/>
<rect x="435.39" y="631.4" width="1.68" height="1.68" fill="#c4122f"/>
<rect x="438.15" y="647.72" width="3.3" height="5.78" fill="#909ec9"/>
<line x1="439.8" y1="646.75" x2="439.8" y2="648.68" stroke="#2e5da8" stroke-width="0.8"/>
<line x1="438.6" y1="646.75" x2="441" y2="646.75" stroke="#2e5da8" stroke-width="0.8"/>
<path d="M439.17,645.09L440.22,646.98L438.12,646.98Z" fill="#2e5da8"/>
<path d="M439.27,646.08L440.32,647.97L438.22,647.97Z" fill="#2e5da8"/>
<path d="M439.52,646.38L440.57,648.27L438.47,648.27Z" fill="#2e5da8"/>
<rect x="442.35" y="645.79" width="3.3" height="7.71" fill="#a38bbd"/>
<line x1="444" y1="644.82" x2="444" y2="646.75" stroke="#5b2c86" stroke-width="0.8"/>
<line x1="442.8" y1="644.82" x2="445.2" y2="644.82" stroke="#5b2c86" stroke-width="0.8"/>
<path d="M443.11,647.97L444.16,646.08L442.06,646.08Z" fill="#5b2c86"/>
<path d="M445.07,647.84L446.12,645.95L444.02,645.95Z" fill="#5b2c86"/>
<path d="M443.26,646.95L444.31,645.06L442.21,645.06Z" fill="#5b2c86"/>
<rect x="450.45" y="627.47" width="3.3" height="26.03" fill="#b5d69c"/>
<line x1="452.1" y1="625.54" x2="452.1" y2="629.4" stroke="#5aaa2e" stroke-width="0.8"/>
<line x1="450.9" y1="625.54" x2="453.3" y2="625.54" stroke="#5aaa2e" stroke-width="0.8"/>
<circle cx="453.41" cy="624.97" r="0.89" fill="#5aaa2e"/>
<circle cx="451.15" cy="627.78" r="0.89" fill="#5aaa2e"/>
<circle cx="451.02" cy="629.37" r="0.89" fill="#5aaa2e"/>
<rect x="454.65" y="635.18" width="3.3" height="18.32" fill="#db8b7c"/>
<line x1="456.3" y1="633.26" x2="456.3" y2="637.11" stroke="#c4122f" stroke-width="0.8"/>
<line x1="455.1" y1="633.26" x2="457.5" y2="633.26" stroke="#c4122f" stroke-width="0.8"/>
<rect x="454.38" y="635.32" width="1.68" height="1.68" fill="#c4122f"/>
<rect x="454.82" y="635.95" width="1.68" height="1.68" fill="#c4122f"/>
<rect x="456.48" y="633.91" width="1.68" height="1.68" fill="#c4122f"/>
<rect x="458.85" y="644.34" width="3.3" height="9.16" fill="#909ec9"/>
<line x1="460.5" y1="643.38" x2="460.5" y2="645.31" stroke="#2e5da8" stroke-width="0.8"/>
<line x1="459.3" y1="643.38" x2="461.7" y2="643.38" stroke="#2e5da8" stroke-width="0.8"/>
<path d="M460.27,642.42L461.32,644.31L459.22,644.31Z" fill="#2e5da8"/>
<path d="M460.56,643.45L461.61,645.34L459.51,645.34Z" fill="#2e5da8"/>
<path d="M460.07,643.57L461.12,645.46L459.02,645.46Z" fill="#2e5da8"/>
<rect x="463.05" y="649.64" width="3.3" height="3.86" fill="#a38bbd"/>
<line x1="464.7" y1="648.68" x2="464.7" y2="650.61" stroke="#5b2c86" stroke-width="0.8"/>
<line x1="463.5" y1="648.68" x2="465.9" y2="648.68" stroke="#5b2c86" stroke-width="0.8"/>
<path d="M464.11,652.15L465.16,650.26L463.06,650.26Z" fill="#5b2c86"/>
<path d="M463.71,649.36L464.76,647.47L462.66,647.47Z" fill="#5b2c86"/>
<path d="M465.04,650.79L466.09,648.9L463.99,648.9Z" fill="#5b2c86"/>
<path d="M330.62,623.55L330.62,625.85M329.63,624.12L331.62,625.28M329.63,625.28L331.62,624.12M333.68,623.55L333.68,625.85M332.68,624.12L334.67,625.28M332.68,625.28L334.67,624.12M336.73,623.55L336.73,625.85M335.73,624.12L337.72,625.28M335.73,625.28L337.72,624.12M339.77,623.55L339.77,625.85M338.78,624.12L340.77,625.28M338.78,625.28L340.77,624.12" stroke="#231f20" stroke-width="0.75" fill="none"/>
<line x1="327.2" y1="628.5" x2="342.6" y2="628.5" stroke="#231f20" stroke-width="1"/>
<line x1="331.5" y1="630.5" x2="342.6" y2="630.5" stroke="#231f20" stroke-width="1"/>
<line x1="336.4" y1="632.5" x2="342.6" y2="632.5" stroke="#231f20" stroke-width="1"/>
<path d="M392.43,589.45L392.43,591.75M391.43,590.02L393.42,591.18M391.43,591.18L393.42,590.02M395.48,589.45L395.48,591.75M394.48,590.02L396.47,591.18M394.48,591.18L396.47,590.02M398.53,589.45L398.53,591.75M397.53,590.02L399.52,591.18M397.53,591.18L399.52,590.02M401.57,589.45L401.57,591.75M400.58,590.02L402.57,591.18M400.58,591.18L402.57,590.02" stroke="#231f20" stroke-width="0.75" fill="none"/>
<line x1="389.8" y1="594.5" x2="405.5" y2="594.5" stroke="#231f20" stroke-width="1.1"/>
<path d="M394.93,597.65L394.93,599.95M393.93,598.22L395.92,599.38M393.93,599.38L395.92,598.22M397.98,597.65L397.98,599.95M396.98,598.22L398.97,599.38M396.98,599.38L398.97,598.22M401.03,597.65L401.03,599.95M400.03,598.22L402.02,599.38M400.03,599.38L402.02,598.22M404.07,597.65L404.07,599.95M403.08,598.22L405.07,599.38M403.08,599.38L405.07,598.22" stroke="#231f20" stroke-width="0.75" fill="none"/>
<line x1="393.3" y1="601.5" x2="405.5" y2="601.5" stroke="#231f20" stroke-width="1.1"/>
<path d="M411.43,596.45L411.43,598.75M410.43,597.02L412.42,598.18M410.43,598.18L412.42,597.02M414.48,596.45L414.48,598.75M413.48,597.02L415.47,598.18M413.48,598.18L415.47,597.02M417.53,596.45L417.53,598.75M416.53,597.02L418.52,598.18M416.53,598.18L418.52,597.02M420.57,596.45L420.57,598.75M419.58,597.02L421.57,598.18M419.58,598.18L421.57,597.02" stroke="#231f20" stroke-width="0.75" fill="none"/>
<line x1="409.2" y1="600.5" x2="423.9" y2="600.5" stroke="#231f20" stroke-width="1.1"/>
<path d="M414.43,603.15L414.43,605.45M413.43,603.72L415.42,604.88M413.43,604.88L415.42,603.72M417.48,603.15L417.48,605.45M416.48,603.72L418.47,604.88M416.48,604.88L418.47,603.72M420.53,603.15L420.53,605.45M419.53,603.72L421.52,604.88M419.53,604.88L421.52,603.72M423.57,603.15L423.57,605.45M422.58,603.72L424.57,604.88M422.58,604.88L424.57,603.72" stroke="#231f20" stroke-width="0.75" fill="none"/>
<line x1="412.7" y1="606.5" x2="423.9" y2="606.5" stroke="#231f20" stroke-width="1.1"/>
<path d="M421.5,608.85L421.5,611.15M420.5,609.42L422.5,610.58M420.5,610.58L422.5,609.42" stroke="#231f20" stroke-width="0.75" fill="none"/>
<line x1="419.2" y1="612.5" x2="423.9" y2="612.5" stroke="#231f20" stroke-width="1.1"/>
<path d="M432.93,596.45L432.93,598.75M431.93,597.02L433.92,598.18M431.93,598.18L433.92,597.02M435.98,596.45L435.98,598.75M434.98,597.02L436.97,598.18M434.98,598.18L436.97,597.02M439.03,596.45L439.03,598.75M438.03,597.02L440.02,598.18M438.03,598.18L440.02,597.02M442.07,596.45L442.07,598.75M441.08,597.02L443.07,598.18M441.08,598.18L443.07,597.02" stroke="#231f20" stroke-width="0.75" fill="none"/>
<line x1="430" y1="600.5" x2="445.7" y2="600.5" stroke="#231f20" stroke-width="1.1"/>
<path d="M435.43,603.15L435.43,605.45M434.43,603.72L436.42,604.88M434.43,604.88L436.42,603.72M438.48,603.15L438.48,605.45M437.48,603.72L439.47,604.88M437.48,604.88L439.47,603.72M441.53,603.15L441.53,605.45M440.53,603.72L442.52,604.88M440.53,604.88L442.52,603.72M444.57,603.15L444.57,605.45M443.58,603.72L445.57,604.88M443.58,604.88L445.57,603.72" stroke="#231f20" stroke-width="0.75" fill="none"/>
<line x1="434" y1="606.5" x2="445.7" y2="606.5" stroke="#231f20" stroke-width="1.1"/>
<path d="M452.43,596.45L452.43,598.75M451.43,597.02L453.42,598.18M451.43,598.18L453.42,597.02M455.48,596.45L455.48,598.75M454.48,597.02L456.47,598.18M454.48,598.18L456.47,597.02M458.53,596.45L458.53,598.75M457.53,597.02L459.52,598.18M457.53,598.18L459.52,597.02M461.57,596.45L461.57,598.75M460.58,597.02L462.57,598.18M460.58,598.18L462.57,597.02" stroke="#231f20" stroke-width="0.75" fill="none"/>
<line x1="449.8" y1="600.5" x2="464.7" y2="600.5" stroke="#231f20" stroke-width="1.1"/>
<path d="M455.43,603.15L455.43,605.45M454.43,603.72L456.42,604.88M454.43,604.88L456.42,603.72M458.48,603.15L458.48,605.45M457.48,603.72L459.47,604.88M457.48,604.88L459.47,603.72M461.53,603.15L461.53,605.45M460.53,603.72L462.52,604.88M460.53,604.88L462.52,603.72M464.57,603.15L464.57,605.45M463.58,603.72L465.57,604.88M463.58,604.88L465.57,603.72" stroke="#231f20" stroke-width="0.75" fill="none"/>
<line x1="453.5" y1="606.5" x2="464.7" y2="606.5" stroke="#231f20" stroke-width="1.1"/>
<path d="M462.3,609.15L462.3,611.45M461.3,609.72L463.3,610.88M461.3,610.88L463.3,609.72" stroke="#231f20" stroke-width="0.75" fill="none"/>
<line x1="460" y1="613.5" x2="464.7" y2="613.5" stroke="#231f20" stroke-width="1.1"/>
<text font-size="9.46" text-anchor="end" textLength="19.44" lengthAdjust="spacingAndGlyphs" transform="translate(336,662.2) rotate(-45)">CD34</text>
<text font-size="9.46" text-anchor="end" textLength="19.44" lengthAdjust="spacingAndGlyphs" transform="translate(356.7,662.2) rotate(-45)">CD33</text>
<text font-size="9.46" text-anchor="end" textLength="22.68" lengthAdjust="spacingAndGlyphs" transform="translate(377.4,662.2) rotate(-45)">CD11b</text>
<text font-size="9.46" text-anchor="end" textLength="24.3" lengthAdjust="spacingAndGlyphs" transform="translate(398.1,662.2) rotate(-45)">CD66b</text>
<text font-size="9.46" text-anchor="end" textLength="19.44" lengthAdjust="spacingAndGlyphs" transform="translate(418.8,662.2) rotate(-45)">CD14</text>
<text font-size="9.46" text-anchor="end" textLength="19.44" lengthAdjust="spacingAndGlyphs" transform="translate(439.5,662.2) rotate(-45)">CD16</text>
<text font-size="9.46" text-anchor="end" textLength="23.22" lengthAdjust="spacingAndGlyphs" transform="translate(460.2,662.2) rotate(-45)">CD117</text>
<rect x="466.3" y="555.8" width="7.7" height="4.4" fill="#5ea934"/>
<text x="477.3" y="560.88" font-size="8" textLength="24.5" lengthAdjust="spacingAndGlyphs">Control</text>
<rect x="466.3" y="566.9" width="7.7" height="4.4" fill="#b0002a"/>
<text x="477.3" y="571.98" font-size="8" textLength="35.2" lengthAdjust="spacingAndGlyphs">ASXL1-MT</text>
<rect x="466.3" y="578.1" width="7.7" height="4.4" fill="#2c4f8e"/>
<text x="477.3" y="583.18" font-size="8" textLength="19.6" lengthAdjust="spacingAndGlyphs">HHEX</text>
<rect x="466.3" y="588.9" width="7.7" height="4.4" fill="#4a1e6e"/>
<text x="477.3" y="593.98" font-size="8" textLength="35.7" lengthAdjust="spacingAndGlyphs">MT+HHEX</text>
<rect x="0.6" y="0.6" width="518.8" height="684.8" fill="none" stroke="#000" stroke-width="1.4"/>
</svg></body></html>
